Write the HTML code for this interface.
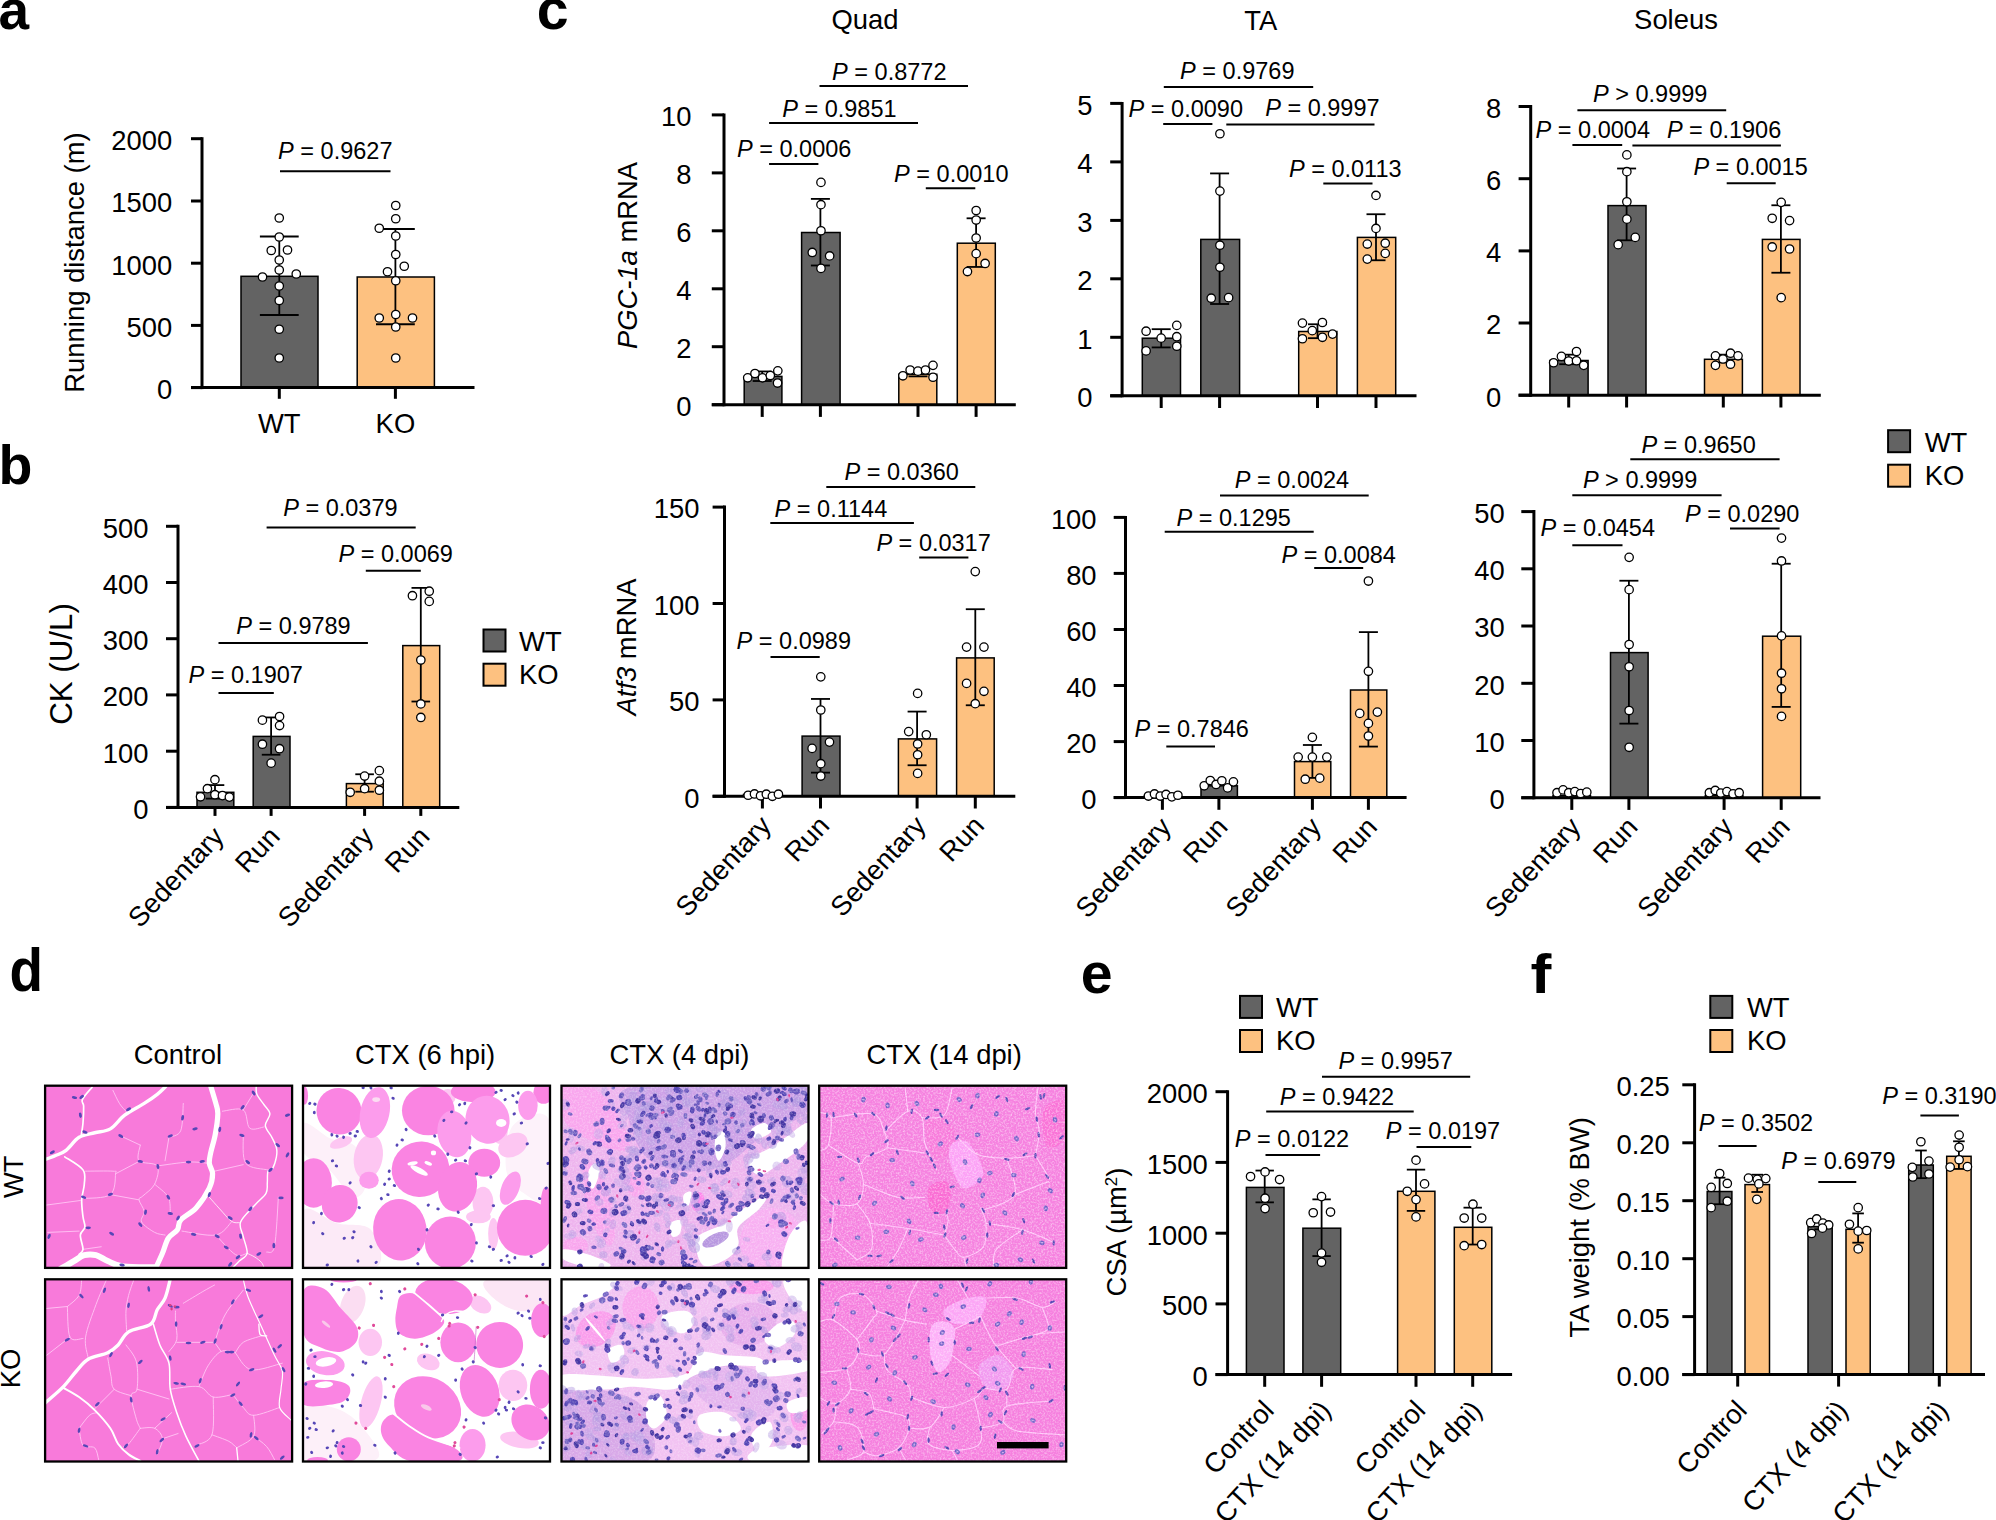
<!DOCTYPE html>
<html><head><meta charset="utf-8"><title>Figure</title>
<style>
html,body{margin:0;padding:0;background:#fff;}
svg{display:block;}
svg text{font-family:"Liberation Sans",Arial,Helvetica,sans-serif;fill:#000;}
</style></head><body>
<svg width="1996" height="1520" viewBox="0 0 1996 1520">
<rect width="1996" height="1520" fill="#fff"/>
<text transform="translate(-1.5 29) scale(1.0 1)" x="0" y="0" font-size="55" font-weight="bold">a</text>
<text transform="translate(-1.4 483.6) scale(1.0 1)" x="0" y="0" font-size="55.5" font-weight="bold">b</text>
<text transform="translate(536.8 29) scale(1.0 1)" x="0" y="0" font-size="57.3" font-weight="bold">c</text>
<text transform="translate(9.6 990.8) scale(0.895 1)" x="0" y="0" font-size="61.3" font-weight="bold">d</text>
<text transform="translate(1080.8 993.2) scale(1.0 1)" x="0" y="0" font-size="57.3" font-weight="bold">e</text>
<text transform="translate(1530.6 992.8) scale(1.13 1)" x="0" y="0" font-size="55.5" font-weight="bold">f</text>
<rect x="241" y="276.3" width="77" height="111.3" fill="#636363" stroke="#000" stroke-width="1.5"/>
<rect x="357.2" y="277" width="77.2" height="110.6" fill="#FDC180" stroke="#000" stroke-width="1.5"/>
<line x1="279.3" y1="236.5" x2="279.3" y2="315" stroke="#000" stroke-width="1.8" stroke-linecap="butt"/>
<line x1="259.9" y1="236.5" x2="298.7" y2="236.5" stroke="#000" stroke-width="1.8" stroke-linecap="butt"/>
<line x1="259.9" y1="315" x2="298.7" y2="315" stroke="#000" stroke-width="1.8" stroke-linecap="butt"/>
<line x1="395.4" y1="229" x2="395.4" y2="324.25" stroke="#000" stroke-width="1.8" stroke-linecap="butt"/>
<line x1="376" y1="229" x2="414.8" y2="229" stroke="#000" stroke-width="1.8" stroke-linecap="butt"/>
<line x1="376" y1="324.25" x2="414.8" y2="324.25" stroke="#000" stroke-width="1.8" stroke-linecap="butt"/>
<line x1="202" y1="137.2" x2="202" y2="389.1" stroke="#000" stroke-width="3" stroke-linecap="butt"/>
<line x1="191" y1="387.6" x2="474.5" y2="387.6" stroke="#000" stroke-width="3" stroke-linecap="butt"/>
<line x1="191" y1="138.7" x2="202" y2="138.7" stroke="#000" stroke-width="3" stroke-linecap="butt"/>
<text x="172.3" y="150" font-size="27.4" text-anchor="end">2000</text>
<line x1="191" y1="201" x2="202" y2="201" stroke="#000" stroke-width="3" stroke-linecap="butt"/>
<text x="172.3" y="212.3" font-size="27.4" text-anchor="end">1500</text>
<line x1="191" y1="263.2" x2="202" y2="263.2" stroke="#000" stroke-width="3" stroke-linecap="butt"/>
<text x="172.3" y="274.5" font-size="27.4" text-anchor="end">1000</text>
<line x1="191" y1="325.4" x2="202" y2="325.4" stroke="#000" stroke-width="3" stroke-linecap="butt"/>
<text x="172.3" y="336.7" font-size="27.4" text-anchor="end">500</text>
<line x1="191" y1="387.6" x2="202" y2="387.6" stroke="#000" stroke-width="3" stroke-linecap="butt"/>
<text x="172.3" y="398.9" font-size="27.4" text-anchor="end">0</text>
<line x1="279.3" y1="387.6" x2="279.3" y2="398.8" stroke="#000" stroke-width="3" stroke-linecap="butt"/>
<line x1="395.4" y1="387.6" x2="395.4" y2="398.8" stroke="#000" stroke-width="3" stroke-linecap="butt"/>
<circle cx="279.25" cy="218" r="4.2" fill="#fff" stroke="#000" stroke-width="1.3"/>
<circle cx="279.25" cy="237" r="4.2" fill="#fff" stroke="#000" stroke-width="1.3"/>
<circle cx="271.25" cy="250.5" r="4.2" fill="#fff" stroke="#000" stroke-width="1.3"/>
<circle cx="287.5" cy="250" r="4.2" fill="#fff" stroke="#000" stroke-width="1.3"/>
<circle cx="279.25" cy="260" r="4.2" fill="#fff" stroke="#000" stroke-width="1.3"/>
<circle cx="279.25" cy="270" r="4.2" fill="#fff" stroke="#000" stroke-width="1.3"/>
<circle cx="262.5" cy="277" r="4.2" fill="#fff" stroke="#000" stroke-width="1.3"/>
<circle cx="296.25" cy="274" r="4.2" fill="#fff" stroke="#000" stroke-width="1.3"/>
<circle cx="279.25" cy="286" r="4.2" fill="#fff" stroke="#000" stroke-width="1.3"/>
<circle cx="279.25" cy="300.5" r="4.2" fill="#fff" stroke="#000" stroke-width="1.3"/>
<circle cx="279.25" cy="329.25" r="4.2" fill="#fff" stroke="#000" stroke-width="1.3"/>
<circle cx="279.25" cy="358" r="4.2" fill="#fff" stroke="#000" stroke-width="1.3"/>
<circle cx="395.75" cy="205.5" r="4.2" fill="#fff" stroke="#000" stroke-width="1.3"/>
<circle cx="395.75" cy="218.75" r="4.2" fill="#fff" stroke="#000" stroke-width="1.3"/>
<circle cx="379.25" cy="228.25" r="4.2" fill="#fff" stroke="#000" stroke-width="1.3"/>
<circle cx="395.75" cy="236" r="4.2" fill="#fff" stroke="#000" stroke-width="1.3"/>
<circle cx="395.75" cy="254.5" r="4.2" fill="#fff" stroke="#000" stroke-width="1.3"/>
<circle cx="404.25" cy="266.25" r="4.2" fill="#fff" stroke="#000" stroke-width="1.3"/>
<circle cx="387.5" cy="271.75" r="4.2" fill="#fff" stroke="#000" stroke-width="1.3"/>
<circle cx="395.75" cy="280.75" r="4.2" fill="#fff" stroke="#000" stroke-width="1.3"/>
<circle cx="395.75" cy="314.5" r="4.2" fill="#fff" stroke="#000" stroke-width="1.3"/>
<circle cx="379.25" cy="318" r="4.2" fill="#fff" stroke="#000" stroke-width="1.3"/>
<circle cx="412.5" cy="318" r="4.2" fill="#fff" stroke="#000" stroke-width="1.3"/>
<circle cx="395.75" cy="327" r="4.2" fill="#fff" stroke="#000" stroke-width="1.3"/>
<circle cx="395.75" cy="358" r="4.2" fill="#fff" stroke="#000" stroke-width="1.3"/>
<text x="335.3" y="158.7" font-size="23.5" text-anchor="middle"><tspan font-style="italic">P</tspan> = 0.9627</text>
<line x1="280" y1="171.25" x2="390.5" y2="171.25" stroke="#000" stroke-width="2" stroke-linecap="butt"/>
<text x="279.3" y="433" font-size="27.4" text-anchor="middle">WT</text>
<text x="395.4" y="433" font-size="27.4" text-anchor="middle">KO</text>
<text x="83.5" y="262.5" font-size="27.4" text-anchor="middle" transform="rotate(-90 83.5 262.5)">Running distance (m)</text>
<rect x="197" y="792.3" width="36.8" height="15.1" fill="#636363" stroke="#000" stroke-width="1.5"/>
<rect x="253.2" y="736.4" width="36.8" height="71" fill="#636363" stroke="#000" stroke-width="1.5"/>
<rect x="346.4" y="783.6" width="36.8" height="23.8" fill="#FDC180" stroke="#000" stroke-width="1.5"/>
<rect x="402.8" y="645.6" width="36.9" height="161.8" fill="#FDC180" stroke="#000" stroke-width="1.5"/>
<line x1="215" y1="785.09" x2="215" y2="798.61" stroke="#000" stroke-width="1.8" stroke-linecap="butt"/>
<line x1="205.7" y1="785.09" x2="224.3" y2="785.09" stroke="#000" stroke-width="1.8" stroke-linecap="butt"/>
<line x1="205.7" y1="798.61" x2="224.3" y2="798.61" stroke="#000" stroke-width="1.8" stroke-linecap="butt"/>
<line x1="271.1" y1="717.45" x2="271.1" y2="754.73" stroke="#000" stroke-width="1.8" stroke-linecap="butt"/>
<line x1="261.8" y1="717.45" x2="280.4" y2="717.45" stroke="#000" stroke-width="1.8" stroke-linecap="butt"/>
<line x1="261.8" y1="754.73" x2="280.4" y2="754.73" stroke="#000" stroke-width="1.8" stroke-linecap="butt"/>
<line x1="364.6" y1="774.27" x2="364.6" y2="791.7" stroke="#000" stroke-width="1.8" stroke-linecap="butt"/>
<line x1="355.3" y1="774.27" x2="373.9" y2="774.27" stroke="#000" stroke-width="1.8" stroke-linecap="butt"/>
<line x1="355.3" y1="791.7" x2="373.9" y2="791.7" stroke="#000" stroke-width="1.8" stroke-linecap="butt"/>
<line x1="420.8" y1="587.89" x2="420.8" y2="701.52" stroke="#000" stroke-width="1.8" stroke-linecap="butt"/>
<line x1="411.5" y1="587.89" x2="430.1" y2="587.89" stroke="#000" stroke-width="1.8" stroke-linecap="butt"/>
<line x1="411.5" y1="701.52" x2="430.1" y2="701.52" stroke="#000" stroke-width="1.8" stroke-linecap="butt"/>
<line x1="178" y1="524.8" x2="178" y2="808.9" stroke="#000" stroke-width="3" stroke-linecap="butt"/>
<line x1="166" y1="807.4" x2="459.3" y2="807.4" stroke="#000" stroke-width="3" stroke-linecap="butt"/>
<line x1="166" y1="526.3" x2="178" y2="526.3" stroke="#000" stroke-width="3" stroke-linecap="butt"/>
<text x="148.5" y="537.6" font-size="27.4" text-anchor="end">500</text>
<line x1="166" y1="582.5" x2="178" y2="582.5" stroke="#000" stroke-width="3" stroke-linecap="butt"/>
<text x="148.5" y="593.8" font-size="27.4" text-anchor="end">400</text>
<line x1="166" y1="638.7" x2="178" y2="638.7" stroke="#000" stroke-width="3" stroke-linecap="butt"/>
<text x="148.5" y="650" font-size="27.4" text-anchor="end">300</text>
<line x1="166" y1="694.9" x2="178" y2="694.9" stroke="#000" stroke-width="3" stroke-linecap="butt"/>
<text x="148.5" y="706.2" font-size="27.4" text-anchor="end">200</text>
<line x1="166" y1="751.2" x2="178" y2="751.2" stroke="#000" stroke-width="3" stroke-linecap="butt"/>
<text x="148.5" y="762.5" font-size="27.4" text-anchor="end">100</text>
<line x1="166" y1="807.4" x2="178" y2="807.4" stroke="#000" stroke-width="3" stroke-linecap="butt"/>
<text x="148.5" y="818.7" font-size="27.4" text-anchor="end">0</text>
<line x1="215" y1="807.4" x2="215" y2="815.9" stroke="#000" stroke-width="3" stroke-linecap="butt"/>
<line x1="271.1" y1="807.4" x2="271.1" y2="815.9" stroke="#000" stroke-width="3" stroke-linecap="butt"/>
<line x1="364.6" y1="807.4" x2="364.6" y2="815.9" stroke="#000" stroke-width="3" stroke-linecap="butt"/>
<line x1="420.8" y1="807.4" x2="420.8" y2="815.9" stroke="#000" stroke-width="3" stroke-linecap="butt"/>
<circle cx="200.5" cy="796.81" r="4.2" fill="#fff" stroke="#000" stroke-width="1.3"/>
<circle cx="207.41" cy="788.69" r="4.2" fill="#fff" stroke="#000" stroke-width="1.3"/>
<circle cx="214.93" cy="779.68" r="4.2" fill="#fff" stroke="#000" stroke-width="1.3"/>
<circle cx="214.93" cy="794.71" r="4.2" fill="#fff" stroke="#000" stroke-width="1.3"/>
<circle cx="222.44" cy="795.61" r="4.2" fill="#fff" stroke="#000" stroke-width="1.3"/>
<circle cx="229.36" cy="797.11" r="4.2" fill="#fff" stroke="#000" stroke-width="1.3"/>
<circle cx="262.42" cy="720.16" r="4.2" fill="#fff" stroke="#000" stroke-width="1.3"/>
<circle cx="279.56" cy="716.55" r="4.2" fill="#fff" stroke="#000" stroke-width="1.3"/>
<circle cx="279.56" cy="725.57" r="4.2" fill="#fff" stroke="#000" stroke-width="1.3"/>
<circle cx="262.42" cy="744.21" r="4.2" fill="#fff" stroke="#000" stroke-width="1.3"/>
<circle cx="279.56" cy="748.71" r="4.2" fill="#fff" stroke="#000" stroke-width="1.3"/>
<circle cx="271.14" cy="763.14" r="4.2" fill="#fff" stroke="#000" stroke-width="1.3"/>
<circle cx="350.2" cy="792.3" r="4.2" fill="#fff" stroke="#000" stroke-width="1.3"/>
<circle cx="364.63" cy="776.07" r="4.2" fill="#fff" stroke="#000" stroke-width="1.3"/>
<circle cx="379.35" cy="770.66" r="4.2" fill="#fff" stroke="#000" stroke-width="1.3"/>
<circle cx="379.35" cy="781.18" r="4.2" fill="#fff" stroke="#000" stroke-width="1.3"/>
<circle cx="364.63" cy="788.69" r="4.2" fill="#fff" stroke="#000" stroke-width="1.3"/>
<circle cx="379.35" cy="790.2" r="4.2" fill="#fff" stroke="#000" stroke-width="1.3"/>
<circle cx="412.42" cy="595.71" r="4.2" fill="#fff" stroke="#000" stroke-width="1.3"/>
<circle cx="429.25" cy="591.2" r="4.2" fill="#fff" stroke="#000" stroke-width="1.3"/>
<circle cx="429.25" cy="601.42" r="4.2" fill="#fff" stroke="#000" stroke-width="1.3"/>
<circle cx="420.84" cy="660.04" r="4.2" fill="#fff" stroke="#000" stroke-width="1.3"/>
<circle cx="420.84" cy="703.93" r="4.2" fill="#fff" stroke="#000" stroke-width="1.3"/>
<circle cx="420.84" cy="717.45" r="4.2" fill="#fff" stroke="#000" stroke-width="1.3"/>
<text x="340.4" y="515.8" font-size="23.5" text-anchor="middle"><tspan font-style="italic">P</tspan> = 0.0379</text>
<line x1="266.6" y1="527.5" x2="415.7" y2="527.5" stroke="#000" stroke-width="2" stroke-linecap="butt"/>
<text x="395.7" y="561.8" font-size="23.5" text-anchor="middle"><tspan font-style="italic">P</tspan> = 0.0069</text>
<line x1="365.8" y1="570.8" x2="420.8" y2="570.8" stroke="#000" stroke-width="2" stroke-linecap="butt"/>
<text x="293.5" y="634" font-size="23.5" text-anchor="middle"><tspan font-style="italic">P</tspan> = 0.9789</text>
<line x1="218.5" y1="642.9" x2="367.9" y2="642.9" stroke="#000" stroke-width="2" stroke-linecap="butt"/>
<text x="245.7" y="682.7" font-size="23.5" text-anchor="middle"><tspan font-style="italic">P</tspan> = 0.1907</text>
<line x1="218.5" y1="693.1" x2="273.8" y2="693.1" stroke="#000" stroke-width="2" stroke-linecap="butt"/>
<text x="71.5" y="664" font-size="31.3" text-anchor="middle" transform="rotate(-90 71.5 664)">CK (U/L)</text>
<text x="225.3" y="837.7" font-size="27.4" text-anchor="end" transform="rotate(-47 225.3 837.7)">Sedentary</text>
<text x="281.4" y="837.7" font-size="27.4" text-anchor="end" transform="rotate(-47 281.4 837.7)">Run</text>
<text x="374.9" y="837.7" font-size="27.4" text-anchor="end" transform="rotate(-47 374.9 837.7)">Sedentary</text>
<text x="431.1" y="837.7" font-size="27.4" text-anchor="end" transform="rotate(-47 431.1 837.7)">Run</text>
<rect x="483.5" y="629.5" width="22" height="22" fill="#636363" stroke="#000" stroke-width="2"/>
<rect x="483.5" y="663.7" width="22" height="22" fill="#FDC180" stroke="#000" stroke-width="2"/>
<text x="519.1" y="651.3" font-size="27.4" text-anchor="start">WT</text>
<text x="519.1" y="684.1" font-size="27.4" text-anchor="start">KO</text>
<rect x="744.2" y="376.4" width="37.7" height="28.3" fill="#636363" stroke="#000" stroke-width="1.5"/>
<rect x="801.6" y="232.5" width="38.5" height="172.2" fill="#636363" stroke="#000" stroke-width="1.5"/>
<rect x="898.8" y="374.3" width="38" height="30.4" fill="#FDC180" stroke="#000" stroke-width="1.5"/>
<rect x="957.3" y="243.2" width="38" height="161.5" fill="#FDC180" stroke="#000" stroke-width="1.5"/>
<line x1="762.2" y1="371.45" x2="762.2" y2="381.01" stroke="#000" stroke-width="1.8" stroke-linecap="butt"/>
<line x1="752.7" y1="371.45" x2="771.7" y2="371.45" stroke="#000" stroke-width="1.8" stroke-linecap="butt"/>
<line x1="752.7" y1="381.01" x2="771.7" y2="381.01" stroke="#000" stroke-width="1.8" stroke-linecap="butt"/>
<line x1="820.4" y1="198.9" x2="820.4" y2="265.49" stroke="#000" stroke-width="1.8" stroke-linecap="butt"/>
<line x1="810.9" y1="198.9" x2="829.9" y2="198.9" stroke="#000" stroke-width="1.8" stroke-linecap="butt"/>
<line x1="810.9" y1="265.49" x2="829.9" y2="265.49" stroke="#000" stroke-width="1.8" stroke-linecap="butt"/>
<line x1="918" y1="369.72" x2="918" y2="376.38" stroke="#000" stroke-width="1.8" stroke-linecap="butt"/>
<line x1="908.5" y1="369.72" x2="927.5" y2="369.72" stroke="#000" stroke-width="1.8" stroke-linecap="butt"/>
<line x1="908.5" y1="376.38" x2="927.5" y2="376.38" stroke="#000" stroke-width="1.8" stroke-linecap="butt"/>
<line x1="976.1" y1="218.3" x2="976.1" y2="266.94" stroke="#000" stroke-width="1.8" stroke-linecap="butt"/>
<line x1="966.6" y1="218.3" x2="985.6" y2="218.3" stroke="#000" stroke-width="1.8" stroke-linecap="butt"/>
<line x1="966.6" y1="266.94" x2="985.6" y2="266.94" stroke="#000" stroke-width="1.8" stroke-linecap="butt"/>
<line x1="724" y1="113.4" x2="724" y2="406.2" stroke="#000" stroke-width="3" stroke-linecap="butt"/>
<line x1="711.8" y1="404.7" x2="1015.8" y2="404.7" stroke="#000" stroke-width="3" stroke-linecap="butt"/>
<line x1="711.8" y1="114.9" x2="724" y2="114.9" stroke="#000" stroke-width="3" stroke-linecap="butt"/>
<text x="691.5" y="126.2" font-size="27.4" text-anchor="end">10</text>
<line x1="711.8" y1="172.9" x2="724" y2="172.9" stroke="#000" stroke-width="3" stroke-linecap="butt"/>
<text x="691.5" y="184.2" font-size="27.4" text-anchor="end">8</text>
<line x1="711.8" y1="230.8" x2="724" y2="230.8" stroke="#000" stroke-width="3" stroke-linecap="butt"/>
<text x="691.5" y="242.1" font-size="27.4" text-anchor="end">6</text>
<line x1="711.8" y1="288.8" x2="724" y2="288.8" stroke="#000" stroke-width="3" stroke-linecap="butt"/>
<text x="691.5" y="300.1" font-size="27.4" text-anchor="end">4</text>
<line x1="711.8" y1="346.7" x2="724" y2="346.7" stroke="#000" stroke-width="3" stroke-linecap="butt"/>
<text x="691.5" y="358" font-size="27.4" text-anchor="end">2</text>
<line x1="711.8" y1="404.7" x2="724" y2="404.7" stroke="#000" stroke-width="3" stroke-linecap="butt"/>
<text x="691.5" y="416" font-size="27.4" text-anchor="end">0</text>
<line x1="762.2" y1="404.7" x2="762.2" y2="416.9" stroke="#000" stroke-width="3" stroke-linecap="butt"/>
<line x1="820.4" y1="404.7" x2="820.4" y2="416.9" stroke="#000" stroke-width="3" stroke-linecap="butt"/>
<line x1="918" y1="404.7" x2="918" y2="416.9" stroke="#000" stroke-width="3" stroke-linecap="butt"/>
<line x1="976.1" y1="404.7" x2="976.1" y2="416.9" stroke="#000" stroke-width="3" stroke-linecap="butt"/>
<circle cx="747.72" cy="377.82" r="4.2" fill="#fff" stroke="#000" stroke-width="1.3"/>
<circle cx="754.96" cy="373.48" r="4.2" fill="#fff" stroke="#000" stroke-width="1.3"/>
<circle cx="762.48" cy="377.82" r="4.2" fill="#fff" stroke="#000" stroke-width="1.3"/>
<circle cx="770.3" cy="375.51" r="4.2" fill="#fff" stroke="#000" stroke-width="1.3"/>
<circle cx="777.83" cy="370.87" r="4.2" fill="#fff" stroke="#000" stroke-width="1.3"/>
<circle cx="777.54" cy="383.03" r="4.2" fill="#fff" stroke="#000" stroke-width="1.3"/>
<circle cx="820.97" cy="182.4" r="4.2" fill="#fff" stroke="#000" stroke-width="1.3"/>
<circle cx="820.97" cy="204.69" r="4.2" fill="#fff" stroke="#000" stroke-width="1.3"/>
<circle cx="820.97" cy="230.75" r="4.2" fill="#fff" stroke="#000" stroke-width="1.3"/>
<circle cx="812.28" cy="252.46" r="4.2" fill="#fff" stroke="#000" stroke-width="1.3"/>
<circle cx="829.65" cy="255.94" r="4.2" fill="#fff" stroke="#000" stroke-width="1.3"/>
<circle cx="820.97" cy="268.38" r="4.2" fill="#fff" stroke="#000" stroke-width="1.3"/>
<circle cx="902.9" cy="375.8" r="4.2" fill="#fff" stroke="#000" stroke-width="1.3"/>
<circle cx="910.14" cy="370.01" r="4.2" fill="#fff" stroke="#000" stroke-width="1.3"/>
<circle cx="917.96" cy="371.16" r="4.2" fill="#fff" stroke="#000" stroke-width="1.3"/>
<circle cx="925.48" cy="370.01" r="4.2" fill="#fff" stroke="#000" stroke-width="1.3"/>
<circle cx="933.01" cy="365.37" r="4.2" fill="#fff" stroke="#000" stroke-width="1.3"/>
<circle cx="933.01" cy="377.24" r="4.2" fill="#fff" stroke="#000" stroke-width="1.3"/>
<circle cx="976.15" cy="210.48" r="4.2" fill="#fff" stroke="#000" stroke-width="1.3"/>
<circle cx="976.15" cy="220.03" r="4.2" fill="#fff" stroke="#000" stroke-width="1.3"/>
<circle cx="976.15" cy="237.98" r="4.2" fill="#fff" stroke="#000" stroke-width="1.3"/>
<circle cx="976.15" cy="253.62" r="4.2" fill="#fff" stroke="#000" stroke-width="1.3"/>
<circle cx="985.12" cy="263.46" r="4.2" fill="#fff" stroke="#000" stroke-width="1.3"/>
<circle cx="967.46" cy="271.57" r="4.2" fill="#fff" stroke="#000" stroke-width="1.3"/>
<text x="889.3" y="80.3" font-size="23.5" text-anchor="middle"><tspan font-style="italic">P</tspan> = 0.8772</text>
<line x1="819.5" y1="86" x2="968" y2="86" stroke="#000" stroke-width="2" stroke-linecap="butt"/>
<text x="839.4" y="116.5" font-size="23.5" text-anchor="middle"><tspan font-style="italic">P</tspan> = 0.9851</text>
<line x1="769.1" y1="123" x2="918" y2="123" stroke="#000" stroke-width="2" stroke-linecap="butt"/>
<text x="794.2" y="157" font-size="23.5" text-anchor="middle"><tspan font-style="italic">P</tspan> = 0.0006</text>
<line x1="769.1" y1="163.9" x2="818.4" y2="163.9" stroke="#000" stroke-width="2" stroke-linecap="butt"/>
<text x="951.3" y="181.7" font-size="23.5" text-anchor="middle"><tspan font-style="italic">P</tspan> = 0.0010</text>
<line x1="925.8" y1="188.2" x2="975.3" y2="188.2" stroke="#000" stroke-width="2" stroke-linecap="butt"/>
<text x="865" y="29" font-size="27.4" text-anchor="middle">Quad</text>
<text x="637.1" y="255.5" font-size="27.4" text-anchor="middle" transform="rotate(-90 637.1 255.5)"><tspan font-style="italic">PGC-1a</tspan> mRNA</text>
<rect x="1142.3" y="338.2" width="38.2" height="57.6" fill="#636363" stroke="#000" stroke-width="1.5"/>
<rect x="1200.8" y="239.4" width="38.8" height="156.4" fill="#636363" stroke="#000" stroke-width="1.5"/>
<rect x="1298.7" y="331.5" width="38.2" height="64.3" fill="#FDC180" stroke="#000" stroke-width="1.5"/>
<rect x="1357.4" y="237.4" width="38.3" height="158.4" fill="#FDC180" stroke="#000" stroke-width="1.5"/>
<line x1="1161.2" y1="329.18" x2="1161.2" y2="347.42" stroke="#000" stroke-width="1.8" stroke-linecap="butt"/>
<line x1="1151.7" y1="329.18" x2="1170.7" y2="329.18" stroke="#000" stroke-width="1.8" stroke-linecap="butt"/>
<line x1="1151.7" y1="347.42" x2="1170.7" y2="347.42" stroke="#000" stroke-width="1.8" stroke-linecap="butt"/>
<line x1="1219.6" y1="173.42" x2="1219.6" y2="304" stroke="#000" stroke-width="1.8" stroke-linecap="butt"/>
<line x1="1210.1" y1="173.42" x2="1229.1" y2="173.42" stroke="#000" stroke-width="1.8" stroke-linecap="butt"/>
<line x1="1210.1" y1="304" x2="1229.1" y2="304" stroke="#000" stroke-width="1.8" stroke-linecap="butt"/>
<line x1="1317.5" y1="324.26" x2="1317.5" y2="338.16" stroke="#000" stroke-width="1.8" stroke-linecap="butt"/>
<line x1="1308" y1="324.26" x2="1327" y2="324.26" stroke="#000" stroke-width="1.8" stroke-linecap="butt"/>
<line x1="1308" y1="338.16" x2="1327" y2="338.16" stroke="#000" stroke-width="1.8" stroke-linecap="butt"/>
<line x1="1376" y1="214.24" x2="1376" y2="260.28" stroke="#000" stroke-width="1.8" stroke-linecap="butt"/>
<line x1="1366.5" y1="214.24" x2="1385.5" y2="214.24" stroke="#000" stroke-width="1.8" stroke-linecap="butt"/>
<line x1="1366.5" y1="260.28" x2="1385.5" y2="260.28" stroke="#000" stroke-width="1.8" stroke-linecap="butt"/>
<line x1="1122.1" y1="101.9" x2="1122.1" y2="397.3" stroke="#000" stroke-width="3" stroke-linecap="butt"/>
<line x1="1110.2" y1="395.8" x2="1416.5" y2="395.8" stroke="#000" stroke-width="3" stroke-linecap="butt"/>
<line x1="1110.2" y1="103.4" x2="1122.1" y2="103.4" stroke="#000" stroke-width="3" stroke-linecap="butt"/>
<text x="1092.5" y="114.7" font-size="27.4" text-anchor="end">5</text>
<line x1="1110.2" y1="161.9" x2="1122.1" y2="161.9" stroke="#000" stroke-width="3" stroke-linecap="butt"/>
<text x="1092.5" y="173.2" font-size="27.4" text-anchor="end">4</text>
<line x1="1110.2" y1="220.4" x2="1122.1" y2="220.4" stroke="#000" stroke-width="3" stroke-linecap="butt"/>
<text x="1092.5" y="231.7" font-size="27.4" text-anchor="end">3</text>
<line x1="1110.2" y1="278.8" x2="1122.1" y2="278.8" stroke="#000" stroke-width="3" stroke-linecap="butt"/>
<text x="1092.5" y="290.1" font-size="27.4" text-anchor="end">2</text>
<line x1="1110.2" y1="337.3" x2="1122.1" y2="337.3" stroke="#000" stroke-width="3" stroke-linecap="butt"/>
<text x="1092.5" y="348.6" font-size="27.4" text-anchor="end">1</text>
<line x1="1110.2" y1="395.8" x2="1122.1" y2="395.8" stroke="#000" stroke-width="3" stroke-linecap="butt"/>
<text x="1092.5" y="407.1" font-size="27.4" text-anchor="end">0</text>
<line x1="1161.2" y1="395.8" x2="1161.2" y2="408" stroke="#000" stroke-width="3" stroke-linecap="butt"/>
<line x1="1219.6" y1="395.8" x2="1219.6" y2="408" stroke="#000" stroke-width="3" stroke-linecap="butt"/>
<line x1="1317.5" y1="395.8" x2="1317.5" y2="408" stroke="#000" stroke-width="3" stroke-linecap="butt"/>
<line x1="1376" y1="395.8" x2="1376" y2="408" stroke="#000" stroke-width="3" stroke-linecap="butt"/>
<circle cx="1146.1" cy="331.21" r="4.2" fill="#fff" stroke="#000" stroke-width="1.3"/>
<circle cx="1146.1" cy="350.9" r="4.2" fill="#fff" stroke="#000" stroke-width="1.3"/>
<circle cx="1161.15" cy="338.16" r="4.2" fill="#fff" stroke="#000" stroke-width="1.3"/>
<circle cx="1176.79" cy="325.42" r="4.2" fill="#fff" stroke="#000" stroke-width="1.3"/>
<circle cx="1176.79" cy="336.71" r="4.2" fill="#fff" stroke="#000" stroke-width="1.3"/>
<circle cx="1176.79" cy="346.27" r="4.2" fill="#fff" stroke="#000" stroke-width="1.3"/>
<circle cx="1219.92" cy="133.76" r="4.2" fill="#fff" stroke="#000" stroke-width="1.3"/>
<circle cx="1219.92" cy="191.08" r="4.2" fill="#fff" stroke="#000" stroke-width="1.3"/>
<circle cx="1219.92" cy="245.22" r="4.2" fill="#fff" stroke="#000" stroke-width="1.3"/>
<circle cx="1219.92" cy="267.23" r="4.2" fill="#fff" stroke="#000" stroke-width="1.3"/>
<circle cx="1211.24" cy="298.2" r="4.2" fill="#fff" stroke="#000" stroke-width="1.3"/>
<circle cx="1228.61" cy="297.63" r="4.2" fill="#fff" stroke="#000" stroke-width="1.3"/>
<circle cx="1302.44" cy="323.1" r="4.2" fill="#fff" stroke="#000" stroke-width="1.3"/>
<circle cx="1302.44" cy="338.74" r="4.2" fill="#fff" stroke="#000" stroke-width="1.3"/>
<circle cx="1312.28" cy="330.63" r="4.2" fill="#fff" stroke="#000" stroke-width="1.3"/>
<circle cx="1322.41" cy="322.52" r="4.2" fill="#fff" stroke="#000" stroke-width="1.3"/>
<circle cx="1322.41" cy="337.29" r="4.2" fill="#fff" stroke="#000" stroke-width="1.3"/>
<circle cx="1332.55" cy="334.11" r="4.2" fill="#fff" stroke="#000" stroke-width="1.3"/>
<circle cx="1375.98" cy="195.43" r="4.2" fill="#fff" stroke="#000" stroke-width="1.3"/>
<circle cx="1375.98" cy="228.43" r="4.2" fill="#fff" stroke="#000" stroke-width="1.3"/>
<circle cx="1367.29" cy="244.06" r="4.2" fill="#fff" stroke="#000" stroke-width="1.3"/>
<circle cx="1385.24" cy="243.2" r="4.2" fill="#fff" stroke="#000" stroke-width="1.3"/>
<circle cx="1385.24" cy="253.33" r="4.2" fill="#fff" stroke="#000" stroke-width="1.3"/>
<circle cx="1367.29" cy="259.12" r="4.2" fill="#fff" stroke="#000" stroke-width="1.3"/>
<text x="1237.3" y="79.4" font-size="23.5" text-anchor="middle"><tspan font-style="italic">P</tspan> = 0.9769</text>
<line x1="1163.8" y1="87.1" x2="1313.2" y2="87.1" stroke="#000" stroke-width="2" stroke-linecap="butt"/>
<text x="1185.8" y="117.4" font-size="23.5" text-anchor="middle"><tspan font-style="italic">P</tspan> = 0.0090</text>
<line x1="1163.2" y1="123.9" x2="1212.4" y2="123.9" stroke="#000" stroke-width="2" stroke-linecap="butt"/>
<text x="1322.4" y="115.6" font-size="23.5" text-anchor="middle"><tspan font-style="italic">P</tspan> = 0.9997</text>
<line x1="1226.3" y1="124.5" x2="1374.5" y2="124.5" stroke="#000" stroke-width="2" stroke-linecap="butt"/>
<text x="1345.3" y="177.3" font-size="23.5" text-anchor="middle"><tspan font-style="italic">P</tspan> = 0.0113</text>
<line x1="1323.3" y1="183.6" x2="1372.5" y2="183.6" stroke="#000" stroke-width="2" stroke-linecap="butt"/>
<text x="1260.7" y="29.5" font-size="27.4" text-anchor="middle">TA</text>
<rect x="1549.9" y="360.5" width="38.2" height="34.7" fill="#636363" stroke="#000" stroke-width="1.5"/>
<rect x="1608" y="205.6" width="38" height="189.6" fill="#636363" stroke="#000" stroke-width="1.5"/>
<rect x="1704.5" y="359.3" width="37.9" height="35.9" fill="#FDC180" stroke="#000" stroke-width="1.5"/>
<rect x="1762.4" y="239.4" width="37.6" height="155.8" fill="#FDC180" stroke="#000" stroke-width="1.5"/>
<line x1="1568.7" y1="354.66" x2="1568.7" y2="364.22" stroke="#000" stroke-width="1.8" stroke-linecap="butt"/>
<line x1="1559.2" y1="354.66" x2="1578.2" y2="354.66" stroke="#000" stroke-width="1.8" stroke-linecap="butt"/>
<line x1="1559.2" y1="364.22" x2="1578.2" y2="364.22" stroke="#000" stroke-width="1.8" stroke-linecap="butt"/>
<line x1="1626.6" y1="168.5" x2="1626.6" y2="240.3" stroke="#000" stroke-width="1.8" stroke-linecap="butt"/>
<line x1="1617.1" y1="168.5" x2="1636.1" y2="168.5" stroke="#000" stroke-width="1.8" stroke-linecap="butt"/>
<line x1="1617.1" y1="240.3" x2="1636.1" y2="240.3" stroke="#000" stroke-width="1.8" stroke-linecap="butt"/>
<line x1="1723.3" y1="354.66" x2="1723.3" y2="362.48" stroke="#000" stroke-width="1.8" stroke-linecap="butt"/>
<line x1="1713.8" y1="354.66" x2="1732.8" y2="354.66" stroke="#000" stroke-width="1.8" stroke-linecap="butt"/>
<line x1="1713.8" y1="362.48" x2="1732.8" y2="362.48" stroke="#000" stroke-width="1.8" stroke-linecap="butt"/>
<line x1="1780.9" y1="205.27" x2="1780.9" y2="272.73" stroke="#000" stroke-width="1.8" stroke-linecap="butt"/>
<line x1="1771.4" y1="205.27" x2="1790.4" y2="205.27" stroke="#000" stroke-width="1.8" stroke-linecap="butt"/>
<line x1="1771.4" y1="272.73" x2="1790.4" y2="272.73" stroke="#000" stroke-width="1.8" stroke-linecap="butt"/>
<line x1="1530.7" y1="105" x2="1530.7" y2="396.7" stroke="#000" stroke-width="3" stroke-linecap="butt"/>
<line x1="1518.6" y1="395.2" x2="1820.8" y2="395.2" stroke="#000" stroke-width="3" stroke-linecap="butt"/>
<line x1="1518.6" y1="106.5" x2="1530.7" y2="106.5" stroke="#000" stroke-width="3" stroke-linecap="butt"/>
<text x="1501.3" y="117.8" font-size="27.4" text-anchor="end">8</text>
<line x1="1518.6" y1="178.7" x2="1530.7" y2="178.7" stroke="#000" stroke-width="3" stroke-linecap="butt"/>
<text x="1501.3" y="190" font-size="27.4" text-anchor="end">6</text>
<line x1="1518.6" y1="250.9" x2="1530.7" y2="250.9" stroke="#000" stroke-width="3" stroke-linecap="butt"/>
<text x="1501.3" y="262.2" font-size="27.4" text-anchor="end">4</text>
<line x1="1518.6" y1="323" x2="1530.7" y2="323" stroke="#000" stroke-width="3" stroke-linecap="butt"/>
<text x="1501.3" y="334.3" font-size="27.4" text-anchor="end">2</text>
<line x1="1518.6" y1="395.2" x2="1530.7" y2="395.2" stroke="#000" stroke-width="3" stroke-linecap="butt"/>
<text x="1501.3" y="406.5" font-size="27.4" text-anchor="end">0</text>
<line x1="1568.7" y1="395.2" x2="1568.7" y2="407.5" stroke="#000" stroke-width="3" stroke-linecap="butt"/>
<line x1="1626.6" y1="395.2" x2="1626.6" y2="407.5" stroke="#000" stroke-width="3" stroke-linecap="butt"/>
<line x1="1723.3" y1="395.2" x2="1723.3" y2="407.5" stroke="#000" stroke-width="3" stroke-linecap="butt"/>
<line x1="1780.9" y1="395.2" x2="1780.9" y2="407.5" stroke="#000" stroke-width="3" stroke-linecap="butt"/>
<circle cx="1553.61" cy="362.77" r="4.2" fill="#fff" stroke="#000" stroke-width="1.3"/>
<circle cx="1561.43" cy="356.4" r="4.2" fill="#fff" stroke="#000" stroke-width="1.3"/>
<circle cx="1568.67" cy="361.03" r="4.2" fill="#fff" stroke="#000" stroke-width="1.3"/>
<circle cx="1576.49" cy="351.48" r="4.2" fill="#fff" stroke="#000" stroke-width="1.3"/>
<circle cx="1576.49" cy="360.74" r="4.2" fill="#fff" stroke="#000" stroke-width="1.3"/>
<circle cx="1583.72" cy="365.37" r="4.2" fill="#fff" stroke="#000" stroke-width="1.3"/>
<circle cx="1626.86" cy="154.89" r="4.2" fill="#fff" stroke="#000" stroke-width="1.3"/>
<circle cx="1626.86" cy="171.69" r="4.2" fill="#fff" stroke="#000" stroke-width="1.3"/>
<circle cx="1626.86" cy="201.8" r="4.2" fill="#fff" stroke="#000" stroke-width="1.3"/>
<circle cx="1626.86" cy="219.17" r="4.2" fill="#fff" stroke="#000" stroke-width="1.3"/>
<circle cx="1635.26" cy="237.41" r="4.2" fill="#fff" stroke="#000" stroke-width="1.3"/>
<circle cx="1618.18" cy="244.64" r="4.2" fill="#fff" stroke="#000" stroke-width="1.3"/>
<circle cx="1715.46" cy="355.82" r="4.2" fill="#fff" stroke="#000" stroke-width="1.3"/>
<circle cx="1715.46" cy="365.37" r="4.2" fill="#fff" stroke="#000" stroke-width="1.3"/>
<circle cx="1722.98" cy="359" r="4.2" fill="#fff" stroke="#000" stroke-width="1.3"/>
<circle cx="1730.51" cy="353.21" r="4.2" fill="#fff" stroke="#000" stroke-width="1.3"/>
<circle cx="1730.51" cy="364.22" r="4.2" fill="#fff" stroke="#000" stroke-width="1.3"/>
<circle cx="1738.04" cy="355.82" r="4.2" fill="#fff" stroke="#000" stroke-width="1.3"/>
<circle cx="1781.18" cy="202.37" r="4.2" fill="#fff" stroke="#000" stroke-width="1.3"/>
<circle cx="1772.2" cy="218.3" r="4.2" fill="#fff" stroke="#000" stroke-width="1.3"/>
<circle cx="1789.57" cy="220.61" r="4.2" fill="#fff" stroke="#000" stroke-width="1.3"/>
<circle cx="1772.2" cy="246.96" r="4.2" fill="#fff" stroke="#000" stroke-width="1.3"/>
<circle cx="1789.57" cy="248.99" r="4.2" fill="#fff" stroke="#000" stroke-width="1.3"/>
<circle cx="1781.18" cy="297.63" r="4.2" fill="#fff" stroke="#000" stroke-width="1.3"/>
<text x="1650.2" y="102" font-size="23.5" text-anchor="middle"><tspan font-style="italic">P</tspan> &gt; 0.9999</text>
<line x1="1577.4" y1="110.3" x2="1726.2" y2="110.3" stroke="#000" stroke-width="2" stroke-linecap="butt"/>
<text x="1592.8" y="138.2" font-size="23.5" text-anchor="middle"><tspan font-style="italic">P</tspan> = 0.0004</text>
<line x1="1572.4" y1="145" x2="1622.2" y2="145" stroke="#000" stroke-width="2" stroke-linecap="butt"/>
<text x="1724.1" y="138.2" font-size="23.5" text-anchor="middle"><tspan font-style="italic">P</tspan> = 0.1906</text>
<line x1="1632.4" y1="145.6" x2="1780.9" y2="145.6" stroke="#000" stroke-width="2" stroke-linecap="butt"/>
<text x="1750.6" y="174.7" font-size="23.5" text-anchor="middle"><tspan font-style="italic">P</tspan> = 0.0015</text>
<line x1="1726.7" y1="183.3" x2="1775.7" y2="183.3" stroke="#000" stroke-width="2" stroke-linecap="butt"/>
<text x="1676" y="29" font-size="27.4" text-anchor="middle">Soleus</text>
<rect x="743.5" y="794.5" width="37.8" height="1.8" fill="#636363" stroke="#000" stroke-width="1.5"/>
<rect x="802.1" y="736.1" width="37.9" height="60.2" fill="#636363" stroke="#000" stroke-width="1.5"/>
<rect x="898.4" y="738.9" width="38.2" height="57.4" fill="#FDC180" stroke="#000" stroke-width="1.5"/>
<rect x="956.6" y="657.9" width="37.6" height="138.4" fill="#FDC180" stroke="#000" stroke-width="1.5"/>
<line x1="820.5" y1="698.95" x2="820.5" y2="772.63" stroke="#000" stroke-width="1.8" stroke-linecap="butt"/>
<line x1="811" y1="698.95" x2="830" y2="698.95" stroke="#000" stroke-width="1.8" stroke-linecap="butt"/>
<line x1="811" y1="772.63" x2="830" y2="772.63" stroke="#000" stroke-width="1.8" stroke-linecap="butt"/>
<line x1="917.1" y1="711.58" x2="917.1" y2="765.26" stroke="#000" stroke-width="1.8" stroke-linecap="butt"/>
<line x1="907.6" y1="711.58" x2="926.6" y2="711.58" stroke="#000" stroke-width="1.8" stroke-linecap="butt"/>
<line x1="907.6" y1="765.26" x2="926.6" y2="765.26" stroke="#000" stroke-width="1.8" stroke-linecap="butt"/>
<line x1="975.3" y1="609.21" x2="975.3" y2="705.26" stroke="#000" stroke-width="1.8" stroke-linecap="butt"/>
<line x1="965.8" y1="609.21" x2="984.8" y2="609.21" stroke="#000" stroke-width="1.8" stroke-linecap="butt"/>
<line x1="965.8" y1="705.26" x2="984.8" y2="705.26" stroke="#000" stroke-width="1.8" stroke-linecap="butt"/>
<line x1="724.5" y1="505.6" x2="724.5" y2="797.8" stroke="#000" stroke-width="3" stroke-linecap="butt"/>
<line x1="712.6" y1="796.3" x2="1015.3" y2="796.3" stroke="#000" stroke-width="3" stroke-linecap="butt"/>
<line x1="712.6" y1="507.1" x2="724.5" y2="507.1" stroke="#000" stroke-width="3" stroke-linecap="butt"/>
<text x="699.5" y="518.4" font-size="27.4" text-anchor="end">150</text>
<line x1="712.6" y1="603.5" x2="724.5" y2="603.5" stroke="#000" stroke-width="3" stroke-linecap="butt"/>
<text x="699.5" y="614.8" font-size="27.4" text-anchor="end">100</text>
<line x1="712.6" y1="699.9" x2="724.5" y2="699.9" stroke="#000" stroke-width="3" stroke-linecap="butt"/>
<text x="699.5" y="711.2" font-size="27.4" text-anchor="end">50</text>
<line x1="712.6" y1="796.3" x2="724.5" y2="796.3" stroke="#000" stroke-width="3" stroke-linecap="butt"/>
<text x="699.5" y="807.6" font-size="27.4" text-anchor="end">0</text>
<line x1="762.4" y1="796.3" x2="762.4" y2="808.5" stroke="#000" stroke-width="3" stroke-linecap="butt"/>
<line x1="820.5" y1="796.3" x2="820.5" y2="808.5" stroke="#000" stroke-width="3" stroke-linecap="butt"/>
<line x1="917.1" y1="796.3" x2="917.1" y2="808.5" stroke="#000" stroke-width="3" stroke-linecap="butt"/>
<line x1="975.3" y1="796.3" x2="975.3" y2="808.5" stroke="#000" stroke-width="3" stroke-linecap="butt"/>
<circle cx="748.16" cy="795.26" r="4.2" fill="#fff" stroke="#000" stroke-width="1.3"/>
<circle cx="754.47" cy="793.95" r="4.2" fill="#fff" stroke="#000" stroke-width="1.3"/>
<circle cx="760.53" cy="795.79" r="4.2" fill="#fff" stroke="#000" stroke-width="1.3"/>
<circle cx="766.32" cy="794.21" r="4.2" fill="#fff" stroke="#000" stroke-width="1.3"/>
<circle cx="772.37" cy="796.32" r="4.2" fill="#fff" stroke="#000" stroke-width="1.3"/>
<circle cx="778.42" cy="794.21" r="4.2" fill="#fff" stroke="#000" stroke-width="1.3"/>
<circle cx="820.79" cy="676.84" r="4.2" fill="#fff" stroke="#000" stroke-width="1.3"/>
<circle cx="820.79" cy="710" r="4.2" fill="#fff" stroke="#000" stroke-width="1.3"/>
<circle cx="829.47" cy="742.11" r="4.2" fill="#fff" stroke="#000" stroke-width="1.3"/>
<circle cx="812.11" cy="748.42" r="4.2" fill="#fff" stroke="#000" stroke-width="1.3"/>
<circle cx="820.79" cy="763.68" r="4.2" fill="#fff" stroke="#000" stroke-width="1.3"/>
<circle cx="820.79" cy="776.05" r="4.2" fill="#fff" stroke="#000" stroke-width="1.3"/>
<circle cx="917.63" cy="693.42" r="4.2" fill="#fff" stroke="#000" stroke-width="1.3"/>
<circle cx="908.68" cy="731.58" r="4.2" fill="#fff" stroke="#000" stroke-width="1.3"/>
<circle cx="926.32" cy="734.74" r="4.2" fill="#fff" stroke="#000" stroke-width="1.3"/>
<circle cx="917.63" cy="743.95" r="4.2" fill="#fff" stroke="#000" stroke-width="1.3"/>
<circle cx="917.63" cy="754.74" r="4.2" fill="#fff" stroke="#000" stroke-width="1.3"/>
<circle cx="917.63" cy="773.42" r="4.2" fill="#fff" stroke="#000" stroke-width="1.3"/>
<circle cx="975.26" cy="571.58" r="4.2" fill="#fff" stroke="#000" stroke-width="1.3"/>
<circle cx="966.58" cy="647.11" r="4.2" fill="#fff" stroke="#000" stroke-width="1.3"/>
<circle cx="983.95" cy="647.11" r="4.2" fill="#fff" stroke="#000" stroke-width="1.3"/>
<circle cx="966.58" cy="683.42" r="4.2" fill="#fff" stroke="#000" stroke-width="1.3"/>
<circle cx="983.95" cy="691.32" r="4.2" fill="#fff" stroke="#000" stroke-width="1.3"/>
<circle cx="975.26" cy="703.68" r="4.2" fill="#fff" stroke="#000" stroke-width="1.3"/>
<text x="901.7" y="479.9" font-size="23.5" text-anchor="middle"><tspan font-style="italic">P</tspan> = 0.0360</text>
<line x1="826.3" y1="487.1" x2="975.3" y2="487.1" stroke="#000" stroke-width="2" stroke-linecap="butt"/>
<text x="830.9" y="516.7" font-size="23.5" text-anchor="middle"><tspan font-style="italic">P</tspan> = 0.1144</text>
<line x1="770.3" y1="522.9" x2="913.9" y2="522.9" stroke="#000" stroke-width="2" stroke-linecap="butt"/>
<text x="933.6" y="551.2" font-size="23.5" text-anchor="middle"><tspan font-style="italic">P</tspan> = 0.0317</text>
<line x1="919.2" y1="557.4" x2="968.4" y2="557.4" stroke="#000" stroke-width="2" stroke-linecap="butt"/>
<text x="793.8" y="649.1" font-size="23.5" text-anchor="middle"><tspan font-style="italic">P</tspan> = 0.0989</text>
<line x1="770.5" y1="657.1" x2="819.7" y2="657.1" stroke="#000" stroke-width="2" stroke-linecap="butt"/>
<text x="635.5" y="647" font-size="27.4" text-anchor="middle" transform="rotate(-90 635.5 647)"><tspan font-style="italic">Atf3</tspan> mRNA</text>
<text x="772.7" y="826.8" font-size="27.4" text-anchor="end" transform="rotate(-47 772.7 826.8)">Sedentary</text>
<text x="830.8" y="826.8" font-size="27.4" text-anchor="end" transform="rotate(-47 830.8 826.8)">Run</text>
<text x="927.4" y="826.8" font-size="27.4" text-anchor="end" transform="rotate(-47 927.4 826.8)">Sedentary</text>
<text x="985.6" y="826.8" font-size="27.4" text-anchor="end" transform="rotate(-47 985.6 826.8)">Run</text>
<rect x="1144.5" y="795.6" width="36.2" height="2" fill="#636363" stroke="#000" stroke-width="1.5"/>
<rect x="1201" y="785.8" width="36.4" height="11.8" fill="#636363" stroke="#000" stroke-width="1.5"/>
<rect x="1294.5" y="761.6" width="36.3" height="36" fill="#FDC180" stroke="#000" stroke-width="1.5"/>
<rect x="1350.5" y="690" width="36.3" height="107.6" fill="#FDC180" stroke="#000" stroke-width="1.5"/>
<line x1="1312.4" y1="745" x2="1312.4" y2="777.89" stroke="#000" stroke-width="1.8" stroke-linecap="butt"/>
<line x1="1302.9" y1="745" x2="1321.9" y2="745" stroke="#000" stroke-width="1.8" stroke-linecap="butt"/>
<line x1="1302.9" y1="777.89" x2="1321.9" y2="777.89" stroke="#000" stroke-width="1.8" stroke-linecap="butt"/>
<line x1="1368.4" y1="632.11" x2="1368.4" y2="746.58" stroke="#000" stroke-width="1.8" stroke-linecap="butt"/>
<line x1="1358.9" y1="632.11" x2="1377.9" y2="632.11" stroke="#000" stroke-width="1.8" stroke-linecap="butt"/>
<line x1="1358.9" y1="746.58" x2="1377.9" y2="746.58" stroke="#000" stroke-width="1.8" stroke-linecap="butt"/>
<line x1="1125.5" y1="515.9" x2="1125.5" y2="799.1" stroke="#000" stroke-width="3" stroke-linecap="butt"/>
<line x1="1113.7" y1="797.6" x2="1406.6" y2="797.6" stroke="#000" stroke-width="3" stroke-linecap="butt"/>
<line x1="1113.7" y1="517.4" x2="1125.5" y2="517.4" stroke="#000" stroke-width="3" stroke-linecap="butt"/>
<text x="1096.6" y="528.7" font-size="27.4" text-anchor="end">100</text>
<line x1="1113.7" y1="573.4" x2="1125.5" y2="573.4" stroke="#000" stroke-width="3" stroke-linecap="butt"/>
<text x="1096.6" y="584.7" font-size="27.4" text-anchor="end">80</text>
<line x1="1113.7" y1="629.5" x2="1125.5" y2="629.5" stroke="#000" stroke-width="3" stroke-linecap="butt"/>
<text x="1096.6" y="640.8" font-size="27.4" text-anchor="end">60</text>
<line x1="1113.7" y1="685.5" x2="1125.5" y2="685.5" stroke="#000" stroke-width="3" stroke-linecap="butt"/>
<text x="1096.6" y="696.8" font-size="27.4" text-anchor="end">40</text>
<line x1="1113.7" y1="741.6" x2="1125.5" y2="741.6" stroke="#000" stroke-width="3" stroke-linecap="butt"/>
<text x="1096.6" y="752.9" font-size="27.4" text-anchor="end">20</text>
<line x1="1113.7" y1="797.6" x2="1125.5" y2="797.6" stroke="#000" stroke-width="3" stroke-linecap="butt"/>
<text x="1096.6" y="808.9" font-size="27.4" text-anchor="end">0</text>
<line x1="1162.4" y1="797.6" x2="1162.4" y2="809.8" stroke="#000" stroke-width="3" stroke-linecap="butt"/>
<line x1="1218.9" y1="797.6" x2="1218.9" y2="809.8" stroke="#000" stroke-width="3" stroke-linecap="butt"/>
<line x1="1312.4" y1="797.6" x2="1312.4" y2="809.8" stroke="#000" stroke-width="3" stroke-linecap="butt"/>
<line x1="1368.4" y1="797.6" x2="1368.4" y2="809.8" stroke="#000" stroke-width="3" stroke-linecap="butt"/>
<circle cx="1148.42" cy="796.05" r="4.2" fill="#fff" stroke="#000" stroke-width="1.3"/>
<circle cx="1154.47" cy="793.95" r="4.2" fill="#fff" stroke="#000" stroke-width="1.3"/>
<circle cx="1160.26" cy="796.05" r="4.2" fill="#fff" stroke="#000" stroke-width="1.3"/>
<circle cx="1166.05" cy="794.47" r="4.2" fill="#fff" stroke="#000" stroke-width="1.3"/>
<circle cx="1171.84" cy="796.84" r="4.2" fill="#fff" stroke="#000" stroke-width="1.3"/>
<circle cx="1177.89" cy="795.26" r="4.2" fill="#fff" stroke="#000" stroke-width="1.3"/>
<circle cx="1204.21" cy="785.79" r="4.2" fill="#fff" stroke="#000" stroke-width="1.3"/>
<circle cx="1210.26" cy="780.53" r="4.2" fill="#fff" stroke="#000" stroke-width="1.3"/>
<circle cx="1216.05" cy="784.47" r="4.2" fill="#fff" stroke="#000" stroke-width="1.3"/>
<circle cx="1221.84" cy="780.79" r="4.2" fill="#fff" stroke="#000" stroke-width="1.3"/>
<circle cx="1227.63" cy="787.89" r="4.2" fill="#fff" stroke="#000" stroke-width="1.3"/>
<circle cx="1233.42" cy="781.84" r="4.2" fill="#fff" stroke="#000" stroke-width="1.3"/>
<circle cx="1312.37" cy="737.37" r="4.2" fill="#fff" stroke="#000" stroke-width="1.3"/>
<circle cx="1298.16" cy="757.11" r="4.2" fill="#fff" stroke="#000" stroke-width="1.3"/>
<circle cx="1312.37" cy="757.11" r="4.2" fill="#fff" stroke="#000" stroke-width="1.3"/>
<circle cx="1326.84" cy="757.11" r="4.2" fill="#fff" stroke="#000" stroke-width="1.3"/>
<circle cx="1305.26" cy="779.21" r="4.2" fill="#fff" stroke="#000" stroke-width="1.3"/>
<circle cx="1319.74" cy="778.16" r="4.2" fill="#fff" stroke="#000" stroke-width="1.3"/>
<circle cx="1368.42" cy="581.05" r="4.2" fill="#fff" stroke="#000" stroke-width="1.3"/>
<circle cx="1368.42" cy="671.32" r="4.2" fill="#fff" stroke="#000" stroke-width="1.3"/>
<circle cx="1359.74" cy="713.42" r="4.2" fill="#fff" stroke="#000" stroke-width="1.3"/>
<circle cx="1377.37" cy="712.11" r="4.2" fill="#fff" stroke="#000" stroke-width="1.3"/>
<circle cx="1368.42" cy="723.42" r="4.2" fill="#fff" stroke="#000" stroke-width="1.3"/>
<circle cx="1368.42" cy="736.05" r="4.2" fill="#fff" stroke="#000" stroke-width="1.3"/>
<text x="1292" y="488.1" font-size="23.5" text-anchor="middle"><tspan font-style="italic">P</tspan> = 0.0024</text>
<line x1="1220" y1="495.5" x2="1368.7" y2="495.5" stroke="#000" stroke-width="2" stroke-linecap="butt"/>
<text x="1233.7" y="526" font-size="23.5" text-anchor="middle"><tspan font-style="italic">P</tspan> = 0.1295</text>
<line x1="1164.7" y1="531.8" x2="1313.7" y2="531.8" stroke="#000" stroke-width="2" stroke-linecap="butt"/>
<text x="1338.7" y="563.1" font-size="23.5" text-anchor="middle"><tspan font-style="italic">P</tspan> = 0.0084</text>
<line x1="1314.2" y1="567.9" x2="1363.2" y2="567.9" stroke="#000" stroke-width="2" stroke-linecap="butt"/>
<text x="1191.7" y="737.3" font-size="23.5" text-anchor="middle"><tspan font-style="italic">P</tspan> = 0.7846</text>
<line x1="1166.3" y1="746.6" x2="1215" y2="746.6" stroke="#000" stroke-width="2" stroke-linecap="butt"/>
<text x="1172.7" y="828.1" font-size="27.4" text-anchor="end" transform="rotate(-47 1172.7 828.1)">Sedentary</text>
<text x="1229.2" y="828.1" font-size="27.4" text-anchor="end" transform="rotate(-47 1229.2 828.1)">Run</text>
<text x="1322.7" y="828.1" font-size="27.4" text-anchor="end" transform="rotate(-47 1322.7 828.1)">Sedentary</text>
<text x="1378.7" y="828.1" font-size="27.4" text-anchor="end" transform="rotate(-47 1378.7 828.1)">Run</text>
<rect x="1553" y="795.6" width="37.5" height="2.1" fill="#636363" stroke="#000" stroke-width="1.5"/>
<rect x="1610.5" y="652.6" width="37.6" height="145.1" fill="#636363" stroke="#000" stroke-width="1.5"/>
<rect x="1705.3" y="795.6" width="37.6" height="2.1" fill="#FDC180" stroke="#000" stroke-width="1.5"/>
<rect x="1762.6" y="636.2" width="38.1" height="161.5" fill="#FDC180" stroke="#000" stroke-width="1.5"/>
<line x1="1628.9" y1="580.72" x2="1628.9" y2="723.62" stroke="#000" stroke-width="1.8" stroke-linecap="butt"/>
<line x1="1619.4" y1="580.72" x2="1638.4" y2="580.72" stroke="#000" stroke-width="1.8" stroke-linecap="butt"/>
<line x1="1619.4" y1="723.62" x2="1638.4" y2="723.62" stroke="#000" stroke-width="1.8" stroke-linecap="butt"/>
<line x1="1781.2" y1="563.73" x2="1781.2" y2="706.91" stroke="#000" stroke-width="1.8" stroke-linecap="butt"/>
<line x1="1771.7" y1="563.73" x2="1790.7" y2="563.73" stroke="#000" stroke-width="1.8" stroke-linecap="butt"/>
<line x1="1771.7" y1="706.91" x2="1790.7" y2="706.91" stroke="#000" stroke-width="1.8" stroke-linecap="butt"/>
<line x1="1533.9" y1="510.1" x2="1533.9" y2="799.2" stroke="#000" stroke-width="3" stroke-linecap="butt"/>
<line x1="1521.3" y1="797.7" x2="1820.5" y2="797.7" stroke="#000" stroke-width="3" stroke-linecap="butt"/>
<line x1="1521.3" y1="511.6" x2="1533.9" y2="511.6" stroke="#000" stroke-width="3" stroke-linecap="butt"/>
<text x="1504.8" y="522.9" font-size="27.4" text-anchor="end">50</text>
<line x1="1521.3" y1="568.8" x2="1533.9" y2="568.8" stroke="#000" stroke-width="3" stroke-linecap="butt"/>
<text x="1504.8" y="580.1" font-size="27.4" text-anchor="end">40</text>
<line x1="1521.3" y1="626" x2="1533.9" y2="626" stroke="#000" stroke-width="3" stroke-linecap="butt"/>
<text x="1504.8" y="637.3" font-size="27.4" text-anchor="end">30</text>
<line x1="1521.3" y1="683.3" x2="1533.9" y2="683.3" stroke="#000" stroke-width="3" stroke-linecap="butt"/>
<text x="1504.8" y="694.6" font-size="27.4" text-anchor="end">20</text>
<line x1="1521.3" y1="740.5" x2="1533.9" y2="740.5" stroke="#000" stroke-width="3" stroke-linecap="butt"/>
<text x="1504.8" y="751.8" font-size="27.4" text-anchor="end">10</text>
<line x1="1521.3" y1="797.7" x2="1533.9" y2="797.7" stroke="#000" stroke-width="3" stroke-linecap="butt"/>
<text x="1504.8" y="809" font-size="27.4" text-anchor="end">0</text>
<line x1="1571.8" y1="797.7" x2="1571.8" y2="809.9" stroke="#000" stroke-width="3" stroke-linecap="butt"/>
<line x1="1628.9" y1="797.7" x2="1628.9" y2="809.9" stroke="#000" stroke-width="3" stroke-linecap="butt"/>
<line x1="1724.1" y1="797.7" x2="1724.1" y2="809.9" stroke="#000" stroke-width="3" stroke-linecap="butt"/>
<line x1="1781.2" y1="797.7" x2="1781.2" y2="809.9" stroke="#000" stroke-width="3" stroke-linecap="butt"/>
<circle cx="1556.99" cy="792.7" r="4.2" fill="#fff" stroke="#000" stroke-width="1.3"/>
<circle cx="1563.12" cy="789.92" r="4.2" fill="#fff" stroke="#000" stroke-width="1.3"/>
<circle cx="1568.69" cy="792.7" r="4.2" fill="#fff" stroke="#000" stroke-width="1.3"/>
<circle cx="1574.82" cy="791.59" r="4.2" fill="#fff" stroke="#000" stroke-width="1.3"/>
<circle cx="1580.67" cy="793.54" r="4.2" fill="#fff" stroke="#000" stroke-width="1.3"/>
<circle cx="1586.8" cy="792.14" r="4.2" fill="#fff" stroke="#000" stroke-width="1.3"/>
<circle cx="1629.14" cy="557.33" r="4.2" fill="#fff" stroke="#000" stroke-width="1.3"/>
<circle cx="1629.14" cy="589.64" r="4.2" fill="#fff" stroke="#000" stroke-width="1.3"/>
<circle cx="1629.14" cy="644.51" r="4.2" fill="#fff" stroke="#000" stroke-width="1.3"/>
<circle cx="1629.14" cy="666.8" r="4.2" fill="#fff" stroke="#000" stroke-width="1.3"/>
<circle cx="1629.14" cy="710.53" r="4.2" fill="#fff" stroke="#000" stroke-width="1.3"/>
<circle cx="1629.14" cy="747.3" r="4.2" fill="#fff" stroke="#000" stroke-width="1.3"/>
<circle cx="1709.36" cy="792.7" r="4.2" fill="#fff" stroke="#000" stroke-width="1.3"/>
<circle cx="1715.21" cy="790.47" r="4.2" fill="#fff" stroke="#000" stroke-width="1.3"/>
<circle cx="1720.78" cy="792.98" r="4.2" fill="#fff" stroke="#000" stroke-width="1.3"/>
<circle cx="1726.91" cy="791.59" r="4.2" fill="#fff" stroke="#000" stroke-width="1.3"/>
<circle cx="1733.04" cy="793.82" r="4.2" fill="#fff" stroke="#000" stroke-width="1.3"/>
<circle cx="1739.16" cy="792.7" r="4.2" fill="#fff" stroke="#000" stroke-width="1.3"/>
<circle cx="1781.5" cy="538.11" r="4.2" fill="#fff" stroke="#000" stroke-width="1.3"/>
<circle cx="1781.5" cy="560.95" r="4.2" fill="#fff" stroke="#000" stroke-width="1.3"/>
<circle cx="1781.5" cy="635.88" r="4.2" fill="#fff" stroke="#000" stroke-width="1.3"/>
<circle cx="1781.5" cy="673.2" r="4.2" fill="#fff" stroke="#000" stroke-width="1.3"/>
<circle cx="1781.5" cy="688.8" r="4.2" fill="#fff" stroke="#000" stroke-width="1.3"/>
<circle cx="1781.5" cy="716.38" r="4.2" fill="#fff" stroke="#000" stroke-width="1.3"/>
<text x="1698.6" y="452.7" font-size="23.5" text-anchor="middle"><tspan font-style="italic">P</tspan> = 0.9650</text>
<line x1="1630.3" y1="459.3" x2="1779.6" y2="459.3" stroke="#000" stroke-width="2" stroke-linecap="butt"/>
<text x="1640.1" y="487.6" font-size="23.5" text-anchor="middle"><tspan font-style="italic">P</tspan> &gt; 0.9999</text>
<line x1="1572.3" y1="495.2" x2="1721.6" y2="495.2" stroke="#000" stroke-width="2" stroke-linecap="butt"/>
<text x="1742.2" y="521.5" font-size="23.5" text-anchor="middle"><tspan font-style="italic">P</tspan> = 0.0290</text>
<line x1="1730" y1="528.6" x2="1779.6" y2="528.6" stroke="#000" stroke-width="2" stroke-linecap="butt"/>
<text x="1597.8" y="536.3" font-size="23.5" text-anchor="middle"><tspan font-style="italic">P</tspan> = 0.0454</text>
<line x1="1572.3" y1="545.3" x2="1622.5" y2="545.3" stroke="#000" stroke-width="2" stroke-linecap="butt"/>
<text x="1582.1" y="828.2" font-size="27.4" text-anchor="end" transform="rotate(-47 1582.1 828.2)">Sedentary</text>
<text x="1639.2" y="828.2" font-size="27.4" text-anchor="end" transform="rotate(-47 1639.2 828.2)">Run</text>
<text x="1734.4" y="828.2" font-size="27.4" text-anchor="end" transform="rotate(-47 1734.4 828.2)">Sedentary</text>
<text x="1791.5" y="828.2" font-size="27.4" text-anchor="end" transform="rotate(-47 1791.5 828.2)">Run</text>
<rect x="1888.1" y="430.2" width="22" height="22" fill="#636363" stroke="#000" stroke-width="2"/>
<rect x="1888.1" y="464.7" width="22" height="22" fill="#FDC180" stroke="#000" stroke-width="2"/>
<text x="1924.7" y="451.5" font-size="27.4" text-anchor="start">WT</text>
<text x="1924.7" y="484.6" font-size="27.4" text-anchor="start">KO</text>
<rect x="1246.4" y="1187.4" width="37.6" height="187.2" fill="#636363" stroke="#000" stroke-width="1.5"/>
<rect x="1302.9" y="1228.2" width="37.8" height="146.4" fill="#636363" stroke="#000" stroke-width="1.5"/>
<rect x="1397.6" y="1191.3" width="37.3" height="183.3" fill="#FDC180" stroke="#000" stroke-width="1.5"/>
<rect x="1454.3" y="1227.3" width="37.5" height="147.3" fill="#FDC180" stroke="#000" stroke-width="1.5"/>
<line x1="1264.7" y1="1170.56" x2="1264.7" y2="1202.36" stroke="#000" stroke-width="1.8" stroke-linecap="butt"/>
<line x1="1255.5" y1="1170.56" x2="1273.9" y2="1170.56" stroke="#000" stroke-width="1.8" stroke-linecap="butt"/>
<line x1="1255.5" y1="1202.36" x2="1273.9" y2="1202.36" stroke="#000" stroke-width="1.8" stroke-linecap="butt"/>
<line x1="1321.6" y1="1199.37" x2="1321.6" y2="1256.06" stroke="#000" stroke-width="1.8" stroke-linecap="butt"/>
<line x1="1312.4" y1="1199.37" x2="1330.8" y2="1199.37" stroke="#000" stroke-width="1.8" stroke-linecap="butt"/>
<line x1="1312.4" y1="1256.06" x2="1330.8" y2="1256.06" stroke="#000" stroke-width="1.8" stroke-linecap="butt"/>
<line x1="1416" y1="1169.64" x2="1416" y2="1210.89" stroke="#000" stroke-width="1.8" stroke-linecap="butt"/>
<line x1="1406.8" y1="1169.64" x2="1425.2" y2="1169.64" stroke="#000" stroke-width="1.8" stroke-linecap="butt"/>
<line x1="1406.8" y1="1210.89" x2="1425.2" y2="1210.89" stroke="#000" stroke-width="1.8" stroke-linecap="butt"/>
<line x1="1472.7" y1="1207.66" x2="1472.7" y2="1244.54" stroke="#000" stroke-width="1.8" stroke-linecap="butt"/>
<line x1="1463.5" y1="1207.66" x2="1481.9" y2="1207.66" stroke="#000" stroke-width="1.8" stroke-linecap="butt"/>
<line x1="1463.5" y1="1244.54" x2="1481.9" y2="1244.54" stroke="#000" stroke-width="1.8" stroke-linecap="butt"/>
<line x1="1227.6" y1="1090.2" x2="1227.6" y2="1376.1" stroke="#000" stroke-width="3" stroke-linecap="butt"/>
<line x1="1215.5" y1="1374.6" x2="1512.1" y2="1374.6" stroke="#000" stroke-width="3" stroke-linecap="butt"/>
<line x1="1215.5" y1="1091.7" x2="1227.6" y2="1091.7" stroke="#000" stroke-width="3" stroke-linecap="butt"/>
<text x="1207.8" y="1103" font-size="27.4" text-anchor="end">2000</text>
<line x1="1215.5" y1="1162.4" x2="1227.6" y2="1162.4" stroke="#000" stroke-width="3" stroke-linecap="butt"/>
<text x="1207.8" y="1173.7" font-size="27.4" text-anchor="end">1500</text>
<line x1="1215.5" y1="1233.2" x2="1227.6" y2="1233.2" stroke="#000" stroke-width="3" stroke-linecap="butt"/>
<text x="1207.8" y="1244.5" font-size="27.4" text-anchor="end">1000</text>
<line x1="1215.5" y1="1303.9" x2="1227.6" y2="1303.9" stroke="#000" stroke-width="3" stroke-linecap="butt"/>
<text x="1207.8" y="1315.2" font-size="27.4" text-anchor="end">500</text>
<line x1="1215.5" y1="1374.6" x2="1227.6" y2="1374.6" stroke="#000" stroke-width="3" stroke-linecap="butt"/>
<text x="1207.8" y="1385.9" font-size="27.4" text-anchor="end">0</text>
<line x1="1264.7" y1="1374.6" x2="1264.7" y2="1386.8" stroke="#000" stroke-width="3" stroke-linecap="butt"/>
<line x1="1321.6" y1="1374.6" x2="1321.6" y2="1386.8" stroke="#000" stroke-width="3" stroke-linecap="butt"/>
<line x1="1416" y1="1374.6" x2="1416" y2="1386.8" stroke="#000" stroke-width="3" stroke-linecap="butt"/>
<line x1="1472.7" y1="1374.6" x2="1472.7" y2="1386.8" stroke="#000" stroke-width="3" stroke-linecap="butt"/>
<circle cx="1250.55" cy="1176.55" r="4.2" fill="#fff" stroke="#000" stroke-width="1.3"/>
<circle cx="1265.07" cy="1171.94" r="4.2" fill="#fff" stroke="#000" stroke-width="1.3"/>
<circle cx="1279.59" cy="1179.55" r="4.2" fill="#fff" stroke="#000" stroke-width="1.3"/>
<circle cx="1265.07" cy="1198.21" r="4.2" fill="#fff" stroke="#000" stroke-width="1.3"/>
<circle cx="1265.07" cy="1208.58" r="4.2" fill="#fff" stroke="#000" stroke-width="1.3"/>
<circle cx="1321.53" cy="1196.6" r="4.2" fill="#fff" stroke="#000" stroke-width="1.3"/>
<circle cx="1313.23" cy="1212.73" r="4.2" fill="#fff" stroke="#000" stroke-width="1.3"/>
<circle cx="1330.52" cy="1212.04" r="4.2" fill="#fff" stroke="#000" stroke-width="1.3"/>
<circle cx="1321.53" cy="1253.07" r="4.2" fill="#fff" stroke="#000" stroke-width="1.3"/>
<circle cx="1321.53" cy="1262.28" r="4.2" fill="#fff" stroke="#000" stroke-width="1.3"/>
<circle cx="1416.02" cy="1160.19" r="4.2" fill="#fff" stroke="#000" stroke-width="1.3"/>
<circle cx="1424.55" cy="1183.92" r="4.2" fill="#fff" stroke="#000" stroke-width="1.3"/>
<circle cx="1407.26" cy="1191.3" r="4.2" fill="#fff" stroke="#000" stroke-width="1.3"/>
<circle cx="1416.02" cy="1199.6" r="4.2" fill="#fff" stroke="#000" stroke-width="1.3"/>
<circle cx="1416.02" cy="1216.88" r="4.2" fill="#fff" stroke="#000" stroke-width="1.3"/>
<circle cx="1472.95" cy="1204.21" r="4.2" fill="#fff" stroke="#000" stroke-width="1.3"/>
<circle cx="1464.19" cy="1218.03" r="4.2" fill="#fff" stroke="#000" stroke-width="1.3"/>
<circle cx="1481.71" cy="1218.03" r="4.2" fill="#fff" stroke="#000" stroke-width="1.3"/>
<circle cx="1464.19" cy="1245.69" r="4.2" fill="#fff" stroke="#000" stroke-width="1.3"/>
<circle cx="1481.71" cy="1244.54" r="4.2" fill="#fff" stroke="#000" stroke-width="1.3"/>
<text x="1395.6" y="1069.4" font-size="23.5" text-anchor="middle"><tspan font-style="italic">P</tspan> = 0.9957</text>
<line x1="1322" y1="1076.8" x2="1470.2" y2="1076.8" stroke="#000" stroke-width="2" stroke-linecap="butt"/>
<text x="1337" y="1104.7" font-size="23.5" text-anchor="middle"><tspan font-style="italic">P</tspan> = 0.9422</text>
<line x1="1266.2" y1="1111.6" x2="1413.7" y2="1111.6" stroke="#000" stroke-width="2" stroke-linecap="butt"/>
<text x="1292" y="1146.6" font-size="23.5" text-anchor="middle"><tspan font-style="italic">P</tspan> = 0.0122</text>
<line x1="1265.5" y1="1155.1" x2="1320.1" y2="1155.1" stroke="#000" stroke-width="2" stroke-linecap="butt"/>
<text x="1443" y="1139.2" font-size="23.5" text-anchor="middle"><tspan font-style="italic">P</tspan> = 0.0197</text>
<line x1="1416.5" y1="1147" x2="1471.3" y2="1147" stroke="#000" stroke-width="2" stroke-linecap="butt"/>
<text x="1126.1" y="1232" font-size="27.4" text-anchor="middle" transform="rotate(-90 1126.1 1232)">CSA (µm<tspan baseline-shift='super' font-size='17'>2</tspan>)</text>
<text x="1275.5" y="1411.5" font-size="27.4" text-anchor="end" transform="rotate(-47 1275.5 1411.5)">Control</text>
<text x="1332.4" y="1411.5" font-size="27.4" text-anchor="end" transform="rotate(-47 1332.4 1411.5)">CTX (14 dpi)</text>
<text x="1426.8" y="1411.5" font-size="27.4" text-anchor="end" transform="rotate(-47 1426.8 1411.5)">Control</text>
<text x="1483.5" y="1411.5" font-size="27.4" text-anchor="end" transform="rotate(-47 1483.5 1411.5)">CTX (14 dpi)</text>
<rect x="1240" y="995.9" width="22" height="22" fill="#636363" stroke="#000" stroke-width="2"/>
<rect x="1240" y="1030" width="22" height="22" fill="#FDC180" stroke="#000" stroke-width="2"/>
<text x="1275.9" y="1017.3" font-size="27.4" text-anchor="start">WT</text>
<text x="1275.9" y="1050.3" font-size="27.4" text-anchor="start">KO</text>
<rect x="1707.2" y="1191.5" width="24.7" height="183.1" fill="#636363" stroke="#000" stroke-width="1.5"/>
<rect x="1745" y="1184.6" width="24.5" height="190" fill="#FDC180" stroke="#000" stroke-width="1.5"/>
<rect x="1808" y="1226.6" width="24.2" height="148" fill="#636363" stroke="#000" stroke-width="1.5"/>
<rect x="1846" y="1229.3" width="24.2" height="145.3" fill="#FDC180" stroke="#000" stroke-width="1.5"/>
<rect x="1908.7" y="1165" width="24.6" height="209.6" fill="#636363" stroke="#000" stroke-width="1.5"/>
<rect x="1946.7" y="1156.3" width="24.4" height="218.3" fill="#FDC180" stroke="#000" stroke-width="1.5"/>
<line x1="1719.6" y1="1177.7" x2="1719.6" y2="1204.21" stroke="#000" stroke-width="1.8" stroke-linecap="butt"/>
<line x1="1713.8" y1="1177.7" x2="1725.4" y2="1177.7" stroke="#000" stroke-width="1.8" stroke-linecap="butt"/>
<line x1="1713.8" y1="1204.21" x2="1725.4" y2="1204.21" stroke="#000" stroke-width="1.8" stroke-linecap="butt"/>
<line x1="1757.2" y1="1174.71" x2="1757.2" y2="1191.99" stroke="#000" stroke-width="1.8" stroke-linecap="butt"/>
<line x1="1751.4" y1="1174.71" x2="1763" y2="1174.71" stroke="#000" stroke-width="1.8" stroke-linecap="butt"/>
<line x1="1751.4" y1="1191.99" x2="1763" y2="1191.99" stroke="#000" stroke-width="1.8" stroke-linecap="butt"/>
<line x1="1820.1" y1="1221.49" x2="1820.1" y2="1229.33" stroke="#000" stroke-width="1.8" stroke-linecap="butt"/>
<line x1="1814.3" y1="1221.49" x2="1825.9" y2="1221.49" stroke="#000" stroke-width="1.8" stroke-linecap="butt"/>
<line x1="1814.3" y1="1229.33" x2="1825.9" y2="1229.33" stroke="#000" stroke-width="1.8" stroke-linecap="butt"/>
<line x1="1858.1" y1="1213.42" x2="1858.1" y2="1242.69" stroke="#000" stroke-width="1.8" stroke-linecap="butt"/>
<line x1="1852.3" y1="1213.42" x2="1863.9" y2="1213.42" stroke="#000" stroke-width="1.8" stroke-linecap="butt"/>
<line x1="1852.3" y1="1242.69" x2="1863.9" y2="1242.69" stroke="#000" stroke-width="1.8" stroke-linecap="butt"/>
<line x1="1921" y1="1150.51" x2="1921" y2="1178.16" stroke="#000" stroke-width="1.8" stroke-linecap="butt"/>
<line x1="1915.2" y1="1150.51" x2="1926.8" y2="1150.51" stroke="#000" stroke-width="1.8" stroke-linecap="butt"/>
<line x1="1915.2" y1="1178.16" x2="1926.8" y2="1178.16" stroke="#000" stroke-width="1.8" stroke-linecap="butt"/>
<line x1="1958.9" y1="1141.29" x2="1958.9" y2="1168.94" stroke="#000" stroke-width="1.8" stroke-linecap="butt"/>
<line x1="1953.1" y1="1141.29" x2="1964.7" y2="1141.29" stroke="#000" stroke-width="1.8" stroke-linecap="butt"/>
<line x1="1953.1" y1="1168.94" x2="1964.7" y2="1168.94" stroke="#000" stroke-width="1.8" stroke-linecap="butt"/>
<line x1="1694.6" y1="1083.3" x2="1694.6" y2="1376.1" stroke="#000" stroke-width="3" stroke-linecap="butt"/>
<line x1="1682.3" y1="1374.6" x2="1985" y2="1374.6" stroke="#000" stroke-width="3" stroke-linecap="butt"/>
<line x1="1682.3" y1="1084.8" x2="1694.6" y2="1084.8" stroke="#000" stroke-width="3" stroke-linecap="butt"/>
<text x="1669.8" y="1096.1" font-size="27.4" text-anchor="end">0.25</text>
<line x1="1682.3" y1="1142.8" x2="1694.6" y2="1142.8" stroke="#000" stroke-width="3" stroke-linecap="butt"/>
<text x="1669.8" y="1154.1" font-size="27.4" text-anchor="end">0.20</text>
<line x1="1682.3" y1="1200.7" x2="1694.6" y2="1200.7" stroke="#000" stroke-width="3" stroke-linecap="butt"/>
<text x="1669.8" y="1212" font-size="27.4" text-anchor="end">0.15</text>
<line x1="1682.3" y1="1258.7" x2="1694.6" y2="1258.7" stroke="#000" stroke-width="3" stroke-linecap="butt"/>
<text x="1669.8" y="1270" font-size="27.4" text-anchor="end">0.10</text>
<line x1="1682.3" y1="1316.6" x2="1694.6" y2="1316.6" stroke="#000" stroke-width="3" stroke-linecap="butt"/>
<text x="1669.8" y="1327.9" font-size="27.4" text-anchor="end">0.05</text>
<line x1="1682.3" y1="1374.6" x2="1694.6" y2="1374.6" stroke="#000" stroke-width="3" stroke-linecap="butt"/>
<text x="1669.8" y="1385.9" font-size="27.4" text-anchor="end">0.00</text>
<line x1="1737.7" y1="1374.6" x2="1737.7" y2="1386.6" stroke="#000" stroke-width="3" stroke-linecap="butt"/>
<line x1="1838.6" y1="1374.6" x2="1838.6" y2="1386.6" stroke="#000" stroke-width="3" stroke-linecap="butt"/>
<line x1="1939.3" y1="1374.6" x2="1939.3" y2="1386.6" stroke="#000" stroke-width="3" stroke-linecap="butt"/>
<circle cx="1719.68" cy="1173.55" r="4.2" fill="#fff" stroke="#000" stroke-width="1.3"/>
<circle cx="1711.16" cy="1187.38" r="4.2" fill="#fff" stroke="#000" stroke-width="1.3"/>
<circle cx="1727.29" cy="1183.46" r="4.2" fill="#fff" stroke="#000" stroke-width="1.3"/>
<circle cx="1727.29" cy="1201.21" r="4.2" fill="#fff" stroke="#000" stroke-width="1.3"/>
<circle cx="1711.16" cy="1207.66" r="4.2" fill="#fff" stroke="#000" stroke-width="1.3"/>
<circle cx="1748.49" cy="1178.16" r="4.2" fill="#fff" stroke="#000" stroke-width="1.3"/>
<circle cx="1757.25" cy="1179.32" r="4.2" fill="#fff" stroke="#000" stroke-width="1.3"/>
<circle cx="1765.78" cy="1178.62" r="4.2" fill="#fff" stroke="#000" stroke-width="1.3"/>
<circle cx="1758.86" cy="1183.92" r="4.2" fill="#fff" stroke="#000" stroke-width="1.3"/>
<circle cx="1756.79" cy="1199.37" r="4.2" fill="#fff" stroke="#000" stroke-width="1.3"/>
<circle cx="1810.72" cy="1222.64" r="4.2" fill="#fff" stroke="#000" stroke-width="1.3"/>
<circle cx="1816.71" cy="1218.96" r="4.2" fill="#fff" stroke="#000" stroke-width="1.3"/>
<circle cx="1822.93" cy="1223.1" r="4.2" fill="#fff" stroke="#000" stroke-width="1.3"/>
<circle cx="1828.69" cy="1224.95" r="4.2" fill="#fff" stroke="#000" stroke-width="1.3"/>
<circle cx="1822.47" cy="1228.17" r="4.2" fill="#fff" stroke="#000" stroke-width="1.3"/>
<circle cx="1811.64" cy="1233.48" r="4.2" fill="#fff" stroke="#000" stroke-width="1.3"/>
<circle cx="1858.19" cy="1207.66" r="4.2" fill="#fff" stroke="#000" stroke-width="1.3"/>
<circle cx="1849.44" cy="1224.26" r="4.2" fill="#fff" stroke="#000" stroke-width="1.3"/>
<circle cx="1866.72" cy="1230.48" r="4.2" fill="#fff" stroke="#000" stroke-width="1.3"/>
<circle cx="1858.19" cy="1231.17" r="4.2" fill="#fff" stroke="#000" stroke-width="1.3"/>
<circle cx="1858.19" cy="1248.92" r="4.2" fill="#fff" stroke="#000" stroke-width="1.3"/>
<circle cx="1920.88" cy="1141.75" r="4.2" fill="#fff" stroke="#000" stroke-width="1.3"/>
<circle cx="1928.95" cy="1161.11" r="4.2" fill="#fff" stroke="#000" stroke-width="1.3"/>
<circle cx="1912.35" cy="1167.33" r="4.2" fill="#fff" stroke="#000" stroke-width="1.3"/>
<circle cx="1928.95" cy="1174.01" r="4.2" fill="#fff" stroke="#000" stroke-width="1.3"/>
<circle cx="1912.81" cy="1177.01" r="4.2" fill="#fff" stroke="#000" stroke-width="1.3"/>
<circle cx="1959.14" cy="1135.07" r="4.2" fill="#fff" stroke="#000" stroke-width="1.3"/>
<circle cx="1959.14" cy="1147.28" r="4.2" fill="#fff" stroke="#000" stroke-width="1.3"/>
<circle cx="1959.14" cy="1159.73" r="4.2" fill="#fff" stroke="#000" stroke-width="1.3"/>
<circle cx="1950.15" cy="1167.1" r="4.2" fill="#fff" stroke="#000" stroke-width="1.3"/>
<circle cx="1967.44" cy="1166.64" r="4.2" fill="#fff" stroke="#000" stroke-width="1.3"/>
<text x="1756" y="1130.5" font-size="23.5" text-anchor="middle"><tspan font-style="italic">P</tspan> = 0.3502</text>
<line x1="1718.5" y1="1146.1" x2="1756.6" y2="1146.1" stroke="#000" stroke-width="2" stroke-linecap="butt"/>
<text x="1838.5" y="1168.5" font-size="23.5" text-anchor="middle"><tspan font-style="italic">P</tspan> = 0.6979</text>
<line x1="1818.3" y1="1182.1" x2="1856.3" y2="1182.1" stroke="#000" stroke-width="2" stroke-linecap="butt"/>
<text x="1939.4" y="1103.5" font-size="23.5" text-anchor="middle"><tspan font-style="italic">P</tspan> = 0.3190</text>
<line x1="1920.4" y1="1115.5" x2="1958.9" y2="1115.5" stroke="#000" stroke-width="2" stroke-linecap="butt"/>
<text x="1589.5" y="1227.3" font-size="27.4" text-anchor="middle" transform="rotate(-90 1589.5 1227.3)">TA weight (% BW)</text>
<text x="1748.5" y="1411.5" font-size="27.4" text-anchor="end" transform="rotate(-47 1748.5 1411.5)">Control</text>
<text x="1849.4" y="1411.5" font-size="27.4" text-anchor="end" transform="rotate(-47 1849.4 1411.5)">CTX (4 dpi)</text>
<text x="1950.1" y="1411.5" font-size="27.4" text-anchor="end" transform="rotate(-47 1950.1 1411.5)">CTX (14 dpi)</text>
<rect x="1710.3" y="995.9" width="22" height="22" fill="#636363" stroke="#000" stroke-width="2"/>
<rect x="1710.3" y="1030" width="22" height="22" fill="#FDC180" stroke="#000" stroke-width="2"/>
<text x="1746.9" y="1017.3" font-size="27.4" text-anchor="start">WT</text>
<text x="1746.9" y="1050.3" font-size="27.4" text-anchor="start">KO</text>
<text x="177.9" y="1064" font-size="27.4" text-anchor="middle">Control</text>
<text x="425.1" y="1064" font-size="27.4" text-anchor="middle">CTX (6 hpi)</text>
<text x="679.4" y="1064" font-size="27.4" text-anchor="middle">CTX (4 dpi)</text>
<text x="944.2" y="1064" font-size="27.4" text-anchor="middle">CTX (14 dpi)</text>
<text x="23.3" y="1176.7" font-size="27.4" text-anchor="middle" transform="rotate(-90 23.3 1176.7)">WT</text>
<text x="20.3" y="1368.5" font-size="27.4" text-anchor="middle" transform="rotate(-90 20.3 1368.5)">KO</text>
<defs><filter id="nz" x="0" y="0" width="100%" height="100%"><feTurbulence type="fractalNoise" baseFrequency="0.55" numOctaves="2" seed="3"/><feColorMatrix values="0 0 0 0 1  0 0 0 0 1  0 0 0 0 1  0 0 0 2.2 -0.9"/></filter></defs>
<clipPath id="hc0"><rect x="45" y="1085.6" width="247.2" height="182.4"/></clipPath>
<g clip-path="url(#hc0)">
<rect x="44" y="1084.6" width="249.2" height="184.4" fill="#F87ADA"/>
<g transform="translate(40,1080) scale(0.13026)">
<path d="M560,80 C568.3,96.7 593.3,153.3 610,180 C626.7,206.7 651.7,230 660,240" fill="none" stroke="#FFC4F4" stroke-width="7" stroke-linecap="round" stroke-linejoin="round"/>
<path d="M770,500 C768.3,520 738.3,593.3 760,620 C781.7,646.7 880,630 900,660 C920,690 898.3,761.7 880,800 C861.7,838.3 810,870 790,890 C770,910 758.3,900 760,920 C761.7,940 796.7,981.7 800,1010 C803.3,1038.3 766.7,1063.3 780,1090 C793.3,1116.7 850,1153.3 880,1170 C910,1186.7 946.7,1186.7 960,1190" fill="none" stroke="#FFC4F4" stroke-width="7" stroke-linecap="round" stroke-linejoin="round"/>
<path d="M990,440 L960,620" fill="none" stroke="#FFC4F4" stroke-width="7" stroke-linecap="round" stroke-linejoin="round"/>
<path d="M1100,180 C1096.7,215 1098.3,346.7 1080,390 C1061.7,433.3 1005,431.7 990,440" fill="none" stroke="#FFC4F4" stroke-width="7" stroke-linecap="round" stroke-linejoin="round"/>
<path d="M1400,240 C1426.7,238.3 1525,208.3 1560,230 C1595,251.7 1583.3,348.3 1610,370 C1636.7,391.7 1701.7,361.7 1720,360" fill="none" stroke="#FFC4F4" stroke-width="7" stroke-linecap="round" stroke-linejoin="round"/>
<path d="M1560,430 C1563.3,465 1548.3,596.7 1580,640 C1611.7,683.3 1721.7,681.7 1750,690" fill="none" stroke="#FFC4F4" stroke-width="7" stroke-linecap="round" stroke-linejoin="round"/>
<path d="M350,700 C385,700 521.7,696.7 560,700 C598.3,703.3 583.3,690 580,720 C576.7,750 581.7,848.3 540,880 C498.3,911.7 365,905 330,910" fill="none" stroke="#FFC4F4" stroke-width="7" stroke-linecap="round" stroke-linejoin="round"/>
<path d="M760,920 L540,880" fill="none" stroke="#FFC4F4" stroke-width="7" stroke-linecap="round" stroke-linejoin="round"/>
<path d="M1340,700 L1560,650" fill="none" stroke="#FFC4F4" stroke-width="7" stroke-linecap="round" stroke-linejoin="round"/>
<path d="M1090,1160 C1133.3,1165 1286.7,1201.7 1350,1190 C1413.3,1178.3 1450,1106.7 1470,1090" fill="none" stroke="#FFC4F4" stroke-width="7" stroke-linecap="round" stroke-linejoin="round"/>
<path d="M1350,1190 C1375,1215 1460,1316.7 1500,1340 C1540,1363.3 1575,1331.7 1590,1330" fill="none" stroke="#FFC4F4" stroke-width="7" stroke-linecap="round" stroke-linejoin="round"/>
<path d="M50,960 L310,925" fill="none" stroke="#FFC4F4" stroke-width="7" stroke-linecap="round" stroke-linejoin="round"/>
<path d="M60,1170 L300,1160" fill="none" stroke="#FFC4F4" stroke-width="7" stroke-linecap="round" stroke-linejoin="round"/>
<path d="M470,1280 L330,1300" fill="none" stroke="#FFC4F4" stroke-width="7" stroke-linecap="round" stroke-linejoin="round"/>
<path d="M1830,900 C1825,963.3 1815,1210 1800,1280 C1785,1350 1750,1313.3 1740,1320" fill="none" stroke="#FFC4F4" stroke-width="7" stroke-linecap="round" stroke-linejoin="round"/>
<path d="M580,720 L770,620" fill="none" stroke="#FFC4F4" stroke-width="7" stroke-linecap="round" stroke-linejoin="round"/>
<path d="M900,660 C940,655 1073.3,633.3 1140,630 C1206.7,626.7 1273.3,638.3 1300,640" fill="none" stroke="#FFC4F4" stroke-width="7" stroke-linecap="round" stroke-linejoin="round"/>
<path d="M1000,1025 C997.5,1004.2 1005,937.5 985,900 C965,862.5 897.5,816.7 880,800" fill="none" stroke="#FFC4F4" stroke-width="7" stroke-linecap="round" stroke-linejoin="round"/>
<path d="M620,430 L770,500" fill="none" stroke="#FFC4F4" stroke-width="7" stroke-linecap="round" stroke-linejoin="round"/>
<path d="M1560,230 L1640,100" fill="none" stroke="#FFC4F4" stroke-width="7" stroke-linecap="round" stroke-linejoin="round"/>
<path d="M40,610 C53.3,605 93.3,591.7 120,580 C146.7,568.3 170,563.3 200,540 C230,516.7 263.3,462.5 300,440 C336.7,417.5 380,415.8 420,405 C460,394.2 501.7,397.5 540,375 C578.3,352.5 606.7,302.5 650,270 C693.3,237.5 758.3,206.7 800,180 C841.7,153.3 872.5,131.7 900,110 C927.5,88.3 954.2,60 965,50" fill="none" stroke="#fff" stroke-width="26" stroke-linecap="round" stroke-linejoin="round"/>
<path d="M315,435 C317.5,417.5 326.7,369.2 330,330 C333.3,290.8 335.8,230 335,200 C334.2,170 314.2,174.2 325,150 C335.8,125.8 387.5,70.8 400,55" fill="none" stroke="#fff" stroke-width="13" stroke-linecap="round" stroke-linejoin="round"/>
<path d="M1310,45 C1316.7,67.5 1340.8,144.2 1350,180 C1359.2,215.8 1365.8,220 1365,260 C1364.2,300 1354.2,370 1345,420 C1335.8,470 1317.5,523.3 1310,560 C1302.5,596.7 1297.5,613.3 1300,640 C1302.5,666.7 1325,688.3 1325,720 C1325,751.7 1320.8,786.7 1300,830 C1279.2,873.3 1236.7,939.2 1200,980 C1163.3,1020.8 1104.2,1046.7 1080,1075 C1055.8,1103.3 1070.8,1126.7 1055,1150 C1039.2,1173.3 1004.2,1185 985,1215 C965.8,1245 955.8,1292.5 940,1330 C924.2,1367.5 898.3,1421.7 890,1440" fill="none" stroke="#fff" stroke-width="40" stroke-linecap="round" stroke-linejoin="round"/>
<path d="M190,590 C213.3,606.7 305,655 330,690 C355,725 341.7,761.7 340,800 C338.3,838.3 321.7,878.3 320,920 C318.3,961.7 325.8,1015 330,1050 C334.2,1085 348.3,1106.7 345,1130 C341.7,1153.3 312.5,1161.7 310,1190 C307.5,1218.3 331.7,1275 330,1300 C328.3,1325 305,1333.3 300,1340" fill="none" stroke="#fff" stroke-width="13" stroke-linecap="round" stroke-linejoin="round"/>
<path d="M150,1455 C168.3,1444.2 228.3,1408.3 260,1390 C291.7,1371.7 311.7,1352.5 340,1345 C368.3,1337.5 400,1337.5 430,1345 C460,1352.5 485,1375.5 520,1390 C555,1404.5 580,1424 640,1432 C700,1440 840,1437 880,1438" fill="none" stroke="#fff" stroke-width="46" stroke-linecap="round" stroke-linejoin="round"/>
<path d="M1660,45 C1660.8,55.8 1655,85.8 1665,110 C1675,134.2 1703.3,165 1720,190 C1736.7,215 1763.3,233.3 1765,260 C1766.7,286.7 1727.5,320 1730,350 C1732.5,380 1765.8,411.7 1780,440 C1794.2,468.3 1809.2,495 1815,520 C1820.8,545 1820,563.3 1815,590 C1810,616.7 1795.8,661.7 1785,680 C1774.2,698.3 1756.7,681.7 1750,700 C1743.3,718.3 1747.5,761.7 1745,790 C1742.5,818.3 1750.8,841.7 1735,870 C1719.2,898.3 1682.5,923.3 1650,960 C1617.5,996.7 1555,1050 1540,1090 C1525,1130 1551.7,1160 1560,1200 C1568.3,1240 1595,1298.3 1590,1330 C1585,1361.7 1548.3,1371.7 1530,1390 C1511.7,1408.3 1488.3,1431.7 1480,1440" fill="none" stroke="#fff" stroke-width="11" stroke-linecap="round" stroke-linejoin="round"/>
<path d="M1300,900 C1313.3,915 1351.7,959.2 1380,990 C1408.3,1020.8 1445,1067.5 1470,1085 C1495,1102.5 1520,1093.3 1530,1095" fill="none" stroke="#fff" stroke-width="6" stroke-linecap="round" stroke-linejoin="round"/>
<path d="M1590,1330 C1600,1335 1631.7,1348.3 1650,1360 C1668.3,1371.7 1688.3,1386.7 1700,1400 C1711.7,1413.3 1716.7,1433.3 1720,1440" fill="none" stroke="#fff" stroke-width="6" stroke-linecap="round" stroke-linejoin="round"/>
<ellipse cx="265" cy="135" rx="21" ry="11" fill="#5646B6" transform="rotate(10 265 135)"/>
<ellipse cx="310" cy="270" rx="21" ry="11" fill="#5646B6" transform="rotate(80 310 270)"/>
<ellipse cx="345" cy="400" rx="21" ry="11" fill="#5646B6" transform="rotate(20 345 400)"/>
<ellipse cx="620" cy="430" rx="21" ry="11" fill="#5646B6" transform="rotate(30 620 430)"/>
<ellipse cx="680" cy="225" rx="21" ry="11" fill="#5646B6" transform="rotate(150 680 225)"/>
<ellipse cx="1000" cy="430" rx="21" ry="11" fill="#5646B6" transform="rotate(160 1000 430)"/>
<ellipse cx="1190" cy="375" rx="21" ry="11" fill="#5646B6" transform="rotate(170 1190 375)"/>
<ellipse cx="1095" cy="290" rx="21" ry="11" fill="#5646B6" transform="rotate(100 1095 290)"/>
<ellipse cx="770" cy="625" rx="21" ry="11" fill="#5646B6" transform="rotate(10 770 625)"/>
<ellipse cx="905" cy="665" rx="21" ry="11" fill="#5646B6" transform="rotate(80 905 665)"/>
<ellipse cx="1245" cy="625" rx="21" ry="11" fill="#5646B6" transform="rotate(170 1245 625)"/>
<ellipse cx="1140" cy="630" rx="21" ry="11" fill="#5646B6" transform="rotate(0 1140 630)"/>
<ellipse cx="540" cy="878" rx="21" ry="11" fill="#5646B6" transform="rotate(160 540 878)"/>
<ellipse cx="335" cy="900" rx="21" ry="11" fill="#5646B6" transform="rotate(20 335 900)"/>
<ellipse cx="985" cy="900" rx="21" ry="11" fill="#5646B6" transform="rotate(60 985 900)"/>
<ellipse cx="1000" cy="1025" rx="21" ry="11" fill="#5646B6" transform="rotate(10 1000 1025)"/>
<ellipse cx="810" cy="1015" rx="21" ry="11" fill="#5646B6" transform="rotate(100 810 1015)"/>
<ellipse cx="1060" cy="1060" rx="21" ry="11" fill="#5646B6" transform="rotate(120 1060 1060)"/>
<ellipse cx="370" cy="1135" rx="21" ry="11" fill="#5646B6" transform="rotate(0 370 1135)"/>
<ellipse cx="550" cy="1180" rx="21" ry="11" fill="#5646B6" transform="rotate(30 550 1180)"/>
<ellipse cx="770" cy="1110" rx="21" ry="11" fill="#5646B6" transform="rotate(50 770 1110)"/>
<ellipse cx="1300" cy="880" rx="21" ry="11" fill="#5646B6" transform="rotate(110 1300 880)"/>
<ellipse cx="1380" cy="380" rx="21" ry="11" fill="#5646B6" transform="rotate(100 1380 380)"/>
<ellipse cx="1550" cy="425" rx="21" ry="11" fill="#5646B6" transform="rotate(20 1550 425)"/>
<ellipse cx="1595" cy="630" rx="21" ry="11" fill="#5646B6" transform="rotate(40 1595 630)"/>
<ellipse cx="1555" cy="210" rx="21" ry="11" fill="#5646B6" transform="rotate(130 1555 210)"/>
<ellipse cx="1640" cy="100" rx="21" ry="11" fill="#5646B6" transform="rotate(60 1640 100)"/>
<ellipse cx="1900" cy="270" rx="21" ry="11" fill="#5646B6" transform="rotate(160 1900 270)"/>
<ellipse cx="1825" cy="500" rx="21" ry="11" fill="#5646B6" transform="rotate(40 1825 500)"/>
<ellipse cx="1900" cy="575" rx="21" ry="11" fill="#5646B6" transform="rotate(120 1900 575)"/>
<ellipse cx="1770" cy="690" rx="21" ry="11" fill="#5646B6" transform="rotate(140 1770 690)"/>
<ellipse cx="1850" cy="905" rx="21" ry="11" fill="#5646B6" transform="rotate(0 1850 905)"/>
<ellipse cx="1615" cy="990" rx="21" ry="11" fill="#5646B6" transform="rotate(130 1615 990)"/>
<ellipse cx="1460" cy="1060" rx="21" ry="11" fill="#5646B6" transform="rotate(30 1460 1060)"/>
<ellipse cx="1180" cy="1185" rx="21" ry="11" fill="#5646B6" transform="rotate(10 1180 1185)"/>
<ellipse cx="1360" cy="1200" rx="21" ry="11" fill="#5646B6" transform="rotate(30 1360 1200)"/>
<ellipse cx="1430" cy="1285" rx="21" ry="11" fill="#5646B6" transform="rotate(30 1430 1285)"/>
<ellipse cx="1680" cy="1335" rx="21" ry="11" fill="#5646B6" transform="rotate(150 1680 1335)"/>
<ellipse cx="1520" cy="1360" rx="21" ry="11" fill="#5646B6" transform="rotate(140 1520 1360)"/>
<ellipse cx="1460" cy="1415" rx="21" ry="11" fill="#5646B6" transform="rotate(130 1460 1415)"/>
<ellipse cx="1795" cy="1270" rx="21" ry="11" fill="#5646B6" transform="rotate(90 1795 1270)"/>
<ellipse cx="1540" cy="1200" rx="21" ry="11" fill="#5646B6" transform="rotate(80 1540 1200)"/>
<ellipse cx="70" cy="1200" rx="21" ry="11" fill="#5646B6" transform="rotate(110 70 1200)"/>
<ellipse cx="95" cy="555" rx="21" ry="11" fill="#5646B6" transform="rotate(150 95 555)"/>
<ellipse cx="630" cy="1420" rx="21" ry="11" fill="#5646B6" transform="rotate(10 630 1420)"/>
<ellipse cx="320" cy="130" rx="21" ry="11" fill="#5646B6" transform="rotate(140 320 130)"/>
</g>
</g>
<rect x="45.1" y="1085.7" width="247" height="182.2" fill="none" stroke="#000" stroke-width="2.3"/>
<clipPath id="hc1"><rect x="302.9" y="1085.6" width="247.2" height="182.4"/></clipPath>
<g clip-path="url(#hc1)">
<rect x="301.9" y="1084.6" width="249.2" height="184.4" fill="#FFFFFF"/>
<g transform="translate(298,1080) scale(0.13026)">
<path d="M45,1000 C87.5,943.3 214.2,1075 300,1100 C385.8,1125 510,1093.3 560,1150 C610,1206.7 685.8,1391.7 600,1440 C514.2,1488.3 137.5,1513.3 45,1440 C-47.5,1366.7 2.5,1056.7 45,1000Z" fill="#FCEAF7"/>
<path d="M45,330 C79.2,311.7 182.5,418.3 250,450 C317.5,481.7 405,461.7 450,520 C495,578.3 525,736.7 520,800 C515,863.3 465,916.7 420,900 C375,883.3 312.5,756.7 250,700 C187.5,643.3 79.2,621.7 45,560 C10.8,498.3 10.8,348.3 45,330Z" fill="#FDF0F9"/>
<path d="M1650,350 C1704.2,283.3 1879.2,208.3 1925,300 C1970.8,391.7 1954.2,803.3 1925,900 C1895.8,996.7 1804.2,913.3 1750,880 C1695.8,846.7 1616.7,788.3 1600,700 C1583.3,611.7 1595.8,416.7 1650,350Z" fill="#FDF2FA"/>
<ellipse cx="540" cy="590" rx="110" ry="175" fill="#FDC6F2" transform="rotate(10 540 590)"/>
<ellipse cx="545" cy="770" rx="75" ry="65" fill="#FC9CEC"/>
<ellipse cx="330" cy="480" rx="90" ry="40" fill="#FDC6F2" transform="rotate(-20 330 480)"/>
<ellipse cx="1650" cy="500" rx="120" ry="85" fill="#FDC6F2" transform="rotate(-30 1650 500)"/>
<ellipse cx="1420" cy="940" rx="80" ry="120" fill="#FDC6F2"/>
<ellipse cx="1385" cy="1050" rx="95" ry="50" fill="#FDC6F2"/>
<ellipse cx="1500" cy="1180" rx="40" ry="120" fill="#FDC6F2"/>
<ellipse cx="1150" cy="130" rx="60" ry="60" fill="#FDC6F2"/>
<ellipse cx="1550" cy="400" rx="60" ry="90" fill="#FDC6F2"/>
<ellipse cx="315" cy="240" rx="172" ry="180" fill="#FA84E2" transform="rotate(-20 315 240)"/>
<ellipse cx="590" cy="250" rx="112" ry="198" fill="#FC9CEC" transform="rotate(12 590 250)"/>
<ellipse cx="1000" cy="235" rx="202" ry="190" fill="#FA84E2"/>
<ellipse cx="1345" cy="90" rx="172" ry="80" fill="#FA84E2"/>
<ellipse cx="1455" cy="305" rx="168" ry="185" fill="#FC9CEC" transform="rotate(-15 1455 305)"/>
<ellipse cx="1200" cy="415" rx="128" ry="180" fill="#FC9CEC" transform="rotate(-12 1200 415)"/>
<ellipse cx="940" cy="685" rx="222" ry="212" fill="#FA84E2" transform="rotate(-20 940 685)"/>
<ellipse cx="1430" cy="635" rx="122" ry="108" fill="#FA84E2"/>
<ellipse cx="1225" cy="820" rx="148" ry="192" fill="#FA84E2" transform="rotate(12 1225 820)"/>
<ellipse cx="120" cy="790" rx="140" ry="190" fill="#FA84E2"/>
<ellipse cx="320" cy="950" rx="137" ry="145" fill="#FA84E2" transform="rotate(20 320 950)"/>
<ellipse cx="782" cy="1150" rx="205" ry="237" fill="#FA84E2" transform="rotate(-8 782 1150)"/>
<ellipse cx="1170" cy="1248" rx="196" ry="200" fill="#FA84E2"/>
<ellipse cx="1745" cy="1135" rx="218" ry="215" fill="#FA84E2"/>
<ellipse cx="1885" cy="95" rx="78" ry="88" fill="#FA84E2"/>
<ellipse cx="1630" cy="830" rx="68" ry="135" fill="#FC9CEC" transform="rotate(22 1630 830)"/>
<ellipse cx="1765" cy="195" rx="75" ry="112" fill="#FC9CEC"/>
<ellipse cx="1905" cy="950" rx="42" ry="130" fill="#FA84E2"/>
<ellipse cx="52" cy="120" rx="25" ry="70" fill="#FA84E2"/>
<ellipse cx="930" cy="695" rx="75" ry="22" fill="#fff" transform="rotate(28 930 695)"/>
<ellipse cx="1040" cy="560" rx="20" ry="18" fill="#fff"/>
<ellipse cx="880" cy="640" rx="40" ry="14" fill="#fff" transform="rotate(-10 880 640)"/>
<ellipse cx="1000" cy="640" rx="30" ry="14" fill="#fff" transform="rotate(20 1000 640)"/>
<ellipse cx="1560" cy="330" rx="40" ry="30" fill="#fff"/>
<ellipse cx="600" cy="150" rx="30" ry="18" fill="#FBDDF2"/>
<ellipse cx="260" cy="420" rx="13" ry="11" fill="#5646B6" transform="rotate(82 260 420)"/>
<ellipse cx="300" cy="430" rx="13" ry="11" fill="#5646B6" transform="rotate(38 300 430)"/>
<ellipse cx="350" cy="440" rx="13" ry="11" fill="#5646B6" transform="rotate(101 350 440)"/>
<ellipse cx="400" cy="410" rx="13" ry="11" fill="#5646B6" transform="rotate(166 400 410)"/>
<ellipse cx="440" cy="430" rx="13" ry="11" fill="#5646B6" transform="rotate(12 440 430)"/>
<ellipse cx="455" cy="395" rx="13" ry="11" fill="#5646B6" transform="rotate(18 455 395)"/>
<ellipse cx="90" cy="180" rx="13" ry="11" fill="#5646B6" transform="rotate(137 90 180)"/>
<ellipse cx="130" cy="185" rx="13" ry="11" fill="#5646B6" transform="rotate(24 130 185)"/>
<ellipse cx="125" cy="250" rx="13" ry="11" fill="#5646B6" transform="rotate(93 125 250)"/>
<ellipse cx="265" cy="620" rx="13" ry="11" fill="#5646B6" transform="rotate(149 265 620)"/>
<ellipse cx="295" cy="660" rx="13" ry="11" fill="#5646B6" transform="rotate(14 295 660)"/>
<ellipse cx="400" cy="790" rx="13" ry="11" fill="#5646B6" transform="rotate(129 400 790)"/>
<ellipse cx="640" cy="910" rx="13" ry="11" fill="#5646B6" transform="rotate(54 640 910)"/>
<ellipse cx="690" cy="880" rx="13" ry="11" fill="#5646B6" transform="rotate(9 690 880)"/>
<ellipse cx="740" cy="810" rx="13" ry="11" fill="#5646B6" transform="rotate(22 740 810)"/>
<ellipse cx="700" cy="700" rx="13" ry="11" fill="#5646B6" transform="rotate(111 700 700)"/>
<ellipse cx="760" cy="500" rx="13" ry="11" fill="#5646B6" transform="rotate(107 760 500)"/>
<ellipse cx="800" cy="460" rx="13" ry="11" fill="#5646B6" transform="rotate(17 800 460)"/>
<ellipse cx="830" cy="380" rx="13" ry="11" fill="#5646B6" transform="rotate(61 830 380)"/>
<ellipse cx="730" cy="140" rx="13" ry="11" fill="#5646B6" transform="rotate(23 730 140)"/>
<ellipse cx="1240" cy="190" rx="13" ry="11" fill="#5646B6" transform="rotate(141 1240 190)"/>
<ellipse cx="1280" cy="180" rx="13" ry="11" fill="#5646B6" transform="rotate(108 1280 180)"/>
<ellipse cx="1560" cy="80" rx="13" ry="11" fill="#5646B6" transform="rotate(15 1560 80)"/>
<ellipse cx="1590" cy="150" rx="13" ry="11" fill="#5646B6" transform="rotate(144 1590 150)"/>
<ellipse cx="1650" cy="120" rx="13" ry="11" fill="#5646B6" transform="rotate(31 1650 120)"/>
<ellipse cx="1680" cy="170" rx="13" ry="11" fill="#5646B6" transform="rotate(57 1680 170)"/>
<ellipse cx="1660" cy="260" rx="13" ry="11" fill="#5646B6" transform="rotate(161 1660 260)"/>
<ellipse cx="1715" cy="330" rx="13" ry="11" fill="#5646B6" transform="rotate(160 1715 330)"/>
<ellipse cx="1760" cy="490" rx="13" ry="11" fill="#5646B6" transform="rotate(149 1760 490)"/>
<ellipse cx="1285" cy="620" rx="13" ry="11" fill="#5646B6" transform="rotate(15 1285 620)"/>
<ellipse cx="1210" cy="615" rx="13" ry="11" fill="#5646B6" transform="rotate(147 1210 615)"/>
<ellipse cx="1370" cy="720" rx="13" ry="11" fill="#5646B6" transform="rotate(149 1370 720)"/>
<ellipse cx="1480" cy="745" rx="13" ry="11" fill="#5646B6" transform="rotate(101 1480 745)"/>
<ellipse cx="1500" cy="965" rx="13" ry="11" fill="#5646B6" transform="rotate(12 1500 965)"/>
<ellipse cx="1230" cy="1015" rx="13" ry="11" fill="#5646B6" transform="rotate(56 1230 1015)"/>
<ellipse cx="1075" cy="990" rx="13" ry="11" fill="#5646B6" transform="rotate(11 1075 990)"/>
<ellipse cx="1000" cy="960" rx="13" ry="11" fill="#5646B6" transform="rotate(142 1000 960)"/>
<ellipse cx="470" cy="980" rx="13" ry="11" fill="#5646B6" transform="rotate(34 470 980)"/>
<ellipse cx="180" cy="1025" rx="13" ry="11" fill="#5646B6" transform="rotate(74 180 1025)"/>
<ellipse cx="120" cy="1095" rx="13" ry="11" fill="#5646B6" transform="rotate(107 120 1095)"/>
<ellipse cx="430" cy="1165" rx="13" ry="11" fill="#5646B6" transform="rotate(36 430 1165)"/>
<ellipse cx="420" cy="1210" rx="13" ry="11" fill="#5646B6" transform="rotate(138 420 1210)"/>
<ellipse cx="190" cy="1180" rx="13" ry="11" fill="#5646B6" transform="rotate(30 190 1180)"/>
<ellipse cx="355" cy="1215" rx="13" ry="11" fill="#5646B6" transform="rotate(146 355 1215)"/>
<ellipse cx="460" cy="1390" rx="13" ry="11" fill="#5646B6" transform="rotate(78 460 1390)"/>
<ellipse cx="600" cy="1400" rx="13" ry="11" fill="#5646B6" transform="rotate(143 600 1400)"/>
<ellipse cx="225" cy="1420" rx="13" ry="11" fill="#5646B6" transform="rotate(174 225 1420)"/>
<ellipse cx="920" cy="1410" rx="13" ry="11" fill="#5646B6" transform="rotate(46 920 1410)"/>
<ellipse cx="1470" cy="1280" rx="13" ry="11" fill="#5646B6" transform="rotate(26 1470 1280)"/>
<ellipse cx="1500" cy="1300" rx="13" ry="11" fill="#5646B6" transform="rotate(148 1500 1300)"/>
<ellipse cx="1605" cy="1350" rx="13" ry="11" fill="#5646B6" transform="rotate(146 1605 1350)"/>
<ellipse cx="1560" cy="1385" rx="13" ry="11" fill="#5646B6" transform="rotate(163 1560 1385)"/>
<ellipse cx="1620" cy="1400" rx="13" ry="11" fill="#5646B6" transform="rotate(48 1620 1400)"/>
<ellipse cx="1665" cy="1365" rx="13" ry="11" fill="#5646B6" transform="rotate(95 1665 1365)"/>
<ellipse cx="1790" cy="1355" rx="13" ry="11" fill="#5646B6" transform="rotate(24 1790 1355)"/>
<ellipse cx="1880" cy="1415" rx="13" ry="11" fill="#5646B6" transform="rotate(140 1880 1415)"/>
<ellipse cx="1335" cy="1390" rx="13" ry="11" fill="#5646B6" transform="rotate(16 1335 1390)"/>
<ellipse cx="1905" cy="830" rx="13" ry="11" fill="#5646B6" transform="rotate(144 1905 830)"/>
<ellipse cx="1855" cy="910" rx="13" ry="11" fill="#5646B6" transform="rotate(15 1855 910)"/>
<ellipse cx="1920" cy="640" rx="13" ry="11" fill="#5646B6" transform="rotate(158 1920 640)"/>
<ellipse cx="1050" cy="430" rx="13" ry="11" fill="#5646B6" transform="rotate(52 1050 430)"/>
<ellipse cx="1120" cy="310" rx="13" ry="11" fill="#5646B6" transform="rotate(127 1120 310)"/>
<ellipse cx="1180" cy="245" rx="13" ry="11" fill="#5646B6" transform="rotate(174 1180 245)"/>
<ellipse cx="1290" cy="330" rx="13" ry="11" fill="#5646B6" transform="rotate(136 1290 330)"/>
<ellipse cx="1320" cy="520" rx="13" ry="11" fill="#5646B6" transform="rotate(109 1320 520)"/>
<ellipse cx="1150" cy="570" rx="13" ry="11" fill="#5646B6" transform="rotate(80 1150 570)"/>
<ellipse cx="665" cy="800" rx="13" ry="11" fill="#5646B6" transform="rotate(119 665 800)"/>
<ellipse cx="700" cy="760" rx="13" ry="11" fill="#5646B6" transform="rotate(149 700 760)"/>
<ellipse cx="1330" cy="1110" rx="13" ry="11" fill="#5646B6" transform="rotate(116 1330 1110)"/>
<ellipse cx="1370" cy="1250" rx="13" ry="11" fill="#5646B6" transform="rotate(92 1370 1250)"/>
<ellipse cx="990" cy="1150" rx="13" ry="11" fill="#5646B6" transform="rotate(76 990 1150)"/>
<ellipse cx="925" cy="1300" rx="13" ry="11" fill="#5646B6" transform="rotate(63 925 1300)"/>
<ellipse cx="560" cy="1280" rx="13" ry="11" fill="#5646B6" transform="rotate(46 560 1280)"/>
<ellipse cx="500" cy="60" rx="13" ry="11" fill="#5646B6" transform="rotate(178 500 60)"/>
<ellipse cx="560" cy="60" rx="13" ry="11" fill="#5646B6" transform="rotate(62 560 60)"/>
<ellipse cx="715" cy="60" rx="13" ry="11" fill="#5646B6" transform="rotate(20 715 60)"/>
<ellipse cx="1520" cy="95" rx="13" ry="11" fill="#5646B6" transform="rotate(147 1520 95)"/>
<ellipse cx="1690" cy="100" rx="13" ry="11" fill="#5646B6" transform="rotate(76 1690 100)"/>
</g>
</g>
<rect x="303" y="1085.7" width="247" height="182.2" fill="none" stroke="#000" stroke-width="2.3"/>
<clipPath id="hc2"><rect x="561.4" y="1085.6" width="247.2" height="182.4"/></clipPath>
<g clip-path="url(#hc2)">
<rect x="560.4" y="1084.6" width="249.2" height="184.4" fill="#EEB4EE"/>
<g transform="translate(556,1080) scale(0.13026)">
<path d="M45,50 C80.8,15 195.8,25 260,50 C324.2,75 378.3,125 430,200 C481.7,275 571.7,445 570,500 C568.3,555 490,546.7 420,530 C350,513.3 212.5,445 150,400 C87.5,355 62.5,318.3 45,260 C27.5,201.7 9.2,85 45,50Z" fill="#F9A6EE"/>
<ellipse cx="330" cy="950" rx="95" ry="330" fill="#F8A8EE" transform="rotate(-15 330 950)"/>
<ellipse cx="600" cy="800" rx="75" ry="100" fill="#F9A6EE" transform="rotate(-30 600 800)"/>
<ellipse cx="150" cy="1270" rx="95" ry="70" fill="#F9A6EE"/>
<ellipse cx="1090" cy="935" rx="48" ry="75" fill="#FF86EC" transform="rotate(10 1090 935)"/>
<ellipse cx="1650" cy="1230" rx="235" ry="250" fill="#F8B0F2" transform="rotate(20 1650 1230)"/>
<ellipse cx="1690" cy="1085" rx="70" ry="45" fill="#F9A6EE" transform="rotate(-20 1690 1085)"/>
<ellipse cx="1880" cy="1400" rx="50" ry="40" fill="#FF86EC"/>
<path d="M600,50 C827.5,8.3 1704.2,16.7 1925,50 C2145.8,83.3 1979.2,188.3 1925,250 C1870.8,311.7 1704.2,353.3 1600,420 C1495.8,486.7 1400,603.3 1300,650 C1200,696.7 1100,708.3 1000,700 C900,691.7 773.3,666.7 700,600 C626.7,533.3 576.7,391.7 560,300 C543.3,208.3 372.5,91.7 600,50Z" fill="#B894E2" opacity="0.6"/>
<path d="M1480,620 C1503.3,580 1625.8,538.3 1700,490 C1774.2,441.7 1887.5,333.3 1925,330 C1962.5,326.7 1959.2,418.3 1925,470 C1890.8,521.7 1780.8,596.7 1720,640 C1659.2,683.3 1600,733.3 1560,730 C1520,726.7 1456.7,660 1480,620Z" fill="#fff"/>
<path d="M1090,1200 C1126.7,1163.3 1245,1133.3 1300,1100 C1355,1066.7 1366.7,1036.7 1420,1000 C1473.3,963.3 1596.7,881.7 1620,880 C1643.3,878.3 1596.7,948.3 1560,990 C1523.3,1031.7 1426.7,1085 1400,1130 C1373.3,1175 1411.7,1221.7 1400,1260 C1388.3,1298.3 1371.7,1331.7 1330,1360 C1288.3,1388.3 1191.7,1436.7 1150,1430 C1108.3,1423.3 1090,1358.3 1080,1320 C1070,1281.7 1053.3,1236.7 1090,1200Z" fill="#fff"/>
<path d="M1790,1200 C1820.8,1140 1902.5,1048.3 1925,1090 C1947.5,1131.7 1955.8,1390 1925,1450 C1894.2,1510 1762.5,1491.7 1740,1450 C1717.5,1408.3 1759.2,1260 1790,1200Z" fill="#fff"/>
<path d="M250,700 C257.5,673.3 285.8,640 300,640 C314.2,640 336.7,668.3 335,700 C333.3,731.7 303.3,813.3 290,830 C276.7,846.7 261.7,821.7 255,800 C248.3,778.3 242.5,726.7 250,700Z" fill="#fff"/>
<path d="M1230,420 C1241.7,396.7 1278.3,383.3 1290,400 C1301.7,416.7 1306.7,483.3 1300,520 C1293.3,556.7 1263.3,616.7 1250,620 C1236.7,623.3 1223.3,573.3 1220,540 C1216.7,506.7 1218.3,443.3 1230,420Z" fill="#fff"/>
<path d="M980,880 C989.2,865 1033.3,846.7 1040,860 C1046.7,873.3 1029.2,945 1020,960 C1010.8,975 991.7,963.3 985,950 C978.3,936.7 970.8,895 980,880Z" fill="#fff"/>
<path d="M880,1100 C891.7,1080 948.3,1066.7 960,1080 C971.7,1093.3 961.7,1160 950,1180 C938.3,1200 901.7,1213.3 890,1200 C878.3,1186.7 868.3,1120 880,1100Z" fill="#fff"/>
<path d="M60,1300 C91.7,1293.3 190,1320 250,1340 C310,1360 411.7,1401.7 420,1420 C428.3,1438.3 360,1456.7 300,1450 C240,1443.3 100,1405 60,1380 C20,1355 28.3,1306.7 60,1300Z" fill="#fff"/>
<path d="M1500,380 C1510,360 1575,326.7 1600,330 C1625,333.3 1660,380 1650,400 C1640,420 1565,453.3 1540,450 C1515,446.7 1490,400 1500,380Z" fill="#fff"/>
<path d="M1620,560 C1636.7,531.7 1746.7,445 1780,430 C1813.3,415 1836.7,441.7 1820,470 C1803.3,498.3 1713.3,585 1680,600 C1646.7,615 1603.3,588.3 1620,560Z" fill="#fff"/>
<ellipse cx="1225" cy="1225" rx="110" ry="45" fill="#B898E0" transform="rotate(-25 1225 1225)"/>
<ellipse cx="939" cy="970" rx="31" ry="17" fill="#C4A8E8" transform="rotate(123 939 970)" opacity="0.5"/>
<ellipse cx="562" cy="1183" rx="40" ry="31" fill="#AE98E0" transform="rotate(159 562 1183)" opacity="0.5"/>
<ellipse cx="321" cy="666" rx="46" ry="26" fill="#B8A0E4" transform="rotate(19 321 666)" opacity="0.5"/>
<ellipse cx="1012" cy="1196" rx="44" ry="26" fill="#B8A0E4" transform="rotate(169 1012 1196)" opacity="0.5"/>
<ellipse cx="1003" cy="179" rx="47" ry="28" fill="#C4A8E8" transform="rotate(34 1003 179)" opacity="0.5"/>
<ellipse cx="1061" cy="1283" rx="48" ry="43" fill="#AE98E0" transform="rotate(43 1061 1283)" opacity="0.5"/>
<ellipse cx="1000" cy="169" rx="41" ry="31" fill="#AE98E0" transform="rotate(98 1000 169)" opacity="0.5"/>
<ellipse cx="1064" cy="946" rx="32" ry="28" fill="#C4A8E8" transform="rotate(91 1064 946)" opacity="0.5"/>
<ellipse cx="630" cy="404" rx="35" ry="28" fill="#AE98E0" transform="rotate(45 630 404)" opacity="0.5"/>
<ellipse cx="101" cy="1200" rx="38" ry="25" fill="#C4A8E8" transform="rotate(11 101 1200)" opacity="0.5"/>
<ellipse cx="777" cy="1130" rx="39" ry="24" fill="#AE98E0" transform="rotate(70 777 1130)" opacity="0.5"/>
<ellipse cx="117" cy="438" rx="41" ry="23" fill="#C4A8E8" transform="rotate(94 117 438)" opacity="0.5"/>
<ellipse cx="363" cy="1342" rx="32" ry="27" fill="#AE98E0" transform="rotate(1 363 1342)" opacity="0.5"/>
<ellipse cx="385" cy="1162" rx="33" ry="20" fill="#C4A8E8" transform="rotate(139 385 1162)" opacity="0.5"/>
<ellipse cx="993" cy="85" rx="44" ry="39" fill="#AE98E0" transform="rotate(30 993 85)" opacity="0.5"/>
<ellipse cx="479" cy="788" rx="41" ry="27" fill="#C4A8E8" transform="rotate(41 479 788)" opacity="0.5"/>
<ellipse cx="890" cy="913" rx="35" ry="31" fill="#AE98E0" transform="rotate(178 890 913)" opacity="0.5"/>
<ellipse cx="1026" cy="92" rx="29" ry="22" fill="#C4A8E8" transform="rotate(107 1026 92)" opacity="0.5"/>
<ellipse cx="1806" cy="412" rx="37" ry="22" fill="#C4A8E8" transform="rotate(50 1806 412)" opacity="0.5"/>
<ellipse cx="1137" cy="537" rx="43" ry="33" fill="#B8A0E4" transform="rotate(176 1137 537)" opacity="0.5"/>
<ellipse cx="1529" cy="582" rx="35" ry="24" fill="#AE98E0" transform="rotate(175 1529 582)" opacity="0.5"/>
<ellipse cx="1065" cy="920" rx="39" ry="32" fill="#C4A8E8" transform="rotate(148 1065 920)" opacity="0.5"/>
<ellipse cx="509" cy="620" rx="42" ry="25" fill="#B8A0E4" transform="rotate(79 509 620)" opacity="0.5"/>
<ellipse cx="631" cy="303" rx="41" ry="30" fill="#B8A0E4" transform="rotate(7 631 303)" opacity="0.5"/>
<ellipse cx="441" cy="922" rx="29" ry="23" fill="#C4A8E8" transform="rotate(61 441 922)" opacity="0.5"/>
<ellipse cx="1708" cy="187" rx="47" ry="33" fill="#B8A0E4" transform="rotate(176 1708 187)" opacity="0.5"/>
<ellipse cx="860" cy="360" rx="38" ry="32" fill="#B8A0E4" transform="rotate(128 860 360)" opacity="0.5"/>
<ellipse cx="517" cy="694" rx="45" ry="29" fill="#AE98E0" transform="rotate(178 517 694)" opacity="0.5"/>
<ellipse cx="1477" cy="604" rx="41" ry="39" fill="#AE98E0" transform="rotate(146 1477 604)" opacity="0.5"/>
<ellipse cx="1326" cy="541" rx="34" ry="26" fill="#C4A8E8" transform="rotate(161 1326 541)" opacity="0.5"/>
<ellipse cx="625" cy="242" rx="39" ry="25" fill="#B8A0E4" transform="rotate(109 625 242)" opacity="0.5"/>
<ellipse cx="1556" cy="451" rx="40" ry="28" fill="#AE98E0" transform="rotate(82 1556 451)" opacity="0.5"/>
<ellipse cx="326" cy="414" rx="41" ry="36" fill="#C4A8E8" transform="rotate(105 326 414)" opacity="0.5"/>
<ellipse cx="844" cy="971" rx="43" ry="32" fill="#C4A8E8" transform="rotate(46 844 971)" opacity="0.5"/>
<ellipse cx="1871" cy="782" rx="45" ry="40" fill="#AE98E0" transform="rotate(91 1871 782)" opacity="0.5"/>
<ellipse cx="1660" cy="486" rx="43" ry="38" fill="#AE98E0" transform="rotate(78 1660 486)" opacity="0.5"/>
<ellipse cx="128" cy="1183" rx="32" ry="28" fill="#B8A0E4" transform="rotate(47 128 1183)" opacity="0.5"/>
<ellipse cx="1500" cy="814" rx="46" ry="32" fill="#C4A8E8" transform="rotate(137 1500 814)" opacity="0.5"/>
<ellipse cx="424" cy="189" rx="31" ry="22" fill="#C4A8E8" transform="rotate(162 424 189)" opacity="0.5"/>
<ellipse cx="599" cy="549" rx="45" ry="41" fill="#B8A0E4" transform="rotate(71 599 549)" opacity="0.5"/>
<ellipse cx="736" cy="196" rx="44" ry="34" fill="#AE98E0" transform="rotate(95 736 196)" opacity="0.5"/>
<ellipse cx="1463" cy="1223" rx="29" ry="17" fill="#B8A0E4" transform="rotate(14 1463 1223)" opacity="0.5"/>
<ellipse cx="1619" cy="1355" rx="42" ry="32" fill="#AE98E0" transform="rotate(166 1619 1355)" opacity="0.5"/>
<ellipse cx="1450" cy="1378" rx="33" ry="30" fill="#C4A8E8" transform="rotate(161 1450 1378)" opacity="0.5"/>
<ellipse cx="436" cy="1109" rx="39" ry="26" fill="#B8A0E4" transform="rotate(100 436 1109)" opacity="0.5"/>
<ellipse cx="728" cy="468" rx="40" ry="33" fill="#B8A0E4" transform="rotate(50 728 468)" opacity="0.5"/>
<ellipse cx="958" cy="324" rx="39" ry="27" fill="#B8A0E4" transform="rotate(87 958 324)" opacity="0.5"/>
<ellipse cx="771" cy="907" rx="39" ry="36" fill="#AE98E0" transform="rotate(71 771 907)" opacity="0.5"/>
<ellipse cx="521" cy="636" rx="43" ry="34" fill="#B8A0E4" transform="rotate(92 521 636)" opacity="0.5"/>
<ellipse cx="1077" cy="884" rx="36" ry="24" fill="#C4A8E8" transform="rotate(84 1077 884)" opacity="0.5"/>
<ellipse cx="1819" cy="887" rx="40" ry="37" fill="#C4A8E8" transform="rotate(158 1819 887)" opacity="0.5"/>
<ellipse cx="737" cy="540" rx="34" ry="23" fill="#AE98E0" transform="rotate(164 737 540)" opacity="0.5"/>
<ellipse cx="794" cy="772" rx="29" ry="24" fill="#B8A0E4" transform="rotate(64 794 772)" opacity="0.5"/>
<ellipse cx="355" cy="730" rx="34" ry="30" fill="#B8A0E4" transform="rotate(72 355 730)" opacity="0.5"/>
<ellipse cx="174" cy="1012" rx="33" ry="20" fill="#B8A0E4" transform="rotate(150 174 1012)" opacity="0.5"/>
<ellipse cx="392" cy="1090" rx="31" ry="23" fill="#C4A8E8" transform="rotate(119 392 1090)" opacity="0.5"/>
<ellipse cx="778" cy="433" rx="32" ry="25" fill="#AE98E0" transform="rotate(124 778 433)" opacity="0.5"/>
<ellipse cx="989" cy="977" rx="42" ry="29" fill="#C4A8E8" transform="rotate(34 989 977)" opacity="0.5"/>
<ellipse cx="332" cy="1220" rx="34" ry="22" fill="#C4A8E8" transform="rotate(13 332 1220)" opacity="0.5"/>
<ellipse cx="509" cy="346" rx="39" ry="29" fill="#C4A8E8" transform="rotate(153 509 346)" opacity="0.5"/>
<ellipse cx="761" cy="790" rx="47" ry="41" fill="#B8A0E4" transform="rotate(32 761 790)" opacity="0.5"/>
<ellipse cx="1750" cy="204" rx="32" ry="28" fill="#AE98E0" transform="rotate(14 1750 204)" opacity="0.5"/>
<ellipse cx="866" cy="82" rx="35" ry="25" fill="#B8A0E4" transform="rotate(139 866 82)" opacity="0.5"/>
<ellipse cx="1775" cy="781" rx="45" ry="41" fill="#AE98E0" transform="rotate(102 1775 781)" opacity="0.5"/>
<ellipse cx="1069" cy="1234" rx="46" ry="26" fill="#B8A0E4" transform="rotate(135 1069 1234)" opacity="0.5"/>
<ellipse cx="1320" cy="439" rx="34" ry="23" fill="#AE98E0" transform="rotate(100 1320 439)" opacity="0.5"/>
<ellipse cx="1032" cy="1137" rx="45" ry="37" fill="#C4A8E8" transform="rotate(177 1032 1137)" opacity="0.5"/>
<ellipse cx="586" cy="167" rx="29" ry="27" fill="#B8A0E4" transform="rotate(16 586 167)" opacity="0.5"/>
<ellipse cx="1179" cy="239" rx="39" ry="24" fill="#C4A8E8" transform="rotate(57 1179 239)" opacity="0.5"/>
<ellipse cx="1610" cy="79" rx="37" ry="27" fill="#C4A8E8" transform="rotate(42 1610 79)" opacity="0.5"/>
<ellipse cx="1466" cy="657" rx="28" ry="23" fill="#C4A8E8" transform="rotate(74 1466 657)" opacity="0.5"/>
<ellipse cx="224" cy="736" rx="35" ry="27" fill="#AE98E0" transform="rotate(135 224 736)" opacity="0.5"/>
<ellipse cx="1215" cy="826" rx="40" ry="31" fill="#B8A0E4" transform="rotate(14 1215 826)" opacity="0.5"/>
<ellipse cx="1771" cy="386" rx="44" ry="40" fill="#B8A0E4" transform="rotate(22 1771 386)" opacity="0.5"/>
<ellipse cx="1849" cy="144" rx="37" ry="32" fill="#AE98E0" transform="rotate(87 1849 144)" opacity="0.5"/>
<ellipse cx="949" cy="336" rx="29" ry="17" fill="#C4A8E8" transform="rotate(126 949 336)" opacity="0.5"/>
<ellipse cx="1320" cy="876" rx="37" ry="27" fill="#B8A0E4" transform="rotate(29 1320 876)" opacity="0.5"/>
<ellipse cx="427" cy="626" rx="40" ry="28" fill="#AE98E0" transform="rotate(115 427 626)" opacity="0.5"/>
<ellipse cx="1018" cy="658" rx="32" ry="30" fill="#AE98E0" transform="rotate(166 1018 658)" opacity="0.5"/>
<ellipse cx="384" cy="858" rx="42" ry="35" fill="#AE98E0" transform="rotate(150 384 858)" opacity="0.5"/>
<ellipse cx="1292" cy="112" rx="45" ry="38" fill="#B8A0E4" transform="rotate(40 1292 112)" opacity="0.5"/>
<ellipse cx="1915" cy="837" rx="47" ry="44" fill="#B8A0E4" transform="rotate(70 1915 837)" opacity="0.5"/>
<ellipse cx="1232" cy="401" rx="39" ry="36" fill="#AE98E0" transform="rotate(146 1232 401)" opacity="0.5"/>
<ellipse cx="1305" cy="647" rx="45" ry="27" fill="#B8A0E4" transform="rotate(161 1305 647)" opacity="0.5"/>
<ellipse cx="865" cy="1256" rx="29" ry="27" fill="#B8A0E4" transform="rotate(31 865 1256)" opacity="0.5"/>
<ellipse cx="1426" cy="248" rx="32" ry="23" fill="#AE98E0" transform="rotate(137 1426 248)" opacity="0.5"/>
<ellipse cx="1629" cy="1417" rx="30" ry="17" fill="#C4A8E8" transform="rotate(67 1629 1417)" opacity="0.5"/>
<ellipse cx="620" cy="552" rx="40" ry="29" fill="#AE98E0" transform="rotate(24 620 552)" opacity="0.5"/>
<ellipse cx="1697" cy="661" rx="36" ry="34" fill="#C4A8E8" transform="rotate(27 1697 661)" opacity="0.5"/>
<ellipse cx="1710" cy="410" rx="38" ry="21" fill="#B8A0E4" transform="rotate(102 1710 410)" opacity="0.5"/>
<ellipse cx="785" cy="1024" rx="42" ry="25" fill="#B8A0E4" transform="rotate(155 785 1024)" opacity="0.5"/>
<ellipse cx="1599" cy="488" rx="43" ry="24" fill="#B8A0E4" transform="rotate(80 1599 488)" opacity="0.5"/>
<ellipse cx="824" cy="162" rx="36" ry="24" fill="#C4A8E8" transform="rotate(90 824 162)" opacity="0.5"/>
<ellipse cx="190" cy="524" rx="35" ry="22" fill="#B8A0E4" transform="rotate(15 190 524)" opacity="0.5"/>
<ellipse cx="825" cy="340" rx="48" ry="38" fill="#B8A0E4" transform="rotate(58 825 340)" opacity="0.5"/>
<ellipse cx="592" cy="124" rx="41" ry="34" fill="#B8A0E4" transform="rotate(94 592 124)" opacity="0.5"/>
<ellipse cx="1053" cy="175" rx="47" ry="38" fill="#B8A0E4" transform="rotate(20 1053 175)" opacity="0.5"/>
<ellipse cx="681" cy="193" rx="34" ry="29" fill="#B8A0E4" transform="rotate(7 681 193)" opacity="0.5"/>
<ellipse cx="937" cy="123" rx="43" ry="36" fill="#C4A8E8" transform="rotate(42 937 123)" opacity="0.5"/>
<ellipse cx="664" cy="226" rx="45" ry="27" fill="#B8A0E4" transform="rotate(120 664 226)" opacity="0.5"/>
<ellipse cx="1137" cy="957" rx="45" ry="35" fill="#AE98E0" transform="rotate(121 1137 957)" opacity="0.5"/>
<ellipse cx="808" cy="929" rx="47" ry="40" fill="#C4A8E8" transform="rotate(43 808 929)" opacity="0.5"/>
<ellipse cx="1400" cy="378" rx="39" ry="32" fill="#B8A0E4" transform="rotate(53 1400 378)" opacity="0.5"/>
<ellipse cx="850" cy="364" rx="36" ry="26" fill="#B8A0E4" transform="rotate(174 850 364)" opacity="0.5"/>
<ellipse cx="646" cy="292" rx="32" ry="29" fill="#AE98E0" transform="rotate(26 646 292)" opacity="0.5"/>
<ellipse cx="1690" cy="397" rx="47" ry="34" fill="#C4A8E8" transform="rotate(115 1690 397)" opacity="0.5"/>
<ellipse cx="679" cy="1361" rx="29" ry="23" fill="#B8A0E4" transform="rotate(163 679 1361)" opacity="0.5"/>
<ellipse cx="1290" cy="782" rx="38" ry="21" fill="#B8A0E4" transform="rotate(136 1290 782)" opacity="0.5"/>
<ellipse cx="1729" cy="139" rx="30" ry="21" fill="#AE98E0" transform="rotate(7 1729 139)" opacity="0.5"/>
<ellipse cx="129" cy="540" rx="36" ry="24" fill="#AE98E0" transform="rotate(140 129 540)" opacity="0.5"/>
<ellipse cx="573" cy="831" rx="32" ry="21" fill="#B8A0E4" transform="rotate(53 573 831)" opacity="0.5"/>
<ellipse cx="1876" cy="321" rx="30" ry="17" fill="#AE98E0" transform="rotate(37 1876 321)" opacity="0.5"/>
<ellipse cx="861" cy="1107" rx="30" ry="21" fill="#AE98E0" transform="rotate(127 861 1107)" opacity="0.5"/>
<ellipse cx="1193" cy="657" rx="31" ry="27" fill="#C4A8E8" transform="rotate(30 1193 657)" opacity="0.5"/>
<ellipse cx="433" cy="1014" rx="40" ry="24" fill="#B8A0E4" transform="rotate(103 433 1014)" opacity="0.5"/>
<ellipse cx="1654" cy="770" rx="34" ry="21" fill="#B8A0E4" transform="rotate(158 1654 770)" opacity="0.5"/>
<ellipse cx="1178" cy="717" rx="30" ry="26" fill="#B8A0E4" transform="rotate(71 1178 717)" opacity="0.5"/>
<ellipse cx="1202" cy="301" rx="35" ry="28" fill="#B8A0E4" transform="rotate(26 1202 301)" opacity="0.5"/>
<ellipse cx="1768" cy="363" rx="39" ry="35" fill="#AE98E0" transform="rotate(173 1768 363)" opacity="0.5"/>
<ellipse cx="638" cy="361" rx="47" ry="40" fill="#C4A8E8" transform="rotate(160 638 361)" opacity="0.5"/>
<ellipse cx="1394" cy="1429" rx="42" ry="27" fill="#B8A0E4" transform="rotate(36 1394 1429)" opacity="0.5"/>
<ellipse cx="1490" cy="866" rx="45" ry="27" fill="#AE98E0" transform="rotate(24 1490 866)" opacity="0.5"/>
<ellipse cx="552" cy="723" rx="41" ry="28" fill="#C4A8E8" transform="rotate(51 552 723)" opacity="0.5"/>
<ellipse cx="1730" cy="1052" rx="42" ry="37" fill="#AE98E0" transform="rotate(63 1730 1052)" opacity="0.5"/>
<ellipse cx="530" cy="229" rx="46" ry="40" fill="#B8A0E4" transform="rotate(132 530 229)" opacity="0.5"/>
<ellipse cx="1440" cy="328" rx="28" ry="22" fill="#AE98E0" transform="rotate(129 1440 328)" opacity="0.5"/>
<ellipse cx="1923" cy="295" rx="40" ry="33" fill="#AE98E0" transform="rotate(30 1923 295)" opacity="0.5"/>
<ellipse cx="850" cy="1055" rx="40" ry="27" fill="#C4A8E8" transform="rotate(78 850 1055)" opacity="0.5"/>
<ellipse cx="1277" cy="1094" rx="46" ry="25" fill="#B8A0E4" transform="rotate(147 1277 1094)" opacity="0.5"/>
<ellipse cx="1262" cy="675" rx="38" ry="23" fill="#AE98E0" transform="rotate(138 1262 675)" opacity="0.5"/>
<ellipse cx="1517" cy="564" rx="47" ry="38" fill="#C4A8E8" transform="rotate(23 1517 564)" opacity="0.5"/>
<ellipse cx="1001" cy="655" rx="34" ry="27" fill="#AE98E0" transform="rotate(104 1001 655)" opacity="0.5"/>
<ellipse cx="983" cy="1083" rx="42" ry="31" fill="#C4A8E8" transform="rotate(90 983 1083)" opacity="0.5"/>
<ellipse cx="1196" cy="359" rx="40" ry="32" fill="#AE98E0" transform="rotate(21 1196 359)" opacity="0.5"/>
<ellipse cx="348" cy="1254" rx="39" ry="35" fill="#B8A0E4" transform="rotate(120 348 1254)" opacity="0.5"/>
<ellipse cx="979" cy="644" rx="33" ry="21" fill="#B8A0E4" transform="rotate(142 979 644)" opacity="0.5"/>
<ellipse cx="544" cy="993" rx="38" ry="36" fill="#AE98E0" transform="rotate(103 544 993)" opacity="0.5"/>
<ellipse cx="1375" cy="164" rx="31" ry="29" fill="#B8A0E4" transform="rotate(130 1375 164)" opacity="0.5"/>
<ellipse cx="1294" cy="194" rx="45" ry="40" fill="#AE98E0" transform="rotate(71 1294 194)" opacity="0.5"/>
<ellipse cx="1331" cy="1123" rx="48" ry="26" fill="#C4A8E8" transform="rotate(92 1331 1123)" opacity="0.5"/>
<ellipse cx="1117" cy="764" rx="38" ry="26" fill="#AE98E0" transform="rotate(7 1117 764)" opacity="0.5"/>
<ellipse cx="862" cy="1272" rx="31" ry="17" fill="#C4A8E8" transform="rotate(139 862 1272)" opacity="0.5"/>
<ellipse cx="1099" cy="68" rx="29" ry="22" fill="#B8A0E4" transform="rotate(27 1099 68)" opacity="0.5"/>
<ellipse cx="1188" cy="272" rx="43" ry="34" fill="#B8A0E4" transform="rotate(64 1188 272)" opacity="0.5"/>
<ellipse cx="1896" cy="82" rx="42" ry="33" fill="#AE98E0" transform="rotate(64 1896 82)" opacity="0.5"/>
<ellipse cx="1743" cy="186" rx="33" ry="26" fill="#C4A8E8" transform="rotate(166 1743 186)" opacity="0.5"/>
<ellipse cx="842" cy="829" rx="46" ry="33" fill="#C4A8E8" transform="rotate(172 842 829)" opacity="0.5"/>
<ellipse cx="1378" cy="794" rx="44" ry="35" fill="#B8A0E4" transform="rotate(91 1378 794)" opacity="0.5"/>
<ellipse cx="1105" cy="986" rx="45" ry="38" fill="#B8A0E4" transform="rotate(74 1105 986)" opacity="0.5"/>
<ellipse cx="1727" cy="369" rx="39" ry="28" fill="#C4A8E8" transform="rotate(165 1727 369)" opacity="0.5"/>
<ellipse cx="566" cy="536" rx="39" ry="29" fill="#AE98E0" transform="rotate(20 566 536)" opacity="0.5"/>
<ellipse cx="63" cy="706" rx="29" ry="22" fill="#B8A0E4" transform="rotate(141 63 706)" opacity="0.5"/>
<ellipse cx="645" cy="1091" rx="29" ry="27" fill="#B8A0E4" transform="rotate(121 645 1091)" opacity="0.5"/>
<ellipse cx="1910" cy="682" rx="38" ry="34" fill="#AE98E0" transform="rotate(84 1910 682)" opacity="0.5"/>
<ellipse cx="372" cy="86" rx="40" ry="24" fill="#B8A0E4" transform="rotate(92 372 86)" opacity="0.5"/>
<ellipse cx="765" cy="127" rx="41" ry="26" fill="#B8A0E4" transform="rotate(66 765 127)" opacity="0.5"/>
<ellipse cx="899" cy="416" rx="45" ry="28" fill="#C4A8E8" transform="rotate(24 899 416)" opacity="0.5"/>
<ellipse cx="1392" cy="331" rx="33" ry="28" fill="#C4A8E8" transform="rotate(175 1392 331)" opacity="0.5"/>
<ellipse cx="1779" cy="897" rx="35" ry="27" fill="#C4A8E8" transform="rotate(13 1779 897)" opacity="0.5"/>
<ellipse cx="830" cy="789" rx="41" ry="39" fill="#B8A0E4" transform="rotate(126 830 789)" opacity="0.5"/>
<ellipse cx="1892" cy="719" rx="46" ry="35" fill="#C4A8E8" transform="rotate(59 1892 719)" opacity="0.5"/>
<ellipse cx="1018" cy="1214" rx="44" ry="25" fill="#AE98E0" transform="rotate(54 1018 1214)" opacity="0.5"/>
<ellipse cx="1783" cy="313" rx="35" ry="25" fill="#C4A8E8" transform="rotate(33 1783 313)" opacity="0.5"/>
<ellipse cx="1154" cy="99" rx="32" ry="29" fill="#C4A8E8" transform="rotate(35 1154 99)" opacity="0.5"/>
<ellipse cx="1356" cy="496" rx="30" ry="18" fill="#AE98E0" transform="rotate(75 1356 496)" opacity="0.5"/>
<ellipse cx="1220" cy="836" rx="45" ry="34" fill="#B8A0E4" transform="rotate(85 1220 836)" opacity="0.5"/>
<ellipse cx="1385" cy="1313" rx="34" ry="26" fill="#AE98E0" transform="rotate(159 1385 1313)" opacity="0.5"/>
<ellipse cx="865" cy="206" rx="46" ry="40" fill="#B8A0E4" transform="rotate(130 865 206)" opacity="0.5"/>
<ellipse cx="901" cy="1244" rx="28" ry="16" fill="#B8A0E4" transform="rotate(12 901 1244)" opacity="0.5"/>
<ellipse cx="536" cy="764" rx="43" ry="35" fill="#B8A0E4" transform="rotate(76 536 764)" opacity="0.5"/>
<ellipse cx="346" cy="1443" rx="38" ry="23" fill="#C4A8E8" transform="rotate(99 346 1443)" opacity="0.5"/>
<ellipse cx="630" cy="431" rx="34" ry="26" fill="#C4A8E8" transform="rotate(44 630 431)" opacity="0.5"/>
<ellipse cx="64" cy="189" rx="45" ry="42" fill="#C4A8E8" transform="rotate(34 64 189)" opacity="0.5"/>
<ellipse cx="1035" cy="409" rx="47" ry="30" fill="#C4A8E8" transform="rotate(41 1035 409)" opacity="0.5"/>
<ellipse cx="1551" cy="124" rx="33" ry="20" fill="#B8A0E4" transform="rotate(22 1551 124)" opacity="0.5"/>
<ellipse cx="914" cy="685" rx="42" ry="26" fill="#B8A0E4" transform="rotate(89 914 685)" opacity="0.5"/>
<ellipse cx="673" cy="83" rx="39" ry="27" fill="#C4A8E8" transform="rotate(104 673 83)" opacity="0.5"/>
<ellipse cx="333" cy="938" rx="33" ry="29" fill="#B8A0E4" transform="rotate(165 333 938)" opacity="0.5"/>
<ellipse cx="1843" cy="175" rx="41" ry="31" fill="#AE98E0" transform="rotate(175 1843 175)" opacity="0.5"/>
<ellipse cx="1435" cy="146" rx="36" ry="21" fill="#C4A8E8" transform="rotate(67 1435 146)" opacity="0.5"/>
<ellipse cx="694" cy="212" rx="42" ry="37" fill="#AE98E0" transform="rotate(163 694 212)" opacity="0.5"/>
<ellipse cx="623" cy="666" rx="30" ry="19" fill="#B8A0E4" transform="rotate(109 623 666)" opacity="0.5"/>
<ellipse cx="914" cy="638" rx="45" ry="41" fill="#AE98E0" transform="rotate(55 914 638)" opacity="0.5"/>
<ellipse cx="539" cy="617" rx="39" ry="35" fill="#C4A8E8" transform="rotate(156 539 617)" opacity="0.5"/>
<ellipse cx="1094" cy="298" rx="39" ry="32" fill="#AE98E0" transform="rotate(123 1094 298)" opacity="0.5"/>
<ellipse cx="1483" cy="765" rx="35" ry="31" fill="#AE98E0" transform="rotate(157 1483 765)" opacity="0.5"/>
<ellipse cx="571" cy="600" rx="34" ry="32" fill="#AE98E0" transform="rotate(74 571 600)" opacity="0.5"/>
<ellipse cx="1571" cy="785" rx="29" ry="17" fill="#B8A0E4" transform="rotate(179 1571 785)" opacity="0.5"/>
<ellipse cx="1467" cy="904" rx="38" ry="31" fill="#AE98E0" transform="rotate(1 1467 904)" opacity="0.5"/>
<ellipse cx="589" cy="179" rx="46" ry="27" fill="#C4A8E8" transform="rotate(46 589 179)" opacity="0.5"/>
<ellipse cx="520" cy="289" rx="36" ry="26" fill="#C4A8E8" transform="rotate(145 520 289)" opacity="0.5"/>
<ellipse cx="940" cy="918" rx="35" ry="24" fill="#B8A0E4" transform="rotate(10 940 918)" opacity="0.5"/>
<ellipse cx="1156" cy="510" rx="46" ry="32" fill="#C4A8E8" transform="rotate(125 1156 510)" opacity="0.5"/>
<ellipse cx="1763" cy="397" rx="37" ry="30" fill="#AE98E0" transform="rotate(49 1763 397)" opacity="0.5"/>
<ellipse cx="559" cy="444" rx="35" ry="29" fill="#AE98E0" transform="rotate(169 559 444)" opacity="0.5"/>
<ellipse cx="1036" cy="1251" rx="35" ry="30" fill="#AE98E0" transform="rotate(70 1036 1251)" opacity="0.5"/>
<ellipse cx="792" cy="827" rx="33" ry="24" fill="#AE98E0" transform="rotate(108 792 827)" opacity="0.5"/>
<ellipse cx="528" cy="824" rx="32" ry="26" fill="#C4A8E8" transform="rotate(124 528 824)" opacity="0.5"/>
<ellipse cx="116" cy="389" rx="40" ry="23" fill="#C4A8E8" transform="rotate(20 116 389)" opacity="0.5"/>
<ellipse cx="545" cy="832" rx="28" ry="22" fill="#B8A0E4" transform="rotate(14 545 832)" opacity="0.5"/>
<ellipse cx="922" cy="761" rx="17" ry="13" fill="#4636A4" transform="rotate(24 922 761)"/>
<ellipse cx="886" cy="250" rx="27" ry="21" fill="#7868C6" transform="rotate(115 886 250)"/>
<ellipse cx="1275" cy="911" rx="15" ry="12" fill="#5646B6" transform="rotate(9 1275 911)"/>
<ellipse cx="405" cy="390" rx="21" ry="15" fill="#4636A4" transform="rotate(132 405 390)"/>
<ellipse cx="487" cy="463" rx="16" ry="13" fill="#7868C6" transform="rotate(141 487 463)"/>
<ellipse cx="640" cy="373" rx="16" ry="14" fill="#7868C6" transform="rotate(27 640 373)"/>
<ellipse cx="1638" cy="53" rx="27" ry="20" fill="#7868C6" transform="rotate(107 1638 53)"/>
<ellipse cx="554" cy="174" rx="28" ry="23" fill="#5646B6" transform="rotate(34 554 174)"/>
<ellipse cx="510" cy="193" rx="25" ry="16" fill="#4636A4" transform="rotate(114 510 193)"/>
<ellipse cx="835" cy="588" rx="28" ry="15" fill="#6A58BE" transform="rotate(5 835 588)"/>
<ellipse cx="1253" cy="192" rx="18" ry="12" fill="#6A58BE" transform="rotate(75 1253 192)"/>
<ellipse cx="773" cy="156" rx="23" ry="13" fill="#6A58BE" transform="rotate(95 773 156)"/>
<ellipse cx="1216" cy="230" rx="26" ry="16" fill="#7868C6" transform="rotate(46 1216 230)"/>
<ellipse cx="1194" cy="1065" rx="23" ry="18" fill="#7868C6" transform="rotate(123 1194 1065)"/>
<ellipse cx="1181" cy="640" rx="16" ry="14" fill="#4636A4" transform="rotate(100 1181 640)"/>
<ellipse cx="530" cy="1202" rx="19" ry="12" fill="#5646B6" transform="rotate(32 530 1202)"/>
<ellipse cx="1201" cy="443" rx="18" ry="10" fill="#6A58BE" transform="rotate(105 1201 443)"/>
<ellipse cx="885" cy="136" rx="20" ry="15" fill="#4636A4" transform="rotate(23 885 136)"/>
<ellipse cx="1281" cy="1017" rx="17" ry="9" fill="#5646B6" transform="rotate(121 1281 1017)"/>
<ellipse cx="88" cy="940" rx="24" ry="17" fill="#5646B6" transform="rotate(19 88 940)"/>
<ellipse cx="898" cy="565" rx="27" ry="23" fill="#4636A4" transform="rotate(87 898 565)"/>
<ellipse cx="1669" cy="852" rx="20" ry="16" fill="#5646B6" transform="rotate(20 1669 852)"/>
<ellipse cx="829" cy="513" rx="24" ry="18" fill="#7868C6" transform="rotate(138 829 513)"/>
<ellipse cx="205" cy="1099" rx="23" ry="17" fill="#4636A4" transform="rotate(178 205 1099)"/>
<ellipse cx="260" cy="1141" rx="21" ry="19" fill="#6A58BE" transform="rotate(77 260 1141)"/>
<ellipse cx="317" cy="906" rx="25" ry="17" fill="#7868C6" transform="rotate(127 317 906)"/>
<ellipse cx="1142" cy="494" rx="21" ry="19" fill="#5646B6" transform="rotate(16 1142 494)"/>
<ellipse cx="894" cy="436" rx="20" ry="16" fill="#7868C6" transform="rotate(172 894 436)"/>
<ellipse cx="897" cy="156" rx="26" ry="15" fill="#6A58BE" transform="rotate(146 897 156)"/>
<ellipse cx="713" cy="958" rx="23" ry="17" fill="#4636A4" transform="rotate(6 713 958)"/>
<ellipse cx="1492" cy="424" rx="25" ry="24" fill="#5646B6" transform="rotate(114 1492 424)"/>
<ellipse cx="253" cy="799" rx="20" ry="12" fill="#4636A4" transform="rotate(51 253 799)"/>
<ellipse cx="1465" cy="799" rx="18" ry="15" fill="#4636A4" transform="rotate(100 1465 799)"/>
<ellipse cx="818" cy="1298" rx="21" ry="13" fill="#5646B6" transform="rotate(96 818 1298)"/>
<ellipse cx="1080" cy="963" rx="26" ry="18" fill="#6A58BE" transform="rotate(166 1080 963)"/>
<ellipse cx="1892" cy="190" rx="25" ry="23" fill="#5646B6" transform="rotate(54 1892 190)"/>
<ellipse cx="503" cy="597" rx="19" ry="18" fill="#6A58BE" transform="rotate(67 503 597)"/>
<ellipse cx="203" cy="667" rx="25" ry="19" fill="#5646B6" transform="rotate(55 203 667)"/>
<ellipse cx="1567" cy="141" rx="17" ry="12" fill="#4636A4" transform="rotate(120 1567 141)"/>
<ellipse cx="973" cy="1377" rx="18" ry="14" fill="#6A58BE" transform="rotate(143 973 1377)"/>
<ellipse cx="1099" cy="487" rx="26" ry="24" fill="#4636A4" transform="rotate(77 1099 487)"/>
<ellipse cx="1124" cy="333" rx="22" ry="17" fill="#5646B6" transform="rotate(137 1124 333)"/>
<ellipse cx="1868" cy="772" rx="25" ry="20" fill="#7868C6" transform="rotate(23 1868 772)"/>
<ellipse cx="1345" cy="144" rx="20" ry="19" fill="#7868C6" transform="rotate(68 1345 144)"/>
<ellipse cx="510" cy="740" rx="27" ry="25" fill="#7868C6" transform="rotate(134 510 740)"/>
<ellipse cx="643" cy="319" rx="27" ry="16" fill="#5646B6" transform="rotate(9 643 319)"/>
<ellipse cx="653" cy="548" rx="16" ry="14" fill="#5646B6" transform="rotate(130 653 548)"/>
<ellipse cx="1697" cy="84" rx="26" ry="20" fill="#4636A4" transform="rotate(161 1697 84)"/>
<ellipse cx="1050" cy="357" rx="22" ry="17" fill="#4636A4" transform="rotate(59 1050 357)"/>
<ellipse cx="1765" cy="929" rx="17" ry="14" fill="#4636A4" transform="rotate(55 1765 929)"/>
<ellipse cx="1509" cy="324" rx="27" ry="16" fill="#5646B6" transform="rotate(66 1509 324)"/>
<ellipse cx="776" cy="659" rx="22" ry="18" fill="#4636A4" transform="rotate(103 776 659)"/>
<ellipse cx="1118" cy="551" rx="20" ry="16" fill="#6A58BE" transform="rotate(128 1118 551)"/>
<ellipse cx="953" cy="86" rx="23" ry="21" fill="#7868C6" transform="rotate(37 953 86)"/>
<ellipse cx="404" cy="212" rx="17" ry="11" fill="#5646B6" transform="rotate(148 404 212)"/>
<ellipse cx="1483" cy="508" rx="22" ry="16" fill="#6A58BE" transform="rotate(3 1483 508)"/>
<ellipse cx="1238" cy="109" rx="20" ry="14" fill="#6A58BE" transform="rotate(103 1238 109)"/>
<ellipse cx="1778" cy="896" rx="25" ry="17" fill="#5646B6" transform="rotate(161 1778 896)"/>
<ellipse cx="1812" cy="847" rx="23" ry="16" fill="#6A58BE" transform="rotate(71 1812 847)"/>
<ellipse cx="180" cy="529" rx="15" ry="10" fill="#5646B6" transform="rotate(59 180 529)"/>
<ellipse cx="560" cy="1394" rx="18" ry="13" fill="#4636A4" transform="rotate(136 560 1394)"/>
<ellipse cx="192" cy="771" rx="18" ry="11" fill="#7868C6" transform="rotate(147 192 771)"/>
<ellipse cx="530" cy="613" rx="18" ry="12" fill="#5646B6" transform="rotate(66 530 613)"/>
<ellipse cx="519" cy="1316" rx="22" ry="20" fill="#5646B6" transform="rotate(163 519 1316)"/>
<ellipse cx="882" cy="952" rx="24" ry="22" fill="#7868C6" transform="rotate(40 882 952)"/>
<ellipse cx="1065" cy="885" rx="21" ry="14" fill="#7868C6" transform="rotate(153 1065 885)"/>
<ellipse cx="634" cy="792" rx="19" ry="17" fill="#6A58BE" transform="rotate(6 634 792)"/>
<ellipse cx="74" cy="394" rx="17" ry="15" fill="#7868C6" transform="rotate(13 74 394)"/>
<ellipse cx="1733" cy="1097" rx="28" ry="26" fill="#5646B6" transform="rotate(57 1733 1097)"/>
<ellipse cx="1581" cy="895" rx="23" ry="17" fill="#4636A4" transform="rotate(13 1581 895)"/>
<ellipse cx="718" cy="268" rx="17" ry="12" fill="#6A58BE" transform="rotate(163 718 268)"/>
<ellipse cx="1141" cy="638" rx="22" ry="21" fill="#6A58BE" transform="rotate(32 1141 638)"/>
<ellipse cx="1520" cy="924" rx="19" ry="15" fill="#4636A4" transform="rotate(162 1520 924)"/>
<ellipse cx="571" cy="386" rx="22" ry="17" fill="#4636A4" transform="rotate(174 571 386)"/>
<ellipse cx="846" cy="922" rx="22" ry="13" fill="#5646B6" transform="rotate(173 846 922)"/>
<ellipse cx="956" cy="546" rx="21" ry="13" fill="#5646B6" transform="rotate(30 956 546)"/>
<ellipse cx="1491" cy="672" rx="20" ry="12" fill="#4636A4" transform="rotate(167 1491 672)"/>
<ellipse cx="1618" cy="885" rx="25" ry="22" fill="#4636A4" transform="rotate(109 1618 885)"/>
<ellipse cx="1275" cy="863" rx="19" ry="15" fill="#7868C6" transform="rotate(144 1275 863)"/>
<ellipse cx="1594" cy="65" rx="27" ry="21" fill="#6A58BE" transform="rotate(126 1594 65)"/>
<ellipse cx="736" cy="216" rx="22" ry="21" fill="#6A58BE" transform="rotate(112 736 216)"/>
<ellipse cx="1043" cy="1437" rx="18" ry="17" fill="#4636A4" transform="rotate(21 1043 1437)"/>
<ellipse cx="727" cy="562" rx="20" ry="14" fill="#4636A4" transform="rotate(144 727 562)"/>
<ellipse cx="739" cy="597" rx="23" ry="14" fill="#5646B6" transform="rotate(116 739 597)"/>
<ellipse cx="1701" cy="445" rx="22" ry="17" fill="#6A58BE" transform="rotate(5 1701 445)"/>
<ellipse cx="1074" cy="1152" rx="16" ry="14" fill="#6A58BE" transform="rotate(21 1074 1152)"/>
<ellipse cx="97" cy="964" rx="26" ry="18" fill="#4636A4" transform="rotate(125 97 964)"/>
<ellipse cx="788" cy="524" rx="24" ry="18" fill="#5646B6" transform="rotate(158 788 524)"/>
<ellipse cx="1765" cy="625" rx="24" ry="21" fill="#7868C6" transform="rotate(22 1765 625)"/>
<ellipse cx="839" cy="639" rx="25" ry="23" fill="#7868C6" transform="rotate(175 839 639)"/>
<ellipse cx="596" cy="1406" rx="19" ry="11" fill="#4636A4" transform="rotate(45 596 1406)"/>
<ellipse cx="1760" cy="1103" rx="21" ry="18" fill="#6A58BE" transform="rotate(27 1760 1103)"/>
<ellipse cx="419" cy="554" rx="23" ry="17" fill="#4636A4" transform="rotate(113 419 554)"/>
<ellipse cx="395" cy="444" rx="25" ry="17" fill="#7868C6" transform="rotate(66 395 444)"/>
<ellipse cx="958" cy="614" rx="24" ry="20" fill="#5646B6" transform="rotate(123 958 614)"/>
<ellipse cx="511" cy="640" rx="20" ry="18" fill="#4636A4" transform="rotate(66 511 640)"/>
<ellipse cx="1753" cy="1183" rx="25" ry="20" fill="#5646B6" transform="rotate(38 1753 1183)"/>
<ellipse cx="1121" cy="301" rx="27" ry="16" fill="#4636A4" transform="rotate(21 1121 301)"/>
<ellipse cx="708" cy="910" rx="27" ry="22" fill="#5646B6" transform="rotate(150 708 910)"/>
<ellipse cx="1068" cy="758" rx="17" ry="11" fill="#5646B6" transform="rotate(112 1068 758)"/>
<ellipse cx="439" cy="811" rx="17" ry="15" fill="#6A58BE" transform="rotate(80 439 811)"/>
<ellipse cx="631" cy="158" rx="21" ry="18" fill="#6A58BE" transform="rotate(19 631 158)"/>
<ellipse cx="1338" cy="200" rx="21" ry="20" fill="#5646B6" transform="rotate(167 1338 200)"/>
<ellipse cx="940" cy="462" rx="25" ry="22" fill="#4636A4" transform="rotate(157 940 462)"/>
<ellipse cx="1091" cy="173" rx="20" ry="12" fill="#6A58BE" transform="rotate(70 1091 173)"/>
<ellipse cx="1104" cy="1062" rx="26" ry="15" fill="#4636A4" transform="rotate(159 1104 1062)"/>
<ellipse cx="1161" cy="178" rx="17" ry="10" fill="#7868C6" transform="rotate(18 1161 178)"/>
<ellipse cx="309" cy="339" rx="24" ry="18" fill="#7868C6" transform="rotate(159 309 339)"/>
<ellipse cx="77" cy="611" rx="28" ry="24" fill="#5646B6" transform="rotate(66 77 611)"/>
<ellipse cx="669" cy="530" rx="16" ry="11" fill="#6A58BE" transform="rotate(75 669 530)"/>
<ellipse cx="710" cy="751" rx="24" ry="23" fill="#4636A4" transform="rotate(145 710 751)"/>
<ellipse cx="1822" cy="927" rx="16" ry="10" fill="#7868C6" transform="rotate(178 1822 927)"/>
<ellipse cx="674" cy="180" rx="18" ry="17" fill="#7868C6" transform="rotate(34 674 180)"/>
<ellipse cx="496" cy="847" rx="16" ry="14" fill="#4636A4" transform="rotate(85 496 847)"/>
<ellipse cx="1177" cy="223" rx="19" ry="17" fill="#4636A4" transform="rotate(146 1177 223)"/>
<ellipse cx="730" cy="284" rx="26" ry="19" fill="#7868C6" transform="rotate(46 730 284)"/>
<ellipse cx="1749" cy="911" rx="25" ry="15" fill="#7868C6" transform="rotate(119 1749 911)"/>
<ellipse cx="110" cy="789" rx="20" ry="14" fill="#4636A4" transform="rotate(67 110 789)"/>
<ellipse cx="506" cy="1353" rx="25" ry="21" fill="#4636A4" transform="rotate(103 506 1353)"/>
<ellipse cx="1849" cy="890" rx="20" ry="16" fill="#7868C6" transform="rotate(72 1849 890)"/>
<ellipse cx="1033" cy="655" rx="19" ry="11" fill="#7868C6" transform="rotate(96 1033 655)"/>
<ellipse cx="1170" cy="1102" rx="23" ry="13" fill="#5646B6" transform="rotate(114 1170 1102)"/>
<ellipse cx="941" cy="199" rx="22" ry="18" fill="#4636A4" transform="rotate(17 941 199)"/>
<ellipse cx="740" cy="814" rx="17" ry="14" fill="#7868C6" transform="rotate(145 740 814)"/>
<ellipse cx="292" cy="1284" rx="21" ry="14" fill="#6A58BE" transform="rotate(6 292 1284)"/>
<ellipse cx="658" cy="139" rx="26" ry="18" fill="#6A58BE" transform="rotate(177 658 139)"/>
<ellipse cx="1147" cy="116" rx="27" ry="18" fill="#7868C6" transform="rotate(36 1147 116)"/>
<ellipse cx="1731" cy="325" rx="20" ry="14" fill="#4636A4" transform="rotate(162 1731 325)"/>
<ellipse cx="1235" cy="319" rx="16" ry="9" fill="#6A58BE" transform="rotate(70 1235 319)"/>
<ellipse cx="1680" cy="1048" rx="24" ry="22" fill="#7868C6" transform="rotate(106 1680 1048)"/>
<ellipse cx="1382" cy="326" rx="18" ry="15" fill="#6A58BE" transform="rotate(95 1382 326)"/>
<ellipse cx="1557" cy="784" rx="22" ry="20" fill="#4636A4" transform="rotate(170 1557 784)"/>
<ellipse cx="472" cy="237" rx="21" ry="12" fill="#5646B6" transform="rotate(135 472 237)"/>
<ellipse cx="1751" cy="62" rx="22" ry="16" fill="#5646B6" transform="rotate(42 1751 62)"/>
<ellipse cx="583" cy="1107" rx="19" ry="14" fill="#4636A4" transform="rotate(38 583 1107)"/>
<ellipse cx="1902" cy="99" rx="25" ry="17" fill="#7868C6" transform="rotate(15 1902 99)"/>
<ellipse cx="386" cy="828" rx="20" ry="16" fill="#5646B6" transform="rotate(132 386 828)"/>
<ellipse cx="595" cy="1207" rx="28" ry="24" fill="#4636A4" transform="rotate(152 595 1207)"/>
<ellipse cx="1511" cy="283" rx="18" ry="13" fill="#6A58BE" transform="rotate(60 1511 283)"/>
<ellipse cx="1180" cy="417" rx="28" ry="16" fill="#7868C6" transform="rotate(46 1180 417)"/>
<ellipse cx="658" cy="901" rx="25" ry="19" fill="#6A58BE" transform="rotate(7 658 901)"/>
<ellipse cx="184" cy="1319" rx="22" ry="19" fill="#4636A4" transform="rotate(159 184 1319)"/>
<ellipse cx="322" cy="486" rx="19" ry="15" fill="#6A58BE" transform="rotate(150 322 486)"/>
<ellipse cx="983" cy="959" rx="20" ry="13" fill="#7868C6" transform="rotate(176 983 959)"/>
<ellipse cx="1285" cy="884" rx="19" ry="14" fill="#4636A4" transform="rotate(10 1285 884)"/>
<ellipse cx="289" cy="1107" rx="17" ry="14" fill="#5646B6"/>
<ellipse cx="500" cy="1295" rx="20" ry="13" fill="#7868C6" transform="rotate(19 500 1295)"/>
<ellipse cx="1880" cy="907" rx="17" ry="15" fill="#7868C6" transform="rotate(118 1880 907)"/>
<ellipse cx="1708" cy="1342" rx="26" ry="24" fill="#4636A4" transform="rotate(97 1708 1342)"/>
<ellipse cx="759" cy="121" rx="18" ry="16" fill="#4636A4" transform="rotate(122 759 121)"/>
<ellipse cx="627" cy="676" rx="24" ry="21" fill="#4636A4" transform="rotate(138 627 676)"/>
<ellipse cx="767" cy="154" rx="20" ry="13" fill="#5646B6" transform="rotate(132 767 154)"/>
<ellipse cx="726" cy="266" rx="20" ry="17" fill="#5646B6" transform="rotate(5 726 266)"/>
<ellipse cx="1189" cy="734" rx="22" ry="13" fill="#4636A4" transform="rotate(79 1189 734)"/>
<ellipse cx="819" cy="720" rx="22" ry="17" fill="#6A58BE" transform="rotate(115 819 720)"/>
<ellipse cx="1298" cy="257" rx="19" ry="16" fill="#7868C6" transform="rotate(34 1298 257)"/>
<ellipse cx="773" cy="1261" rx="19" ry="13" fill="#4636A4" transform="rotate(35 773 1261)"/>
<ellipse cx="454" cy="1014" rx="27" ry="25" fill="#4636A4" transform="rotate(161 454 1014)"/>
<ellipse cx="535" cy="1168" rx="21" ry="16" fill="#6A58BE" transform="rotate(72 535 1168)"/>
<ellipse cx="981" cy="443" rx="20" ry="15" fill="#4636A4" transform="rotate(89 981 443)"/>
<ellipse cx="1297" cy="387" rx="19" ry="14" fill="#4636A4" transform="rotate(122 1297 387)"/>
<ellipse cx="1142" cy="1031" rx="24" ry="13" fill="#7868C6" transform="rotate(30 1142 1031)"/>
<ellipse cx="732" cy="140" rx="16" ry="12" fill="#6A58BE" transform="rotate(120 732 140)"/>
<ellipse cx="1398" cy="1289" rx="15" ry="11" fill="#6A58BE" transform="rotate(144 1398 1289)"/>
<ellipse cx="1733" cy="95" rx="18" ry="10" fill="#5646B6" transform="rotate(158 1733 95)"/>
<ellipse cx="1067" cy="907" rx="16" ry="12" fill="#7868C6" transform="rotate(97 1067 907)"/>
<ellipse cx="1862" cy="589" rx="24" ry="16" fill="#7868C6" transform="rotate(92 1862 589)"/>
<ellipse cx="936" cy="81" rx="19" ry="12" fill="#4636A4" transform="rotate(60 936 81)"/>
<ellipse cx="1484" cy="162" rx="26" ry="22" fill="#6A58BE" transform="rotate(67 1484 162)"/>
<ellipse cx="699" cy="1289" rx="24" ry="20" fill="#4636A4" transform="rotate(49 699 1289)"/>
<ellipse cx="1595" cy="275" rx="21" ry="17" fill="#6A58BE" transform="rotate(106 1595 275)"/>
<ellipse cx="584" cy="1098" rx="18" ry="12" fill="#6A58BE" transform="rotate(45 584 1098)"/>
<ellipse cx="630" cy="1237" rx="24" ry="13" fill="#7868C6" transform="rotate(123 630 1237)"/>
<ellipse cx="148" cy="406" rx="25" ry="18" fill="#6A58BE" transform="rotate(94 148 406)"/>
<ellipse cx="1391" cy="508" rx="25" ry="22" fill="#4636A4" transform="rotate(145 1391 508)"/>
<ellipse cx="1894" cy="947" rx="25" ry="16" fill="#4636A4" transform="rotate(32 1894 947)"/>
<ellipse cx="425" cy="919" rx="23" ry="22" fill="#7868C6" transform="rotate(149 425 919)"/>
<ellipse cx="551" cy="430" rx="24" ry="17" fill="#4636A4" transform="rotate(12 551 430)"/>
<ellipse cx="412" cy="550" rx="25" ry="18" fill="#5646B6" transform="rotate(138 412 550)"/>
<ellipse cx="1654" cy="291" rx="21" ry="19" fill="#6A58BE" transform="rotate(57 1654 291)"/>
<ellipse cx="1889" cy="596" rx="22" ry="19" fill="#4636A4" transform="rotate(113 1889 596)"/>
<ellipse cx="520" cy="734" rx="19" ry="11" fill="#4636A4" transform="rotate(70 520 734)"/>
<ellipse cx="1222" cy="435" rx="21" ry="15" fill="#6A58BE" transform="rotate(143 1222 435)"/>
<ellipse cx="629" cy="161" rx="21" ry="20" fill="#4636A4" transform="rotate(104 629 161)"/>
<ellipse cx="957" cy="631" rx="20" ry="12" fill="#6A58BE" transform="rotate(70 957 631)"/>
<ellipse cx="402" cy="458" rx="25" ry="20" fill="#5646B6" transform="rotate(45 402 458)"/>
<ellipse cx="1315" cy="430" rx="22" ry="13" fill="#7868C6" transform="rotate(2 1315 430)"/>
<ellipse cx="1712" cy="141" rx="25" ry="16" fill="#4636A4" transform="rotate(126 1712 141)"/>
<ellipse cx="1489" cy="1428" rx="27" ry="19" fill="#7868C6" transform="rotate(64 1489 1428)"/>
<ellipse cx="1735" cy="923" rx="17" ry="11" fill="#6A58BE" transform="rotate(129 1735 923)"/>
<ellipse cx="676" cy="1087" rx="25" ry="19" fill="#4636A4" transform="rotate(45 676 1087)"/>
<ellipse cx="700" cy="269" rx="17" ry="10" fill="#7868C6" transform="rotate(128 700 269)"/>
<ellipse cx="1624" cy="1115" rx="17" ry="10" fill="#5646B6" transform="rotate(148 1624 1115)"/>
<ellipse cx="1902" cy="652" rx="18" ry="13" fill="#4636A4" transform="rotate(69 1902 652)"/>
<ellipse cx="67" cy="1071" rx="27" ry="15" fill="#6A58BE" transform="rotate(112 67 1071)"/>
<ellipse cx="1655" cy="930" rx="22" ry="13" fill="#7868C6" transform="rotate(111 1655 930)"/>
<ellipse cx="1297" cy="637" rx="18" ry="14" fill="#5646B6" transform="rotate(131 1297 637)"/>
<ellipse cx="1775" cy="789" rx="19" ry="11" fill="#5646B6" transform="rotate(83 1775 789)"/>
<ellipse cx="1433" cy="489" rx="28" ry="20" fill="#4636A4" transform="rotate(125 1433 489)"/>
<ellipse cx="1531" cy="251" rx="16" ry="11" fill="#6A58BE" transform="rotate(16 1531 251)"/>
<ellipse cx="395" cy="105" rx="22" ry="15" fill="#4636A4" transform="rotate(137 395 105)"/>
<ellipse cx="75" cy="648" rx="28" ry="18" fill="#5646B6" transform="rotate(142 75 648)"/>
<ellipse cx="183" cy="745" rx="26" ry="25" fill="#5646B6" transform="rotate(38 183 745)"/>
<ellipse cx="1571" cy="301" rx="27" ry="25" fill="#4636A4" transform="rotate(73 1571 301)"/>
<ellipse cx="183" cy="1431" rx="23" ry="21" fill="#4636A4" transform="rotate(143 183 1431)"/>
<ellipse cx="1303" cy="653" rx="19" ry="13" fill="#6A58BE" transform="rotate(168 1303 653)"/>
<ellipse cx="1180" cy="1022" rx="17" ry="14" fill="#7868C6" transform="rotate(10 1180 1022)"/>
<ellipse cx="1193" cy="551" rx="28" ry="23" fill="#6A58BE" transform="rotate(79 1193 551)"/>
<ellipse cx="1493" cy="331" rx="18" ry="13" fill="#7868C6" transform="rotate(71 1493 331)"/>
<ellipse cx="698" cy="1034" rx="23" ry="15" fill="#6A58BE" transform="rotate(20 698 1034)"/>
<ellipse cx="1318" cy="687" rx="20" ry="17" fill="#4636A4" transform="rotate(114 1318 687)"/>
<ellipse cx="1145" cy="971" rx="24" ry="13" fill="#4636A4" transform="rotate(3 1145 971)"/>
<ellipse cx="820" cy="237" rx="18" ry="13" fill="#6A58BE" transform="rotate(26 820 237)"/>
<ellipse cx="1073" cy="191" rx="16" ry="11" fill="#6A58BE" transform="rotate(7 1073 191)"/>
<ellipse cx="1405" cy="986" rx="27" ry="25" fill="#5646B6" transform="rotate(171 1405 986)"/>
<ellipse cx="1236" cy="707" rx="21" ry="14" fill="#5646B6" transform="rotate(56 1236 707)"/>
<ellipse cx="1921" cy="145" rx="20" ry="16" fill="#4636A4" transform="rotate(132 1921 145)"/>
<ellipse cx="1217" cy="1088" rx="26" ry="22" fill="#5646B6" transform="rotate(110 1217 1088)"/>
<ellipse cx="928" cy="74" rx="27" ry="25" fill="#5646B6" transform="rotate(27 928 74)"/>
<ellipse cx="707" cy="800" rx="16" ry="14" fill="#6A58BE" transform="rotate(129 707 800)"/>
<ellipse cx="1107" cy="147" rx="24" ry="18" fill="#6A58BE" transform="rotate(75 1107 147)"/>
<ellipse cx="710" cy="395" rx="21" ry="20" fill="#7868C6" transform="rotate(43 710 395)"/>
<ellipse cx="1096" cy="693" rx="16" ry="15" fill="#4636A4" transform="rotate(36 1096 693)"/>
<ellipse cx="1869" cy="785" rx="23" ry="21" fill="#5646B6" transform="rotate(105 1869 785)"/>
<ellipse cx="254" cy="1081" rx="19" ry="15" fill="#7868C6" transform="rotate(28 254 1081)"/>
<ellipse cx="974" cy="1325" rx="25" ry="21" fill="#7868C6" transform="rotate(106 974 1325)"/>
<ellipse cx="610" cy="352" rx="24" ry="17" fill="#7868C6" transform="rotate(52 610 352)"/>
<ellipse cx="788" cy="470" rx="18" ry="13" fill="#7868C6" transform="rotate(122 788 470)"/>
<ellipse cx="770" cy="958" rx="17" ry="11" fill="#5646B6" transform="rotate(41 770 958)"/>
<ellipse cx="1039" cy="816" rx="18" ry="11" fill="#6A58BE" transform="rotate(8 1039 816)"/>
<ellipse cx="638" cy="728" rx="25" ry="18" fill="#5646B6" transform="rotate(95 638 728)"/>
<ellipse cx="811" cy="1401" rx="23" ry="21" fill="#6A58BE" transform="rotate(153 811 1401)"/>
<ellipse cx="1480" cy="130" rx="17" ry="14" fill="#6A58BE" transform="rotate(13 1480 130)"/>
<ellipse cx="1654" cy="350" rx="26" ry="24" fill="#6A58BE" transform="rotate(102 1654 350)"/>
<ellipse cx="217" cy="851" rx="20" ry="13" fill="#6A58BE" transform="rotate(84 217 851)"/>
<ellipse cx="109" cy="261" rx="19" ry="12" fill="#7868C6" transform="rotate(12 109 261)"/>
<ellipse cx="790" cy="169" rx="19" ry="16" fill="#4636A4" transform="rotate(148 790 169)"/>
<ellipse cx="1074" cy="1202" rx="19" ry="15" fill="#5646B6" transform="rotate(44 1074 1202)"/>
<ellipse cx="757" cy="677" rx="17" ry="11" fill="#5646B6" transform="rotate(29 757 677)"/>
<ellipse cx="1843" cy="549" rx="24" ry="20" fill="#7868C6" transform="rotate(79 1843 549)"/>
<ellipse cx="1345" cy="963" rx="26" ry="15" fill="#6A58BE" transform="rotate(137 1345 963)"/>
<ellipse cx="562" cy="621" rx="27" ry="17" fill="#7868C6" transform="rotate(126 562 621)"/>
<ellipse cx="868" cy="1167" rx="21" ry="16" fill="#4636A4" transform="rotate(149 868 1167)"/>
<ellipse cx="656" cy="73" rx="23" ry="16" fill="#7868C6" transform="rotate(115 656 73)"/>
<ellipse cx="664" cy="1026" rx="18" ry="15" fill="#5646B6" transform="rotate(65 664 1026)"/>
<ellipse cx="505" cy="350" rx="16" ry="10" fill="#7868C6" transform="rotate(135 505 350)"/>
<ellipse cx="904" cy="732" rx="25" ry="15" fill="#6A58BE" transform="rotate(128 904 732)"/>
<ellipse cx="1639" cy="101" rx="22" ry="17" fill="#6A58BE" transform="rotate(125 1639 101)"/>
<ellipse cx="1560" cy="188" rx="18" ry="11" fill="#6A58BE" transform="rotate(30 1560 188)"/>
<ellipse cx="354" cy="317" rx="28" ry="19" fill="#6A58BE" transform="rotate(93 354 317)"/>
<ellipse cx="255" cy="552" rx="27" ry="22" fill="#6A58BE" transform="rotate(64 255 552)"/>
<ellipse cx="1101" cy="419" rx="15" ry="13" fill="#4636A4" transform="rotate(99 1101 419)"/>
<ellipse cx="1503" cy="415" rx="27" ry="19" fill="#4636A4" transform="rotate(123 1503 415)"/>
<ellipse cx="898" cy="569" rx="27" ry="21" fill="#6A58BE" transform="rotate(59 898 569)"/>
<ellipse cx="189" cy="820" rx="27" ry="23" fill="#6A58BE"/>
<ellipse cx="239" cy="841" rx="28" ry="19" fill="#4636A4" transform="rotate(15 239 841)"/>
<ellipse cx="1830" cy="980" rx="20" ry="12" fill="#5646B6" transform="rotate(111 1830 980)"/>
<ellipse cx="1037" cy="310" rx="20" ry="15" fill="#4636A4" transform="rotate(26 1037 310)"/>
<ellipse cx="831" cy="730" rx="21" ry="16" fill="#5646B6" transform="rotate(34 831 730)"/>
<ellipse cx="1736" cy="409" rx="19" ry="11" fill="#4636A4" transform="rotate(109 1736 409)"/>
<ellipse cx="1803" cy="80" rx="23" ry="19" fill="#6A58BE" transform="rotate(43 1803 80)"/>
<ellipse cx="1845" cy="86" rx="26" ry="21" fill="#5646B6"/>
<ellipse cx="745" cy="1390" rx="20" ry="13" fill="#6A58BE" transform="rotate(85 745 1390)"/>
<ellipse cx="502" cy="119" rx="24" ry="19" fill="#6A58BE" transform="rotate(116 502 119)"/>
<ellipse cx="463" cy="1335" rx="24" ry="19" fill="#6A58BE" transform="rotate(146 463 1335)"/>
<ellipse cx="1694" cy="310" rx="19" ry="13" fill="#4636A4" transform="rotate(172 1694 310)"/>
<ellipse cx="113" cy="398" rx="24" ry="18" fill="#7868C6" transform="rotate(55 113 398)"/>
<ellipse cx="132" cy="830" rx="24" ry="14" fill="#5646B6" transform="rotate(99 132 830)"/>
<ellipse cx="1925" cy="637" rx="18" ry="17" fill="#4636A4" transform="rotate(97 1925 637)"/>
<ellipse cx="845" cy="273" rx="17" ry="13" fill="#4636A4" transform="rotate(81 845 273)"/>
<ellipse cx="690" cy="1351" rx="24" ry="23" fill="#4636A4" transform="rotate(60 690 1351)"/>
<ellipse cx="1412" cy="1377" rx="20" ry="12" fill="#6A58BE" transform="rotate(37 1412 1377)"/>
<ellipse cx="1810" cy="152" rx="20" ry="11" fill="#6A58BE" transform="rotate(82 1810 152)"/>
<ellipse cx="1037" cy="1374" rx="18" ry="10" fill="#6A58BE" transform="rotate(173 1037 1374)"/>
<ellipse cx="994" cy="276" rx="22" ry="15" fill="#7868C6" transform="rotate(89 994 276)"/>
<ellipse cx="94" cy="1117" rx="16" ry="10" fill="#4636A4" transform="rotate(102 94 1117)"/>
<ellipse cx="1430" cy="347" rx="18" ry="16" fill="#7868C6" transform="rotate(156 1430 347)"/>
<ellipse cx="1273" cy="701" rx="15" ry="10" fill="#5646B6" transform="rotate(86 1273 701)"/>
<ellipse cx="537" cy="916" rx="21" ry="17" fill="#6A58BE" transform="rotate(42 537 916)"/>
<ellipse cx="717" cy="1286" rx="20" ry="16" fill="#7868C6" transform="rotate(65 717 1286)"/>
<ellipse cx="672" cy="1328" rx="27" ry="24" fill="#4636A4" transform="rotate(119 672 1328)"/>
<ellipse cx="1003" cy="1426" rx="17" ry="14" fill="#4636A4" transform="rotate(142 1003 1426)"/>
<ellipse cx="1143" cy="272" rx="19" ry="11" fill="#5646B6" transform="rotate(88 1143 272)"/>
<ellipse cx="948" cy="208" rx="25" ry="21" fill="#5646B6" transform="rotate(169 948 208)"/>
<ellipse cx="980" cy="428" rx="23" ry="17" fill="#5646B6" transform="rotate(81 980 428)"/>
<ellipse cx="982" cy="725" rx="28" ry="18" fill="#7868C6" transform="rotate(12 982 725)"/>
<ellipse cx="207" cy="1169" rx="26" ry="22" fill="#6A58BE" transform="rotate(49 207 1169)"/>
<ellipse cx="1743" cy="756" rx="22" ry="21" fill="#7868C6" transform="rotate(123 1743 756)"/>
<ellipse cx="332" cy="493" rx="22" ry="20" fill="#4636A4" transform="rotate(176 332 493)"/>
<ellipse cx="379" cy="1189" rx="18" ry="17" fill="#5646B6" transform="rotate(131 379 1189)"/>
<ellipse cx="1283" cy="709" rx="24" ry="17" fill="#5646B6" transform="rotate(170 1283 709)"/>
<ellipse cx="780" cy="407" rx="25" ry="16" fill="#4636A4" transform="rotate(171 780 407)"/>
<ellipse cx="1819" cy="944" rx="20" ry="14" fill="#5646B6" transform="rotate(41 1819 944)"/>
<ellipse cx="986" cy="1419" rx="23" ry="14" fill="#4636A4" transform="rotate(132 986 1419)"/>
<ellipse cx="858" cy="704" rx="15" ry="10" fill="#5646B6" transform="rotate(84 858 704)"/>
<ellipse cx="664" cy="128" rx="22" ry="17" fill="#6A58BE" transform="rotate(118 664 128)"/>
<ellipse cx="1501" cy="517" rx="22" ry="16" fill="#5646B6" transform="rotate(24 1501 517)"/>
<ellipse cx="1667" cy="799" rx="25" ry="16" fill="#4636A4" transform="rotate(148 1667 799)"/>
<ellipse cx="732" cy="658" rx="19" ry="18" fill="#6A58BE" transform="rotate(134 732 658)"/>
<ellipse cx="1768" cy="162" rx="21" ry="15" fill="#6A58BE" transform="rotate(150 1768 162)"/>
<ellipse cx="1064" cy="1444" rx="17" ry="15" fill="#5646B6" transform="rotate(157 1064 1444)"/>
<ellipse cx="330" cy="822" rx="24" ry="20" fill="#6A58BE" transform="rotate(68 330 822)"/>
<ellipse cx="905" cy="656" rx="21" ry="20" fill="#5646B6" transform="rotate(140 905 656)"/>
<ellipse cx="181" cy="428" rx="21" ry="12" fill="#7868C6" transform="rotate(127 181 428)"/>
<ellipse cx="1124" cy="1091" rx="23" ry="19" fill="#7868C6" transform="rotate(11 1124 1091)"/>
<ellipse cx="211" cy="839" rx="22" ry="16" fill="#7868C6" transform="rotate(18 211 839)"/>
<ellipse cx="1246" cy="521" rx="26" ry="22" fill="#7868C6" transform="rotate(102 1246 521)"/>
<ellipse cx="1681" cy="319" rx="16" ry="11" fill="#4636A4" transform="rotate(93 1681 319)"/>
<ellipse cx="1292" cy="338" rx="18" ry="10" fill="#6A58BE" transform="rotate(159 1292 338)"/>
<ellipse cx="1498" cy="687" rx="26" ry="19" fill="#7868C6" transform="rotate(173 1498 687)"/>
<ellipse cx="1279" cy="986" rx="23" ry="15" fill="#5646B6" transform="rotate(138 1279 986)"/>
<ellipse cx="1149" cy="1067" rx="20" ry="18" fill="#6A58BE" transform="rotate(109 1149 1067)"/>
<ellipse cx="535" cy="908" rx="20" ry="19" fill="#4636A4" transform="rotate(111 535 908)"/>
<ellipse cx="1135" cy="403" rx="22" ry="17" fill="#5646B6" transform="rotate(34 1135 403)"/>
<ellipse cx="1003" cy="82" rx="19" ry="18" fill="#6A58BE" transform="rotate(42 1003 82)"/>
<ellipse cx="1317" cy="189" rx="21" ry="16" fill="#7868C6" transform="rotate(145 1317 189)"/>
<ellipse cx="90" cy="457" rx="16" ry="9" fill="#4636A4" transform="rotate(176 90 457)"/>
<ellipse cx="730" cy="354" rx="17" ry="13" fill="#5646B6" transform="rotate(138 730 354)"/>
<ellipse cx="751" cy="970" rx="19" ry="17" fill="#4636A4" transform="rotate(52 751 970)"/>
<ellipse cx="382" cy="216" rx="25" ry="21" fill="#6A58BE" transform="rotate(5 382 216)"/>
<ellipse cx="966" cy="1023" rx="26" ry="23" fill="#4636A4" transform="rotate(159 966 1023)"/>
<ellipse cx="1368" cy="1028" rx="26" ry="17" fill="#7868C6" transform="rotate(179 1368 1028)"/>
<ellipse cx="637" cy="669" rx="22" ry="18" fill="#6A58BE" transform="rotate(57 637 669)"/>
<ellipse cx="1078" cy="892" rx="23" ry="22" fill="#7868C6" transform="rotate(110 1078 892)"/>
<ellipse cx="1482" cy="712" rx="20" ry="17" fill="#6A58BE" transform="rotate(57 1482 712)"/>
<ellipse cx="947" cy="135" rx="24" ry="21" fill="#5646B6" transform="rotate(174 947 135)"/>
<ellipse cx="1068" cy="866" rx="16" ry="11" fill="#7868C6" transform="rotate(153 1068 866)"/>
<ellipse cx="1049" cy="592" rx="20" ry="19" fill="#4636A4" transform="rotate(141 1049 592)"/>
<ellipse cx="560" cy="983" rx="19" ry="14" fill="#6A58BE" transform="rotate(56 560 983)"/>
<ellipse cx="1102" cy="549" rx="18" ry="12" fill="#6A58BE" transform="rotate(3 1102 549)"/>
<ellipse cx="78" cy="485" rx="18" ry="11" fill="#5646B6" transform="rotate(120 78 485)"/>
<ellipse cx="1320" cy="317" rx="26" ry="24" fill="#7868C6" transform="rotate(177 1320 317)"/>
<ellipse cx="1396" cy="393" rx="20" ry="13" fill="#7868C6" transform="rotate(135 1396 393)"/>
<ellipse cx="1634" cy="450" rx="20" ry="16" fill="#5646B6" transform="rotate(158 1634 450)"/>
<ellipse cx="904" cy="780" rx="27" ry="21" fill="#7868C6" transform="rotate(177 904 780)"/>
<ellipse cx="745" cy="1370" rx="22" ry="14" fill="#4636A4" transform="rotate(19 745 1370)"/>
<ellipse cx="254" cy="798" rx="21" ry="16" fill="#5646B6" transform="rotate(74 254 798)"/>
<ellipse cx="1018" cy="1435" rx="28" ry="16" fill="#4636A4" transform="rotate(99 1018 1435)"/>
<ellipse cx="1074" cy="130" rx="16" ry="13" fill="#4636A4" transform="rotate(172 1074 130)"/>
<ellipse cx="985" cy="1358" rx="26" ry="24" fill="#5646B6" transform="rotate(3 985 1358)"/>
<ellipse cx="461" cy="969" rx="16" ry="14" fill="#6A58BE" transform="rotate(45 461 969)"/>
<ellipse cx="1846" cy="832" rx="23" ry="15" fill="#4636A4" transform="rotate(42 1846 832)"/>
<ellipse cx="312" cy="334" rx="17" ry="13" fill="#6A58BE" transform="rotate(66 312 334)"/>
<ellipse cx="1673" cy="476" rx="24" ry="17" fill="#4636A4" transform="rotate(106 1673 476)"/>
<ellipse cx="977" cy="1404" rx="19" ry="17" fill="#5646B6" transform="rotate(16 977 1404)"/>
<ellipse cx="520" cy="1022" rx="27" ry="22" fill="#5646B6" transform="rotate(162 520 1022)"/>
<ellipse cx="1305" cy="928" rx="24" ry="18" fill="#5646B6" transform="rotate(105 1305 928)"/>
<ellipse cx="972" cy="588" rx="16" ry="9" fill="#6A58BE" transform="rotate(142 972 588)"/>
<ellipse cx="667" cy="259" rx="27" ry="17" fill="#5646B6" transform="rotate(127 667 259)"/>
<ellipse cx="1283" cy="951" rx="21" ry="15" fill="#5646B6" transform="rotate(19 1283 951)"/>
<ellipse cx="1067" cy="1393" rx="20" ry="13" fill="#7868C6" transform="rotate(158 1067 1393)"/>
<ellipse cx="753" cy="280" rx="26" ry="18" fill="#5646B6" transform="rotate(37 753 280)"/>
<ellipse cx="501" cy="955" rx="24" ry="15" fill="#6A58BE" transform="rotate(154 501 955)"/>
<ellipse cx="480" cy="303" rx="21" ry="12" fill="#4636A4" transform="rotate(18 480 303)"/>
<ellipse cx="365" cy="800" rx="17" ry="13" fill="#5646B6" transform="rotate(99 365 800)"/>
<ellipse cx="592" cy="451" rx="17" ry="15" fill="#6A58BE" transform="rotate(27 592 451)"/>
<ellipse cx="1753" cy="109" rx="19" ry="16" fill="#5646B6" transform="rotate(179 1753 109)"/>
<ellipse cx="1425" cy="949" rx="26" ry="18" fill="#6A58BE" transform="rotate(28 1425 949)"/>
<ellipse cx="1094" cy="221" rx="24" ry="19" fill="#6A58BE" transform="rotate(59 1094 221)"/>
<ellipse cx="318" cy="616" rx="17" ry="14" fill="#5646B6" transform="rotate(111 318 616)"/>
<ellipse cx="1187" cy="319" rx="26" ry="25" fill="#6A58BE" transform="rotate(47 1187 319)"/>
<ellipse cx="734" cy="1020" rx="26" ry="16" fill="#6A58BE"/>
<ellipse cx="264" cy="1012" rx="23" ry="17" fill="#5646B6" transform="rotate(16 264 1012)"/>
<ellipse cx="382" cy="698" rx="24" ry="16" fill="#7868C6" transform="rotate(61 382 698)"/>
<ellipse cx="635" cy="1087" rx="24" ry="15" fill="#4636A4" transform="rotate(32 635 1087)"/>
<ellipse cx="1205" cy="278" rx="20" ry="13" fill="#4636A4" transform="rotate(146 1205 278)"/>
<ellipse cx="1312" cy="553" rx="20" ry="18" fill="#4636A4" transform="rotate(117 1312 553)"/>
<ellipse cx="1318" cy="410" rx="21" ry="19" fill="#5646B6" transform="rotate(14 1318 410)"/>
<ellipse cx="1252" cy="88" rx="15" ry="9" fill="#5646B6" transform="rotate(41 1252 88)"/>
<ellipse cx="1046" cy="231" rx="26" ry="18" fill="#5646B6" transform="rotate(95 1046 231)"/>
<ellipse cx="1319" cy="1413" rx="25" ry="20" fill="#7868C6" transform="rotate(54 1319 1413)"/>
<ellipse cx="68" cy="717" rx="23" ry="17" fill="#6A58BE" transform="rotate(15 68 717)"/>
<ellipse cx="1060" cy="554" rx="16" ry="15" fill="#6A58BE" transform="rotate(18 1060 554)"/>
<ellipse cx="789" cy="1337" rx="20" ry="15" fill="#6A58BE" transform="rotate(20 789 1337)"/>
<ellipse cx="1924" cy="117" rx="16" ry="13" fill="#4636A4" transform="rotate(113 1924 117)"/>
<ellipse cx="328" cy="643" rx="25" ry="18" fill="#6A58BE" transform="rotate(79 328 643)"/>
<ellipse cx="738" cy="1292" rx="15" ry="14" fill="#7868C6" transform="rotate(36 738 1292)"/>
<ellipse cx="1454" cy="142" rx="18" ry="13" fill="#5646B6" transform="rotate(72 1454 142)"/>
<ellipse cx="1512" cy="204" rx="23" ry="17" fill="#4636A4" transform="rotate(11 1512 204)"/>
<ellipse cx="1758" cy="301" rx="19" ry="14" fill="#5646B6" transform="rotate(107 1758 301)"/>
<ellipse cx="1540" cy="109" rx="17" ry="13" fill="#6A58BE" transform="rotate(63 1540 109)"/>
<ellipse cx="1165" cy="419" rx="24" ry="21" fill="#4636A4" transform="rotate(118 1165 419)"/>
<ellipse cx="166" cy="763" rx="18" ry="13" fill="#7868C6" transform="rotate(93 166 763)"/>
<ellipse cx="420" cy="160" rx="23" ry="15" fill="#5646B6" transform="rotate(179 420 160)"/>
<ellipse cx="859" cy="382" rx="27" ry="23" fill="#5646B6" transform="rotate(165 859 382)"/>
<ellipse cx="518" cy="702" rx="18" ry="15" fill="#4636A4" transform="rotate(73 518 702)"/>
<ellipse cx="773" cy="949" rx="19" ry="11" fill="#4636A4" transform="rotate(77 773 949)"/>
<ellipse cx="1158" cy="940" rx="28" ry="21" fill="#5646B6" transform="rotate(136 1158 940)"/>
<ellipse cx="526" cy="1112" rx="26" ry="18" fill="#7868C6" transform="rotate(51 526 1112)"/>
<ellipse cx="621" cy="722" rx="22" ry="19" fill="#7868C6" transform="rotate(49 621 722)"/>
<ellipse cx="70" cy="637" rx="25" ry="19" fill="#4636A4" transform="rotate(116 70 637)"/>
<ellipse cx="925" cy="733" rx="22" ry="16" fill="#6A58BE" transform="rotate(34 925 733)"/>
<ellipse cx="1126" cy="228" rx="16" ry="12" fill="#5646B6" transform="rotate(128 1126 228)"/>
<ellipse cx="222" cy="625" rx="28" ry="22" fill="#6A58BE" transform="rotate(20 222 625)"/>
<ellipse cx="1471" cy="953" rx="25" ry="21" fill="#4636A4" transform="rotate(132 1471 953)"/>
<ellipse cx="1043" cy="629" rx="24" ry="20" fill="#7868C6" transform="rotate(23 1043 629)"/>
<ellipse cx="1854" cy="1138" rx="17" ry="10" fill="#6A58BE" transform="rotate(160 1854 1138)"/>
<ellipse cx="1510" cy="515" rx="25" ry="14" fill="#7868C6" transform="rotate(23 1510 515)"/>
<ellipse cx="1746" cy="347" rx="23" ry="19" fill="#4636A4" transform="rotate(105 1746 347)"/>
<ellipse cx="664" cy="965" rx="16" ry="9" fill="#7868C6" transform="rotate(27 664 965)"/>
<ellipse cx="1076" cy="885" rx="22" ry="16" fill="#4636A4" transform="rotate(166 1076 885)"/>
<ellipse cx="761" cy="274" rx="28" ry="17" fill="#7868C6" transform="rotate(149 761 274)"/>
<ellipse cx="440" cy="220" rx="18" ry="16" fill="#5646B6" transform="rotate(121 440 220)"/>
<ellipse cx="1630" cy="1320" rx="19" ry="17" fill="#6A58BE" transform="rotate(111 1630 1320)"/>
<ellipse cx="1850" cy="90" rx="25" ry="19" fill="#6A58BE" transform="rotate(145 1850 90)"/>
<ellipse cx="1358" cy="267" rx="22" ry="21" fill="#5646B6" transform="rotate(108 1358 267)"/>
<ellipse cx="1303" cy="365" rx="16" ry="10" fill="#5646B6" transform="rotate(79 1303 365)"/>
<ellipse cx="1522" cy="134" rx="23" ry="16" fill="#4636A4" transform="rotate(26 1522 134)"/>
<ellipse cx="688" cy="672" rx="17" ry="15" fill="#5646B6" transform="rotate(51 688 672)"/>
<ellipse cx="1431" cy="475" rx="20" ry="14" fill="#6A58BE" transform="rotate(16 1431 475)"/>
<ellipse cx="1809" cy="291" rx="18" ry="15" fill="#5646B6" transform="rotate(117 1809 291)"/>
<ellipse cx="616" cy="669" rx="24" ry="15" fill="#7868C6" transform="rotate(130 616 669)"/>
<ellipse cx="806" cy="887" rx="21" ry="18" fill="#6A58BE" transform="rotate(105 806 887)"/>
<ellipse cx="556" cy="460" rx="22" ry="15" fill="#7868C6" transform="rotate(172 556 460)"/>
<ellipse cx="222" cy="921" rx="25" ry="15" fill="#4636A4" transform="rotate(7 222 921)"/>
<ellipse cx="353" cy="637" rx="26" ry="21" fill="#5646B6" transform="rotate(88 353 637)"/>
<ellipse cx="773" cy="428" rx="28" ry="23" fill="#4636A4" transform="rotate(172 773 428)"/>
<ellipse cx="1173" cy="237" rx="23" ry="20" fill="#6A58BE" transform="rotate(36 1173 237)"/>
<ellipse cx="1731" cy="1113" rx="23" ry="20" fill="#7868C6" transform="rotate(1 1731 1113)"/>
<ellipse cx="664" cy="1300" rx="24" ry="21" fill="#5646B6" transform="rotate(104 664 1300)"/>
<ellipse cx="1803" cy="789" rx="21" ry="15" fill="#5646B6" transform="rotate(148 1803 789)"/>
<ellipse cx="1710" cy="1357" rx="21" ry="14" fill="#5646B6" transform="rotate(46 1710 1357)"/>
<ellipse cx="674" cy="625" rx="21" ry="16" fill="#5646B6" transform="rotate(135 674 625)"/>
<ellipse cx="1255" cy="898" rx="28" ry="19" fill="#5646B6" transform="rotate(33 1255 898)"/>
<ellipse cx="1626" cy="110" rx="18" ry="16" fill="#6A58BE" transform="rotate(140 1626 110)"/>
<ellipse cx="1488" cy="763" rx="22" ry="18" fill="#6A58BE" transform="rotate(163 1488 763)"/>
<ellipse cx="374" cy="1091" rx="15" ry="13" fill="#7868C6" transform="rotate(167 374 1091)"/>
<ellipse cx="1589" cy="843" rx="25" ry="22" fill="#5646B6" transform="rotate(11 1589 843)"/>
<ellipse cx="137" cy="869" rx="26" ry="16" fill="#6A58BE" transform="rotate(177 137 869)"/>
<ellipse cx="865" cy="134" rx="25" ry="17" fill="#7868C6" transform="rotate(118 865 134)"/>
<ellipse cx="1818" cy="261" rx="26" ry="21" fill="#4636A4"/>
<ellipse cx="1157" cy="239" rx="24" ry="20" fill="#4636A4" transform="rotate(78 1157 239)"/>
<ellipse cx="1200" cy="547" rx="16" ry="13" fill="#5646B6" transform="rotate(174 1200 547)"/>
<ellipse cx="1079" cy="125" rx="21" ry="12" fill="#7868C6" transform="rotate(117 1079 125)"/>
<ellipse cx="1506" cy="891" rx="17" ry="15" fill="#6A58BE" transform="rotate(93 1506 891)"/>
<ellipse cx="165" cy="952" rx="21" ry="16" fill="#4636A4" transform="rotate(8 165 952)"/>
<ellipse cx="1498" cy="1435" rx="27" ry="19" fill="#5646B6" transform="rotate(141 1498 1435)"/>
<ellipse cx="660" cy="542" rx="20" ry="13" fill="#5646B6" transform="rotate(147 660 542)"/>
<ellipse cx="621" cy="603" rx="23" ry="16" fill="#5646B6" transform="rotate(86 621 603)"/>
<ellipse cx="1215" cy="1006" rx="19" ry="13" fill="#6A58BE" transform="rotate(106 1215 1006)"/>
<ellipse cx="1729" cy="459" rx="22" ry="14" fill="#6A58BE" transform="rotate(16 1729 459)"/>
<ellipse cx="298" cy="486" rx="20" ry="13" fill="#5646B6" transform="rotate(136 298 486)"/>
<ellipse cx="1503" cy="272" rx="23" ry="18" fill="#4636A4" transform="rotate(98 1503 272)"/>
<ellipse cx="1866" cy="764" rx="28" ry="20" fill="#5646B6" transform="rotate(171 1866 764)"/>
<ellipse cx="91" cy="185" rx="21" ry="15" fill="#4636A4" transform="rotate(64 91 185)"/>
<ellipse cx="1569" cy="725" rx="24" ry="15" fill="#5646B6" transform="rotate(33 1569 725)"/>
<ellipse cx="980" cy="675" rx="24" ry="14" fill="#5646B6" transform="rotate(119 980 675)"/>
<ellipse cx="1321" cy="215" rx="24" ry="16" fill="#4636A4" transform="rotate(105 1321 215)"/>
<ellipse cx="1340" cy="461" rx="20" ry="13" fill="#5646B6" transform="rotate(25 1340 461)"/>
<ellipse cx="1154" cy="139" rx="16" ry="12" fill="#7868C6" transform="rotate(75 1154 139)"/>
<ellipse cx="558" cy="170" rx="26" ry="16" fill="#7868C6" transform="rotate(105 558 170)"/>
<ellipse cx="739" cy="1380" rx="26" ry="20" fill="#5646B6" transform="rotate(118 739 1380)"/>
<ellipse cx="142" cy="1032" rx="24" ry="21" fill="#4636A4" transform="rotate(62 142 1032)"/>
<ellipse cx="603" cy="755" rx="16" ry="10" fill="#7868C6" transform="rotate(13 603 755)"/>
<ellipse cx="368" cy="1005" rx="27" ry="24" fill="#6A58BE" transform="rotate(11 368 1005)"/>
<ellipse cx="430" cy="657" rx="24" ry="14" fill="#6A58BE" transform="rotate(14 430 657)"/>
<ellipse cx="874" cy="226" rx="26" ry="17" fill="#7868C6" transform="rotate(137 874 226)"/>
<ellipse cx="501" cy="679" rx="21" ry="20" fill="#5646B6" transform="rotate(123 501 679)"/>
<ellipse cx="1644" cy="364" rx="22" ry="15" fill="#5646B6" transform="rotate(135 1644 364)"/>
<ellipse cx="440" cy="58" rx="16" ry="14" fill="#7868C6" transform="rotate(106 440 58)"/>
<ellipse cx="820" cy="250" rx="14" ry="8" fill="#E0409A" transform="rotate(159 820 250)"/>
<ellipse cx="1700" cy="150" rx="14" ry="8" fill="#E0409A" transform="rotate(65 1700 150)"/>
<ellipse cx="1790" cy="120" rx="14" ry="8" fill="#E0409A" transform="rotate(91 1790 120)"/>
<ellipse cx="1350" cy="290" rx="14" ry="8" fill="#E0409A" transform="rotate(176 1350 290)"/>
<ellipse cx="1160" cy="490" rx="14" ry="8" fill="#E0409A" transform="rotate(166 1160 490)"/>
<ellipse cx="1090" cy="800" rx="14" ry="8" fill="#E0409A" transform="rotate(135 1090 800)"/>
<ellipse cx="1180" cy="830" rx="14" ry="8" fill="#E0409A" transform="rotate(7 1180 830)"/>
<ellipse cx="1330" cy="780" rx="14" ry="8" fill="#E0409A" transform="rotate(119 1330 780)"/>
<ellipse cx="1400" cy="800" rx="14" ry="8" fill="#E0409A" transform="rotate(63 1400 800)"/>
<ellipse cx="1560" cy="690" rx="14" ry="8" fill="#E0409A" transform="rotate(166 1560 690)"/>
<ellipse cx="1600" cy="700" rx="14" ry="8" fill="#E0409A" transform="rotate(13 1600 700)"/>
<ellipse cx="780" cy="1010" rx="14" ry="8" fill="#E0409A" transform="rotate(40 780 1010)"/>
<ellipse cx="870" cy="960" rx="14" ry="8" fill="#E0409A" transform="rotate(28 870 960)"/>
<ellipse cx="640" cy="1170" rx="14" ry="8" fill="#E0409A" transform="rotate(95 640 1170)"/>
<ellipse cx="700" cy="1200" rx="14" ry="8" fill="#E0409A" transform="rotate(120 700 1200)"/>
<ellipse cx="960" cy="1290" rx="14" ry="8" fill="#E0409A" transform="rotate(63 960 1290)"/>
<ellipse cx="940" cy="1240" rx="14" ry="8" fill="#E0409A" transform="rotate(97 940 1240)"/>
<ellipse cx="1770" cy="1130" rx="14" ry="8" fill="#E0409A" transform="rotate(139 1770 1130)"/>
<ellipse cx="1800" cy="1100" rx="14" ry="8" fill="#E0409A" transform="rotate(26 1800 1100)"/>
<ellipse cx="160" cy="485" rx="14" ry="8" fill="#E0409A" transform="rotate(146 160 485)"/>
<ellipse cx="470" cy="890" rx="14" ry="8" fill="#E0409A" transform="rotate(63 470 890)"/>
<ellipse cx="1330" cy="1085" rx="14" ry="8" fill="#E0409A" transform="rotate(3 1330 1085)"/>
</g>
<rect x="560.4" y="1084.6" width="249.2" height="184.4" filter="url(#nz)" opacity="0.35"/>
</g>
<rect x="561.5" y="1085.7" width="247" height="182.2" fill="none" stroke="#000" stroke-width="2.3"/>
<clipPath id="hc3"><rect x="819.1" y="1085.6" width="247.2" height="182.4"/></clipPath>
<g clip-path="url(#hc3)">
<rect x="818.1" y="1084.6" width="249.2" height="184.4" fill="#F682E0"/>
<g transform="translate(814,1080) scale(0.13026)">
<path d="M880,830 C896.7,791.7 971.7,771.7 1000,775 C1028.3,778.3 1048,810.8 1050,850 C1052,889.2 1037,984.2 1012,1010 C987,1035.8 922,1035 900,1005 C878,975 863.3,868.3 880,830Z" fill="#FA6CD4"/>
<path d="M1780,200 C1809.2,169.2 1900.8,125 1925,165 C1949.2,205 1945.8,380.8 1925,440 C1904.2,499.2 1829.2,535 1800,520 C1770.8,505 1753.3,403.3 1750,350 C1746.7,296.7 1750.8,230.8 1780,200Z" fill="#FA74D8"/>
<path d="M860,320 C876.7,276.7 961.7,281.7 1000,300 C1038.3,318.3 1090,380 1090,430 C1090,480 1031.7,578.3 1000,600 C968.3,621.7 923.3,606.7 900,560 C876.7,513.3 843.3,363.3 860,320Z" fill="#F87CDC"/>
<path d="M1050,500 C1071.7,471.7 1138.3,443.3 1180,480 C1221.7,516.7 1305,661.7 1300,720 C1295,778.3 1191.7,841.7 1150,830 C1108.3,818.3 1066.7,705 1050,650 C1033.3,595 1028.3,528.3 1050,500Z" fill="#FCA2F6"/>
<path d="M50,250 C63.3,256.7 120,248.3 130,290 C140,331.7 123.3,458.3 110,500 C96.7,541.7 60,533.3 50,540" fill="none" stroke="#FFC6F9" stroke-width="8" stroke-linecap="round" stroke-linejoin="round"/>
<path d="M130,290 C183.3,285 381.7,241.7 450,260 C518.3,278.3 521.7,356.7 540,400 C558.3,443.3 583.3,488.3 560,520 C536.7,551.7 436.7,570 400,590 C363.3,610 388.3,655 340,640 C291.7,625 148.3,523.3 110,500" fill="none" stroke="#FFC6F9" stroke-width="8" stroke-linecap="round" stroke-linejoin="round"/>
<path d="M540,400 C570,373.3 671.7,258.3 720,240 C768.3,221.7 808.3,250 830,290 C851.7,330 831.7,413.3 850,480 C868.3,546.7 925,655 940,690" fill="none" stroke="#FFC6F9" stroke-width="8" stroke-linecap="round" stroke-linejoin="round"/>
<path d="M720,240 L700,60" fill="none" stroke="#FFC6F9" stroke-width="8" stroke-linecap="round" stroke-linejoin="round"/>
<path d="M830,290 C858.3,286.7 961.7,308.3 1000,270 C1038.3,231.7 1050,95 1060,60" fill="none" stroke="#FFC6F9" stroke-width="8" stroke-linecap="round" stroke-linejoin="round"/>
<path d="M560,520 L850,560" fill="none" stroke="#FFC6F9" stroke-width="8" stroke-linecap="round" stroke-linejoin="round"/>
<path d="M340,640 C346.7,666.7 381.7,748.3 380,800 C378.3,851.7 368.3,925 330,950 C291.7,975 196.7,961.7 150,950 C103.3,938.3 66.7,891.7 50,880" fill="none" stroke="#FFC6F9" stroke-width="8" stroke-linecap="round" stroke-linejoin="round"/>
<path d="M380,800 C423.3,816.7 561.7,883.3 640,900 C718.3,916.7 815,900 850,900" fill="none" stroke="#FFC6F9" stroke-width="8" stroke-linecap="round" stroke-linejoin="round"/>
<path d="M330,950 C346.7,975 411.7,1041.7 430,1100 C448.3,1158.3 456.7,1253.3 440,1300 C423.3,1346.7 348.3,1366.7 330,1380" fill="none" stroke="#FFC6F9" stroke-width="8" stroke-linecap="round" stroke-linejoin="round"/>
<path d="M430,1100 C478.3,1106.7 625,1125 720,1140 C815,1155 953.3,1181.7 1000,1190" fill="none" stroke="#FFC6F9" stroke-width="8" stroke-linecap="round" stroke-linejoin="round"/>
<path d="M720,1140 C708.3,1166.7 676.7,1250 650,1300 C623.3,1350 575,1416.7 560,1440" fill="none" stroke="#FFC6F9" stroke-width="8" stroke-linecap="round" stroke-linejoin="round"/>
<path d="M1000,1190 C1005,1171.7 1028.3,1110 1030,1080 C1031.7,1050 1013.3,1021.7 1010,1010" fill="none" stroke="#FFC6F9" stroke-width="8" stroke-linecap="round" stroke-linejoin="round"/>
<path d="M1000,1190 C1013.3,1208.3 1055,1271.7 1080,1300 C1105,1328.3 1113.3,1363.3 1150,1360 C1186.7,1356.7 1271.7,1323.3 1300,1280 C1328.3,1236.7 1323.3,1150 1320,1100 C1316.7,1050 1286.7,1000 1280,980" fill="none" stroke="#FFC6F9" stroke-width="8" stroke-linecap="round" stroke-linejoin="round"/>
<path d="M1090,430 C1116.7,453.3 1185,541.7 1250,570 C1315,598.3 1405,598.3 1480,600 C1555,601.7 1663.3,583.3 1700,580" fill="none" stroke="#FFC6F9" stroke-width="8" stroke-linecap="round" stroke-linejoin="round"/>
<path d="M1700,580 C1705,550 1730,455 1730,400 C1730,345 1701.7,306.7 1700,250 C1698.3,193.3 1716.7,91.7 1720,60" fill="none" stroke="#FFC6F9" stroke-width="8" stroke-linecap="round" stroke-linejoin="round"/>
<path d="M1480,600 C1490,646.7 1570,813.3 1540,880 C1510,946.7 1340,980 1300,1000" fill="none" stroke="#FFC6F9" stroke-width="8" stroke-linecap="round" stroke-linejoin="round"/>
<path d="M1540,880 L1800,780" fill="none" stroke="#FFC6F9" stroke-width="8" stroke-linecap="round" stroke-linejoin="round"/>
<path d="M1700,580 L1810,760" fill="none" stroke="#FFC6F9" stroke-width="8" stroke-linecap="round" stroke-linejoin="round"/>
<path d="M150,950 C146.7,991.7 146.7,1153.3 130,1200 C113.3,1246.7 63.3,1225 50,1230" fill="none" stroke="#FFC6F9" stroke-width="8" stroke-linecap="round" stroke-linejoin="round"/>
<path d="M130,1200 L330,1380" fill="none" stroke="#FFC6F9" stroke-width="8" stroke-linecap="round" stroke-linejoin="round"/>
<path d="M1320,1100 C1366.7,1108.3 1511.7,1125 1600,1150 C1688.3,1175 1808.3,1233.3 1850,1250" fill="none" stroke="#FFC6F9" stroke-width="8" stroke-linecap="round" stroke-linejoin="round"/>
<path d="M1150,1360 L1170,1440" fill="none" stroke="#FFC6F9" stroke-width="8" stroke-linecap="round" stroke-linejoin="round"/>
<path d="M1380,1440 C1383.3,1416.7 1363.3,1348.3 1400,1300 C1436.7,1251.7 1566.7,1175 1600,1150" fill="none" stroke="#FFC6F9" stroke-width="8" stroke-linecap="round" stroke-linejoin="round"/>
<ellipse cx="380" cy="150" rx="22" ry="17" fill="#7462C8" transform="rotate(97 380 150)"/>
<ellipse cx="380" cy="150" rx="8" ry="6" fill="#C8A0EA"/>
<ellipse cx="565" cy="195" rx="22" ry="17" fill="#7462C8" transform="rotate(85 565 195)"/>
<ellipse cx="565" cy="195" rx="8" ry="6" fill="#C8A0EA"/>
<ellipse cx="790" cy="180" rx="22" ry="17" fill="#7462C8" transform="rotate(59 790 180)"/>
<ellipse cx="790" cy="180" rx="8" ry="6" fill="#C8A0EA"/>
<ellipse cx="1115" cy="150" rx="22" ry="17" fill="#7462C8" transform="rotate(42 1115 150)"/>
<ellipse cx="1115" cy="150" rx="8" ry="6" fill="#C8A0EA"/>
<ellipse cx="1255" cy="120" rx="22" ry="17" fill="#7462C8" transform="rotate(98 1255 120)"/>
<ellipse cx="1255" cy="120" rx="8" ry="6" fill="#C8A0EA"/>
<ellipse cx="215" cy="760" rx="22" ry="17" fill="#7462C8" transform="rotate(147 215 760)"/>
<ellipse cx="215" cy="760" rx="8" ry="6" fill="#C8A0EA"/>
<ellipse cx="600" cy="615" rx="22" ry="17" fill="#7462C8" transform="rotate(176 600 615)"/>
<ellipse cx="600" cy="615" rx="8" ry="6" fill="#C8A0EA"/>
<ellipse cx="755" cy="795" rx="22" ry="17" fill="#7462C8" transform="rotate(72 755 795)"/>
<ellipse cx="755" cy="795" rx="8" ry="6" fill="#C8A0EA"/>
<ellipse cx="465" cy="945" rx="22" ry="17" fill="#7462C8" transform="rotate(141 465 945)"/>
<ellipse cx="465" cy="945" rx="8" ry="6" fill="#C8A0EA"/>
<ellipse cx="1160" cy="630" rx="22" ry="17" fill="#7462C8" transform="rotate(70 1160 630)"/>
<ellipse cx="1160" cy="630" rx="8" ry="6" fill="#C8A0EA"/>
<ellipse cx="1270" cy="770" rx="22" ry="17" fill="#7462C8" transform="rotate(98 1270 770)"/>
<ellipse cx="1270" cy="770" rx="8" ry="6" fill="#C8A0EA"/>
<ellipse cx="970" cy="490" rx="22" ry="17" fill="#7462C8" transform="rotate(147 970 490)"/>
<ellipse cx="970" cy="490" rx="8" ry="6" fill="#C8A0EA"/>
<ellipse cx="1255" cy="420" rx="22" ry="17" fill="#7462C8" transform="rotate(2 1255 420)"/>
<ellipse cx="1255" cy="420" rx="8" ry="6" fill="#C8A0EA"/>
<ellipse cx="1555" cy="450" rx="22" ry="17" fill="#7462C8" transform="rotate(63 1555 450)"/>
<ellipse cx="1555" cy="450" rx="8" ry="6" fill="#C8A0EA"/>
<ellipse cx="1350" cy="715" rx="22" ry="17" fill="#7462C8" transform="rotate(169 1350 715)"/>
<ellipse cx="1350" cy="715" rx="8" ry="6" fill="#C8A0EA"/>
<ellipse cx="1535" cy="730" rx="22" ry="17" fill="#7462C8" transform="rotate(4 1535 730)"/>
<ellipse cx="1535" cy="730" rx="8" ry="6" fill="#C8A0EA"/>
<ellipse cx="1295" cy="885" rx="22" ry="17" fill="#7462C8" transform="rotate(112 1295 885)"/>
<ellipse cx="1295" cy="885" rx="8" ry="6" fill="#C8A0EA"/>
<ellipse cx="1140" cy="965" rx="22" ry="17" fill="#7462C8" transform="rotate(39 1140 965)"/>
<ellipse cx="1140" cy="965" rx="8" ry="6" fill="#C8A0EA"/>
<ellipse cx="1465" cy="1020" rx="22" ry="17" fill="#7462C8" transform="rotate(38 1465 1020)"/>
<ellipse cx="1465" cy="1020" rx="8" ry="6" fill="#C8A0EA"/>
<ellipse cx="1780" cy="985" rx="22" ry="17" fill="#7462C8" transform="rotate(81 1780 985)"/>
<ellipse cx="1780" cy="985" rx="8" ry="6" fill="#C8A0EA"/>
<ellipse cx="1815" cy="850" rx="22" ry="17" fill="#7462C8" transform="rotate(42 1815 850)"/>
<ellipse cx="1815" cy="850" rx="8" ry="6" fill="#C8A0EA"/>
<ellipse cx="730" cy="1085" rx="22" ry="17" fill="#7462C8" transform="rotate(65 730 1085)"/>
<ellipse cx="730" cy="1085" rx="8" ry="6" fill="#C8A0EA"/>
<ellipse cx="555" cy="1165" rx="22" ry="17" fill="#7462C8" transform="rotate(167 555 1165)"/>
<ellipse cx="555" cy="1165" rx="8" ry="6" fill="#C8A0EA"/>
<ellipse cx="335" cy="1210" rx="22" ry="17" fill="#7462C8" transform="rotate(176 335 1210)"/>
<ellipse cx="335" cy="1210" rx="8" ry="6" fill="#C8A0EA"/>
<ellipse cx="820" cy="1225" rx="22" ry="17" fill="#7462C8" transform="rotate(158 820 1225)"/>
<ellipse cx="820" cy="1225" rx="8" ry="6" fill="#C8A0EA"/>
<ellipse cx="1150" cy="1210" rx="22" ry="17" fill="#7462C8" transform="rotate(149 1150 1210)"/>
<ellipse cx="1150" cy="1210" rx="8" ry="6" fill="#C8A0EA"/>
<ellipse cx="1750" cy="1250" rx="22" ry="17" fill="#7462C8" transform="rotate(15 1750 1250)"/>
<ellipse cx="1750" cy="1250" rx="8" ry="6" fill="#C8A0EA"/>
<ellipse cx="1585" cy="1380" rx="22" ry="17" fill="#7462C8" transform="rotate(30 1585 1380)"/>
<ellipse cx="1585" cy="1380" rx="8" ry="6" fill="#C8A0EA"/>
<ellipse cx="160" cy="1420" rx="22" ry="17" fill="#7462C8" transform="rotate(150 160 1420)"/>
<ellipse cx="160" cy="1420" rx="8" ry="6" fill="#C8A0EA"/>
<ellipse cx="1400" cy="1420" rx="22" ry="17" fill="#7462C8" transform="rotate(8 1400 1420)"/>
<ellipse cx="1400" cy="1420" rx="8" ry="6" fill="#C8A0EA"/>
<ellipse cx="1400" cy="260" rx="22" ry="17" fill="#7462C8" transform="rotate(110 1400 260)"/>
<ellipse cx="1400" cy="260" rx="8" ry="6" fill="#C8A0EA"/>
<ellipse cx="1850" cy="305" rx="22" ry="17" fill="#7462C8" transform="rotate(72 1850 305)"/>
<ellipse cx="1850" cy="305" rx="8" ry="6" fill="#C8A0EA"/>
<ellipse cx="100" cy="270" rx="22" ry="9" fill="#5646B6" transform="rotate(97 100 270)"/>
<ellipse cx="150" cy="265" rx="22" ry="9" fill="#5646B6" transform="rotate(85 150 265)"/>
<ellipse cx="320" cy="270" rx="22" ry="9" fill="#5646B6" transform="rotate(59 320 270)"/>
<ellipse cx="455" cy="260" rx="22" ry="9" fill="#5646B6" transform="rotate(42 455 260)"/>
<ellipse cx="555" cy="370" rx="22" ry="9" fill="#5646B6" transform="rotate(98 555 370)"/>
<ellipse cx="555" cy="470" rx="22" ry="9" fill="#5646B6" transform="rotate(147 555 470)"/>
<ellipse cx="195" cy="590" rx="22" ry="9" fill="#5646B6" transform="rotate(176 195 590)"/>
<ellipse cx="340" cy="615" rx="22" ry="9" fill="#5646B6" transform="rotate(72 340 615)"/>
<ellipse cx="445" cy="570" rx="22" ry="9" fill="#5646B6" transform="rotate(141 445 570)"/>
<ellipse cx="640" cy="555" rx="22" ry="9" fill="#5646B6" transform="rotate(70 640 555)"/>
<ellipse cx="870" cy="560" rx="22" ry="9" fill="#5646B6" transform="rotate(60 870 560)"/>
<ellipse cx="900" cy="610" rx="22" ry="9" fill="#5646B6" transform="rotate(60 900 610)"/>
<ellipse cx="925" cy="660" rx="22" ry="9" fill="#5646B6" transform="rotate(70 925 660)"/>
<ellipse cx="750" cy="240" rx="22" ry="9" fill="#5646B6" transform="rotate(98 750 240)"/>
<ellipse cx="870" cy="290" rx="22" ry="9" fill="#5646B6" transform="rotate(147 870 290)"/>
<ellipse cx="940" cy="230" rx="22" ry="9" fill="#5646B6" transform="rotate(2 940 230)"/>
<ellipse cx="975" cy="270" rx="22" ry="9" fill="#5646B6" transform="rotate(63 975 270)"/>
<ellipse cx="1020" cy="320" rx="22" ry="9" fill="#5646B6" transform="rotate(60 1020 320)"/>
<ellipse cx="1100" cy="440" rx="22" ry="9" fill="#5646B6" transform="rotate(120 1100 440)"/>
<ellipse cx="1060" cy="820" rx="22" ry="9" fill="#5646B6" transform="rotate(169 1060 820)"/>
<ellipse cx="940" cy="1020" rx="22" ry="9" fill="#5646B6" transform="rotate(4 940 1020)"/>
<ellipse cx="1020" cy="1010" rx="22" ry="9" fill="#5646B6" transform="rotate(100 1020 1010)"/>
<ellipse cx="1005" cy="1190" rx="22" ry="9" fill="#5646B6" transform="rotate(112 1005 1190)"/>
<ellipse cx="1000" cy="1130" rx="22" ry="9" fill="#5646B6" transform="rotate(80 1000 1130)"/>
<ellipse cx="735" cy="1170" rx="22" ry="9" fill="#5646B6" transform="rotate(100 735 1170)"/>
<ellipse cx="680" cy="905" rx="22" ry="9" fill="#5646B6" transform="rotate(39 680 905)"/>
<ellipse cx="350" cy="900" rx="22" ry="9" fill="#5646B6" transform="rotate(110 350 900)"/>
<ellipse cx="135" cy="945" rx="22" ry="9" fill="#5646B6" transform="rotate(38 135 945)"/>
<ellipse cx="190" cy="940" rx="22" ry="9" fill="#5646B6" transform="rotate(81 190 940)"/>
<ellipse cx="125" cy="1080" rx="22" ry="9" fill="#5646B6" transform="rotate(90 125 1080)"/>
<ellipse cx="170" cy="1225" rx="22" ry="9" fill="#5646B6" transform="rotate(42 170 1225)"/>
<ellipse cx="1300" cy="1000" rx="22" ry="9" fill="#5646B6" transform="rotate(60 1300 1000)"/>
<ellipse cx="1330" cy="1190" rx="22" ry="9" fill="#5646B6" transform="rotate(90 1330 1190)"/>
<ellipse cx="1350" cy="1100" rx="22" ry="9" fill="#5646B6" transform="rotate(80 1350 1100)"/>
<ellipse cx="1610" cy="1080" rx="22" ry="9" fill="#5646B6" transform="rotate(70 1610 1080)"/>
<ellipse cx="1600" cy="1170" rx="22" ry="9" fill="#5646B6" transform="rotate(100 1600 1170)"/>
<ellipse cx="1840" cy="1250" rx="22" ry="9" fill="#5646B6" transform="rotate(90 1840 1250)"/>
<ellipse cx="1685" cy="1390" rx="22" ry="9" fill="#5646B6" transform="rotate(65 1685 1390)"/>
<ellipse cx="1175" cy="1390" rx="22" ry="9" fill="#5646B6" transform="rotate(100 1175 1390)"/>
<ellipse cx="595" cy="1390" rx="22" ry="9" fill="#5646B6" transform="rotate(140 595 1390)"/>
<ellipse cx="500" cy="1350" rx="22" ry="9" fill="#5646B6" transform="rotate(167 500 1350)"/>
<ellipse cx="430" cy="1350" rx="22" ry="9" fill="#5646B6" transform="rotate(176 430 1350)"/>
<ellipse cx="1480" cy="150" rx="22" ry="9" fill="#5646B6" transform="rotate(70 1480 150)"/>
<ellipse cx="1640" cy="220" rx="22" ry="9" fill="#5646B6" transform="rotate(158 1640 220)"/>
<ellipse cx="1740" cy="130" rx="22" ry="9" fill="#5646B6" transform="rotate(80 1740 130)"/>
<ellipse cx="1765" cy="120" rx="22" ry="9" fill="#5646B6" transform="rotate(110 1765 120)"/>
<ellipse cx="1710" cy="300" rx="22" ry="9" fill="#5646B6" transform="rotate(80 1710 300)"/>
<ellipse cx="1725" cy="420" rx="22" ry="9" fill="#5646B6" transform="rotate(80 1725 420)"/>
<ellipse cx="1620" cy="570" rx="22" ry="9" fill="#5646B6" transform="rotate(149 1620 570)"/>
<ellipse cx="1700" cy="580" rx="22" ry="9" fill="#5646B6" transform="rotate(90 1700 580)"/>
<ellipse cx="1480" cy="610" rx="22" ry="9" fill="#5646B6" transform="rotate(15 1480 610)"/>
<ellipse cx="1530" cy="880" rx="22" ry="9" fill="#5646B6" transform="rotate(120 1530 880)"/>
<ellipse cx="1790" cy="740" rx="22" ry="9" fill="#5646B6" transform="rotate(50 1790 740)"/>
<ellipse cx="1900" cy="440" rx="22" ry="9" fill="#5646B6" transform="rotate(140 1900 440)"/>
<ellipse cx="1410" cy="130" rx="22" ry="9" fill="#5646B6" transform="rotate(140 1410 130)"/>
<ellipse cx="1210" cy="205" rx="22" ry="9" fill="#5646B6" transform="rotate(120 1210 205)"/>
</g>
<rect x="818.1" y="1084.6" width="249.2" height="184.4" filter="url(#nz)" opacity="0.5"/>
</g>
<rect x="819.2" y="1085.7" width="247" height="182.2" fill="none" stroke="#000" stroke-width="2.3"/>
<clipPath id="hc4"><rect x="45" y="1279.2" width="247.2" height="182.4"/></clipPath>
<g clip-path="url(#hc4)">
<rect x="44" y="1278.2" width="249.2" height="184.4" fill="#F87ADA"/>
<g transform="translate(40,1272) scale(0.13026)">
<path d="M720,60 C713.3,80 690,140 680,180 C670,220 662.5,255 660,300 C657.5,345 664.2,425 665,450" fill="none" stroke="#FFC6F4" stroke-width="7" stroke-linecap="round" stroke-linejoin="round"/>
<path d="M510,60 C496.7,91.7 456.7,176.7 430,250 C403.3,323.3 360,431.7 350,500 C340,568.3 366.7,633.3 370,660" fill="none" stroke="#FFC6F4" stroke-width="7" stroke-linecap="round" stroke-linejoin="round"/>
<path d="M660,560 C673.3,581.7 725.8,633.3 740,690 C754.2,746.7 751.7,856.7 745,900 C738.3,943.3 700.8,911.7 700,950 C699.2,988.3 728.3,1088.3 740,1130 C751.7,1171.7 765,1188.3 770,1200" fill="none" stroke="#FFC6F4" stroke-width="7" stroke-linecap="round" stroke-linejoin="round"/>
<path d="M520,660 C524.2,683.3 536.7,760 545,800 C553.3,840 544.2,875 570,900 C595.8,925 678.3,941.7 700,950" fill="none" stroke="#FFC6F4" stroke-width="7" stroke-linecap="round" stroke-linejoin="round"/>
<path d="M745,900 L990,975" fill="none" stroke="#FFC6F4" stroke-width="7" stroke-linecap="round" stroke-linejoin="round"/>
<path d="M570,900 L420,1050" fill="none" stroke="#FFC6F4" stroke-width="7" stroke-linecap="round" stroke-linejoin="round"/>
<path d="M770,1200 C788.3,1200 851.7,1186.7 880,1200 C908.3,1213.3 936.7,1246.7 940,1280 C943.3,1313.3 906.7,1380 900,1400" fill="none" stroke="#FFC6F4" stroke-width="7" stroke-linecap="round" stroke-linejoin="round"/>
<path d="M880,1200 L1010,1080" fill="none" stroke="#FFC6F4" stroke-width="7" stroke-linecap="round" stroke-linejoin="round"/>
<path d="M940,1280 L1060,1240" fill="none" stroke="#FFC6F4" stroke-width="7" stroke-linecap="round" stroke-linejoin="round"/>
<path d="M770,1200 C755,1220 701.7,1296.7 680,1320 C658.3,1343.3 646.7,1336.7 640,1340" fill="none" stroke="#FFC6F4" stroke-width="7" stroke-linecap="round" stroke-linejoin="round"/>
<path d="M1000,900 C1036.7,896.7 1165,870 1220,880 C1275,890 1286.7,950 1330,960 C1373.3,970 1455,943.3 1480,940" fill="none" stroke="#FFC6F4" stroke-width="7" stroke-linecap="round" stroke-linejoin="round"/>
<path d="M1220,880 C1231.7,853.3 1261.7,765 1290,720 C1318.3,675 1355,626.7 1390,610 C1425,593.3 1481.7,618.3 1500,620" fill="none" stroke="#FFC6F4" stroke-width="7" stroke-linecap="round" stroke-linejoin="round"/>
<path d="M990,610 C1000,595 1041.7,558.3 1050,520 C1058.3,481.7 1041.7,416.7 1040,380 C1038.3,343.3 1040,313.3 1040,300" fill="none" stroke="#FFC6F4" stroke-width="7" stroke-linecap="round" stroke-linejoin="round"/>
<path d="M1050,540 L1340,540" fill="none" stroke="#FFC6F4" stroke-width="7" stroke-linecap="round" stroke-linejoin="round"/>
<path d="M1340,540 L1390,610" fill="none" stroke="#FFC6F4" stroke-width="7" stroke-linecap="round" stroke-linejoin="round"/>
<path d="M1340,540 C1353.3,505 1383.3,396.7 1420,330 C1456.7,263.3 1536.7,171.7 1560,140" fill="none" stroke="#FFC6F4" stroke-width="7" stroke-linecap="round" stroke-linejoin="round"/>
<path d="M1100,240 C1125,225 1210,173.3 1250,150 C1290,126.7 1325,108.3 1340,100" fill="none" stroke="#FFC6F4" stroke-width="7" stroke-linecap="round" stroke-linejoin="round"/>
<path d="M1500,620 C1520,641.7 1560,736.7 1620,750 C1680,763.3 1820,708.3 1860,700" fill="none" stroke="#FFC6F4" stroke-width="7" stroke-linecap="round" stroke-linejoin="round"/>
<path d="M1500,620 C1510,606.7 1526.7,561.7 1560,540 C1593.3,518.3 1676.7,498.3 1700,490" fill="none" stroke="#FFC6F4" stroke-width="7" stroke-linecap="round" stroke-linejoin="round"/>
<path d="M1330,960 C1328.3,1008.3 1341.7,1188.3 1320,1250 C1298.3,1311.7 1220,1316.7 1200,1330" fill="none" stroke="#FFC6F4" stroke-width="7" stroke-linecap="round" stroke-linejoin="round"/>
<path d="M1320,1250 C1341.7,1258.3 1418.3,1283.3 1450,1300 C1481.7,1316.7 1500,1341.7 1510,1350" fill="none" stroke="#FFC6F4" stroke-width="7" stroke-linecap="round" stroke-linejoin="round"/>
<path d="M1480,940 C1493.3,956.7 1533.3,1013.3 1560,1040 C1586.7,1066.7 1593.3,1100 1640,1100 C1686.7,1100 1806.7,1050 1840,1040" fill="none" stroke="#FFC6F4" stroke-width="7" stroke-linecap="round" stroke-linejoin="round"/>
<path d="M1640,1100 C1640,1126.7 1661.7,1218.3 1640,1260 C1618.3,1301.7 1531.7,1335 1510,1350" fill="none" stroke="#FFC6F4" stroke-width="7" stroke-linecap="round" stroke-linejoin="round"/>
<path d="M1640,1260 C1656.7,1273.3 1713.3,1310 1740,1340 C1766.7,1370 1790,1423.3 1800,1440" fill="none" stroke="#FFC6F4" stroke-width="7" stroke-linecap="round" stroke-linejoin="round"/>
<path d="M50,280 L210,265" fill="none" stroke="#FFC6F4" stroke-width="7" stroke-linecap="round" stroke-linejoin="round"/>
<path d="M210,265 C225,250.8 281.7,214.2 300,180 C318.3,145.8 316.7,80 320,60" fill="none" stroke="#FFC6F4" stroke-width="7" stroke-linecap="round" stroke-linejoin="round"/>
<path d="M210,265 C213.3,304.2 210,459.2 230,500 C250,540.8 313.3,508.3 330,510" fill="none" stroke="#FFC6F4" stroke-width="7" stroke-linecap="round" stroke-linejoin="round"/>
<path d="M50,640 L230,500" fill="none" stroke="#FFC6F4" stroke-width="7" stroke-linecap="round" stroke-linejoin="round"/>
<path d="M300,1200 C305,1221.7 310,1305 330,1330 C350,1355 400,1331.7 420,1350 C440,1368.3 445,1425 450,1440" fill="none" stroke="#FFC6F4" stroke-width="7" stroke-linecap="round" stroke-linejoin="round"/>
<path d="M300,1200 C313.3,1183.3 356.7,1120 380,1100 C403.3,1080 430,1083.3 440,1080" fill="none" stroke="#FFC6F4" stroke-width="7" stroke-linecap="round" stroke-linejoin="round"/>
<path d="M40,1005 C63.3,984.2 140,920.8 180,880 C220,839.2 248.3,795 280,760 C311.7,725 330,693.3 370,670 C410,646.7 481.7,638.3 520,620 C558.3,601.7 573.3,586.7 600,560 C626.7,533.3 638.3,486.7 680,460 C721.7,433.3 813.3,428.3 850,400 C886.7,371.7 881.7,323.3 900,290 C918.3,256.7 943.3,239.2 960,200 C976.7,160.8 993.3,79.2 1000,55" fill="none" stroke="#fff" stroke-width="26" stroke-linecap="round" stroke-linejoin="round"/>
<path d="M180,890 C200,901.7 260,931.7 300,960 C340,988.3 380,1020 420,1060 C460,1100 510,1156.7 540,1200 C570,1243.3 576.7,1286.7 600,1320 C623.3,1353.3 651.7,1378.3 680,1400 C708.3,1421.7 755,1441.7 770,1450" fill="none" stroke="#fff" stroke-width="15" stroke-linecap="round" stroke-linejoin="round"/>
<path d="M870,400 C878.3,426.7 900,510 920,560 C940,610 976.7,643.3 990,700 C1003.3,756.7 990,836.7 1000,900 C1010,963.3 1030,1020 1050,1080 C1070,1140 1091.7,1198.3 1120,1260 C1148.3,1321.7 1203.3,1418.3 1220,1450" fill="none" stroke="#fff" stroke-width="12" stroke-linecap="round" stroke-linejoin="round"/>
<path d="M1560,55 C1566.7,79.2 1576.7,139.2 1600,200 C1623.3,260.8 1666.7,346.7 1700,420 C1733.3,493.3 1773.3,583.3 1800,640 C1826.7,696.7 1851.7,716.7 1860,760 C1868.3,803.3 1853.3,853.3 1850,900 C1846.7,946.7 1827.5,1000.8 1840,1040 C1852.5,1079.2 1910.8,1119.2 1925,1135" fill="none" stroke="#fff" stroke-width="9" stroke-linecap="round" stroke-linejoin="round"/>
<path d="M1520,1450 L1510,1350" fill="none" stroke="#fff" stroke-width="10" stroke-linecap="round" stroke-linejoin="round"/>
<path d="M1680,400 C1681.7,413.3 1680,465 1690,480 C1700,495 1731.7,488.3 1740,490" fill="none" stroke="#fff" stroke-width="10" stroke-linecap="round" stroke-linejoin="round"/>
<ellipse cx="318" cy="185" rx="22" ry="10" fill="#5646B6" transform="rotate(45 318 185)"/>
<ellipse cx="495" cy="140" rx="22" ry="10" fill="#5646B6" transform="rotate(110 495 140)"/>
<ellipse cx="680" cy="255" rx="22" ry="10" fill="#5646B6" transform="rotate(100 680 255)"/>
<ellipse cx="835" cy="130" rx="22" ry="10" fill="#5646B6" transform="rotate(80 835 130)"/>
<ellipse cx="545" cy="635" rx="22" ry="10" fill="#5646B6" transform="rotate(120 545 635)"/>
<ellipse cx="770" cy="690" rx="22" ry="10" fill="#5646B6" transform="rotate(140 770 690)"/>
<ellipse cx="440" cy="1015" rx="22" ry="10" fill="#5646B6" transform="rotate(140 440 1015)"/>
<ellipse cx="700" cy="980" rx="22" ry="10" fill="#5646B6" transform="rotate(80 700 980)"/>
<ellipse cx="945" cy="1130" rx="22" ry="10" fill="#5646B6" transform="rotate(150 945 1130)"/>
<ellipse cx="935" cy="1290" rx="22" ry="10" fill="#5646B6" transform="rotate(140 935 1290)"/>
<ellipse cx="900" cy="1380" rx="22" ry="10" fill="#5646B6" transform="rotate(100 900 1380)"/>
<ellipse cx="1045" cy="855" rx="22" ry="10" fill="#5646B6" transform="rotate(10 1045 855)"/>
<ellipse cx="1100" cy="860" rx="22" ry="10" fill="#5646B6" transform="rotate(10 1100 860)"/>
<ellipse cx="1230" cy="835" rx="22" ry="10" fill="#5646B6" transform="rotate(110 1230 835)"/>
<ellipse cx="1140" cy="545" rx="22" ry="10" fill="#5646B6" transform="rotate(0 1140 545)"/>
<ellipse cx="1250" cy="540" rx="22" ry="10" fill="#5646B6" transform="rotate(160 1250 540)"/>
<ellipse cx="1345" cy="530" rx="22" ry="10" fill="#5646B6" transform="rotate(110 1345 530)"/>
<ellipse cx="1440" cy="615" rx="22" ry="10" fill="#5646B6" transform="rotate(0 1440 615)"/>
<ellipse cx="1470" cy="615" rx="22" ry="10" fill="#5646B6" transform="rotate(0 1470 615)"/>
<ellipse cx="1480" cy="230" rx="22" ry="10" fill="#5646B6" transform="rotate(120 1480 230)"/>
<ellipse cx="1390" cy="420" rx="22" ry="10" fill="#5646B6" transform="rotate(110 1390 420)"/>
<ellipse cx="1600" cy="140" rx="22" ry="10" fill="#5646B6" transform="rotate(20 1600 140)"/>
<ellipse cx="1695" cy="340" rx="22" ry="10" fill="#5646B6" transform="rotate(150 1695 340)"/>
<ellipse cx="1800" cy="600" rx="22" ry="10" fill="#5646B6" transform="rotate(60 1800 600)"/>
<ellipse cx="1840" cy="570" rx="22" ry="10" fill="#5646B6" transform="rotate(140 1840 570)"/>
<ellipse cx="1870" cy="750" rx="22" ry="10" fill="#5646B6" transform="rotate(60 1870 750)"/>
<ellipse cx="1625" cy="750" rx="22" ry="10" fill="#5646B6" transform="rotate(160 1625 750)"/>
<ellipse cx="1520" cy="860" rx="22" ry="10" fill="#5646B6" transform="rotate(130 1520 860)"/>
<ellipse cx="1480" cy="945" rx="22" ry="10" fill="#5646B6" transform="rotate(150 1480 945)"/>
<ellipse cx="1540" cy="1010" rx="22" ry="10" fill="#5646B6" transform="rotate(50 1540 1010)"/>
<ellipse cx="1620" cy="1250" rx="22" ry="10" fill="#5646B6" transform="rotate(100 1620 1250)"/>
<ellipse cx="1660" cy="1275" rx="22" ry="10" fill="#5646B6" transform="rotate(40 1660 1275)"/>
<ellipse cx="350" cy="1335" rx="22" ry="10" fill="#5646B6" transform="rotate(20 350 1335)"/>
<ellipse cx="660" cy="1335" rx="22" ry="10" fill="#5646B6" transform="rotate(130 660 1335)"/>
<ellipse cx="300" cy="1215" rx="22" ry="10" fill="#5646B6" transform="rotate(100 300 1215)"/>
<ellipse cx="1045" cy="400" rx="22" ry="10" fill="#5646B6" transform="rotate(90 1045 400)"/>
<ellipse cx="1000" cy="660" rx="22" ry="10" fill="#5646B6" transform="rotate(80 1000 660)"/>
<ellipse cx="210" cy="520" rx="22" ry="10" fill="#5646B6" transform="rotate(150 210 520)"/>
<ellipse cx="1205" cy="1335" rx="22" ry="10" fill="#5646B6" transform="rotate(150 1205 1335)"/>
<ellipse cx="1860" cy="1425" rx="22" ry="10" fill="#5646B6" transform="rotate(140 1860 1425)"/>
<ellipse cx="1000" cy="260" rx="22" ry="10" fill="#5646B6" transform="rotate(30 1000 260)"/>
<ellipse cx="1050" cy="270" rx="22" ry="10" fill="#5646B6" transform="rotate(0 1050 270)"/>
<ellipse cx="1000" cy="255" rx="10" ry="9" fill="#D8407E" transform="rotate(0 1000 255)"/>
<ellipse cx="1035" cy="265" rx="10" ry="9" fill="#D8407E" transform="rotate(40 1035 265)"/>
<ellipse cx="1010" cy="285" rx="10" ry="9" fill="#D8407E" transform="rotate(90 1010 285)"/>
</g>
</g>
<rect x="45.1" y="1279.3" width="247" height="182.2" fill="none" stroke="#000" stroke-width="2.3"/>
<clipPath id="hc5"><rect x="302.9" y="1279.2" width="247.2" height="182.4"/></clipPath>
<g clip-path="url(#hc5)">
<rect x="301.9" y="1278.2" width="249.2" height="184.4" fill="#FFFFFF"/>
<g transform="translate(298,1272) scale(0.13026)">
<path d="M45,1050 C87.5,985 224.2,1025 300,1050 C375.8,1075 450,1135 500,1200 C550,1265 675.8,1400 600,1440 C524.2,1480 137.5,1505 45,1440 C-47.5,1375 2.5,1115 45,1050Z" fill="#FDF0F9"/>
<path d="M1450,60 C1520.8,36.7 1845.8,28.3 1925,60 C2004.2,91.7 1962.5,210 1925,250 C1887.5,290 1770.8,308.3 1700,300 C1629.2,291.7 1541.7,240 1500,200 C1458.3,160 1379.2,83.3 1450,60Z" fill="#FCE6F5"/>
<ellipse cx="555" cy="540" rx="90" ry="105" fill="#FDC6F2"/>
<ellipse cx="560" cy="1000" rx="75" ry="205" fill="#FDC6F2" transform="rotate(15 560 1000)"/>
<ellipse cx="1650" cy="870" rx="110" ry="120" fill="#FDC6F2"/>
<ellipse cx="1400" cy="250" rx="90" ry="60" fill="#FDC6F2" transform="rotate(30 1400 250)"/>
<ellipse cx="1000" cy="690" rx="90" ry="60" fill="#FDC6F2" transform="rotate(20 1000 690)"/>
<ellipse cx="420" cy="250" rx="90" ry="150" fill="#FBDDF2" transform="rotate(20 420 250)"/>
<ellipse cx="210" cy="700" rx="150" ry="90" fill="#FC9CEC" transform="rotate(10 210 700)"/>
<ellipse cx="215" cy="690" rx="80" ry="35" fill="#fff" transform="rotate(-10 215 690)"/>
<ellipse cx="1340" cy="1330" rx="100" ry="125" fill="#FC9CEC"/>
<ellipse cx="1700" cy="1290" rx="150" ry="60" fill="#FDC6F2" transform="rotate(10 1700 1290)"/>
<path d="M45,140 C70.8,81.3 152.5,104.7 200,128 C247.5,151.3 288.3,231.3 330,280 C371.7,328.7 430.8,376.7 450,420 C469.2,463.3 465,508 445,540 C425,572 374.2,605 330,612 C285.8,619 227.5,604 180,582 C132.5,560 67.5,553.7 45,480 C22.5,406.3 19.2,198.7 45,140Z" fill="#FA84E2"/>
<path d="M790,180 C813.3,163 863.3,154.7 900,168 C936.7,181.3 973,226 1010,260 C1047,294 1115.3,338.3 1122,372 C1128.7,405.7 1087,438.7 1050,462 C1013,485.3 945,510.3 900,512 C855,513.7 805.3,494 780,472 C754.7,450 751.3,413.7 748,380 C744.7,346.3 753,303.3 760,270 C767,236.7 766.7,197 790,180Z" fill="#FA84E2"/>
<ellipse cx="1120" cy="185" rx="222" ry="135" fill="#FA84E2" transform="rotate(8 1120 185)"/>
<ellipse cx="1230" cy="540" rx="137" ry="152" fill="#FA84E2"/>
<ellipse cx="1548" cy="560" rx="180" ry="176" fill="#FA84E2" transform="rotate(10 1548 560)"/>
<ellipse cx="1875" cy="370" rx="85" ry="130" fill="#FA84E2"/>
<ellipse cx="995" cy="1040" rx="268" ry="228" fill="#FA84E2" transform="rotate(32 995 1040)"/>
<ellipse cx="1395" cy="912" rx="145" ry="205" fill="#FA84E2" transform="rotate(-20 1395 912)"/>
<path d="M650,1150 C663.3,1125.8 695,1098.3 720,1095 C745,1091.7 770,1107.2 800,1130 C830,1152.8 833.3,1195.3 900,1232 C966.7,1268.7 1144.2,1313.7 1200,1350 C1255.8,1386.3 1291.7,1433.3 1235,1450 C1178.3,1466.7 949.2,1469.2 860,1450 C770.8,1430.8 736.7,1370 700,1335 C663.3,1300 648.3,1270.8 640,1240 C631.7,1209.2 636.7,1174.2 650,1150Z" fill="#FA84E2"/>
<ellipse cx="1785" cy="1155" rx="155" ry="128" fill="#FA84E2" transform="rotate(35 1785 1155)"/>
<ellipse cx="1865" cy="900" rx="85" ry="150" fill="#FA84E2"/>
<path d="M45,850 C79.2,818.3 193.3,826.7 250,830 C306.7,833.3 361.7,850 385,870 C408.3,890 404.2,926.7 390,950 C375.8,973.3 357.5,998.3 300,1010 C242.5,1021.7 87.5,1046.7 45,1020 C2.5,993.3 10.8,881.7 45,850Z" fill="#FA84E2"/>
<ellipse cx="200" cy="865" rx="70" ry="25" fill="#fff" transform="rotate(-5 200 865)"/>
<ellipse cx="390" cy="1360" rx="92" ry="92" fill="#FA84E2"/>
<ellipse cx="150" cy="1445" rx="80" ry="25" fill="#FA84E2"/>
<ellipse cx="350" cy="62" rx="100" ry="18" fill="#FA84E2"/>
<ellipse cx="985" cy="1040" rx="45" ry="18" fill="#F9C8EA" transform="rotate(25 985 1040)"/>
<ellipse cx="215" cy="400" rx="40" ry="12" fill="#F9C8EA" transform="rotate(40 215 400)"/>
<path d="M880,150 C900,166.7 957.5,213.3 1000,250 C1042.5,286.7 1112.5,350 1135,370" fill="none" stroke="#fff" stroke-width="14" stroke-linecap="round" stroke-linejoin="round"/>
<path d="M730,1085 C750,1100.8 805,1149.2 850,1180 C895,1210.8 935,1241.7 1000,1270 C1065,1298.3 1200,1336.7 1240,1350" fill="none" stroke="#fff" stroke-width="14" stroke-linecap="round" stroke-linejoin="round"/>
<path d="M1368,420 C1366.7,443.3 1362.7,515 1360,560 C1357.3,605 1353.3,668.3 1352,690" fill="none" stroke="#C868C8" stroke-width="5" stroke-linecap="round" stroke-linejoin="round"/>
<path d="M1100,380 C1105,371.7 1113.3,343.3 1130,330 C1146.7,316.7 1166.7,303.3 1200,300 C1233.3,296.7 1308.3,308.3 1330,310" fill="none" stroke="#fff" stroke-width="10" stroke-linecap="round" stroke-linejoin="round"/>
<ellipse cx="260" cy="95" rx="13" ry="11" fill="#5646B6" transform="rotate(118 260 95)"/>
<ellipse cx="350" cy="135" rx="13" ry="11" fill="#5646B6" transform="rotate(156 350 135)"/>
<ellipse cx="390" cy="135" rx="13" ry="11" fill="#5646B6" transform="rotate(95 390 135)"/>
<ellipse cx="640" cy="150" rx="13" ry="11" fill="#5646B6" transform="rotate(68 640 150)"/>
<ellipse cx="640" cy="200" rx="13" ry="11" fill="#5646B6" transform="rotate(35 640 200)"/>
<ellipse cx="780" cy="150" rx="13" ry="11" fill="#5646B6" transform="rotate(47 780 150)"/>
<ellipse cx="1110" cy="330" rx="13" ry="11" fill="#5646B6" transform="rotate(173 1110 330)"/>
<ellipse cx="1225" cy="350" rx="13" ry="11" fill="#5646B6" transform="rotate(1 1225 350)"/>
<ellipse cx="770" cy="470" rx="13" ry="11" fill="#5646B6" transform="rotate(86 770 470)"/>
<ellipse cx="990" cy="570" rx="13" ry="11" fill="#5646B6" transform="rotate(128 990 570)"/>
<ellipse cx="970" cy="650" rx="13" ry="11" fill="#5646B6" transform="rotate(118 970 650)"/>
<ellipse cx="1080" cy="640" rx="13" ry="11" fill="#5646B6" transform="rotate(154 1080 640)"/>
<ellipse cx="700" cy="640" rx="13" ry="11" fill="#5646B6" transform="rotate(20 700 640)"/>
<ellipse cx="500" cy="690" rx="13" ry="11" fill="#5646B6" transform="rotate(85 500 690)"/>
<ellipse cx="520" cy="700" rx="13" ry="11" fill="#5646B6" transform="rotate(141 520 700)"/>
<ellipse cx="100" cy="600" rx="13" ry="11" fill="#5646B6" transform="rotate(157 100 600)"/>
<ellipse cx="130" cy="650" rx="13" ry="11" fill="#5646B6" transform="rotate(179 130 650)"/>
<ellipse cx="80" cy="740" rx="13" ry="11" fill="#5646B6" transform="rotate(10 80 740)"/>
<ellipse cx="120" cy="800" rx="13" ry="11" fill="#5646B6" transform="rotate(97 120 800)"/>
<ellipse cx="420" cy="790" rx="13" ry="11" fill="#5646B6" transform="rotate(43 420 790)"/>
<ellipse cx="60" cy="860" rx="13" ry="11" fill="#5646B6" transform="rotate(115 60 860)"/>
<ellipse cx="670" cy="820" rx="13" ry="11" fill="#5646B6" transform="rotate(108 670 820)"/>
<ellipse cx="670" cy="960" rx="13" ry="11" fill="#5646B6" transform="rotate(40 670 960)"/>
<ellipse cx="340" cy="1030" rx="13" ry="11" fill="#5646B6" transform="rotate(43 340 1030)"/>
<ellipse cx="380" cy="980" rx="13" ry="11" fill="#5646B6" transform="rotate(60 380 980)"/>
<ellipse cx="480" cy="1025" rx="13" ry="11" fill="#5646B6" transform="rotate(13 480 1025)"/>
<ellipse cx="70" cy="1125" rx="13" ry="11" fill="#5646B6" transform="rotate(28 70 1125)"/>
<ellipse cx="125" cy="1160" rx="13" ry="11" fill="#5646B6" transform="rotate(33 125 1160)"/>
<ellipse cx="270" cy="1220" rx="13" ry="11" fill="#5646B6" transform="rotate(129 270 1220)"/>
<ellipse cx="90" cy="1200" rx="13" ry="11" fill="#5646B6" transform="rotate(151 90 1200)"/>
<ellipse cx="140" cy="1210" rx="13" ry="11" fill="#5646B6" transform="rotate(16 140 1210)"/>
<ellipse cx="75" cy="1270" rx="13" ry="11" fill="#5646B6" transform="rotate(176 75 1270)"/>
<ellipse cx="300" cy="1310" rx="13" ry="11" fill="#5646B6" transform="rotate(98 300 1310)"/>
<ellipse cx="350" cy="1340" rx="13" ry="11" fill="#5646B6" transform="rotate(26 350 1340)"/>
<ellipse cx="340" cy="1390" rx="13" ry="11" fill="#5646B6" transform="rotate(74 340 1390)"/>
<ellipse cx="290" cy="1335" rx="13" ry="11" fill="#5646B6" transform="rotate(52 290 1335)"/>
<ellipse cx="225" cy="1350" rx="13" ry="11" fill="#5646B6" transform="rotate(172 225 1350)"/>
<ellipse cx="105" cy="1385" rx="13" ry="11" fill="#5646B6" transform="rotate(57 105 1385)"/>
<ellipse cx="250" cy="1415" rx="13" ry="11" fill="#5646B6" transform="rotate(107 250 1415)"/>
<ellipse cx="590" cy="1330" rx="13" ry="11" fill="#5646B6" transform="rotate(22 590 1330)"/>
<ellipse cx="745" cy="1390" rx="13" ry="11" fill="#5646B6" transform="rotate(68 745 1390)"/>
<ellipse cx="1260" cy="745" rx="13" ry="11" fill="#5646B6" transform="rotate(53 1260 745)"/>
<ellipse cx="1210" cy="830" rx="13" ry="11" fill="#5646B6" transform="rotate(101 1210 830)"/>
<ellipse cx="1345" cy="690" rx="13" ry="11" fill="#5646B6" transform="rotate(71 1345 690)"/>
<ellipse cx="1725" cy="712" rx="13" ry="11" fill="#5646B6" transform="rotate(87 1725 712)"/>
<ellipse cx="1860" cy="720" rx="13" ry="11" fill="#5646B6" transform="rotate(11 1860 720)"/>
<ellipse cx="1690" cy="920" rx="13" ry="11" fill="#5646B6" transform="rotate(51 1690 920)"/>
<ellipse cx="1750" cy="970" rx="13" ry="11" fill="#5646B6" transform="rotate(1 1750 970)"/>
<ellipse cx="1620" cy="1000" rx="13" ry="11" fill="#5646B6" transform="rotate(105 1620 1000)"/>
<ellipse cx="1655" cy="1050" rx="13" ry="11" fill="#5646B6" transform="rotate(14 1655 1050)"/>
<ellipse cx="1590" cy="1040" rx="13" ry="11" fill="#5646B6" transform="rotate(96 1590 1040)"/>
<ellipse cx="1520" cy="1060" rx="13" ry="11" fill="#5646B6" transform="rotate(125 1520 1060)"/>
<ellipse cx="1540" cy="1090" rx="13" ry="11" fill="#5646B6" transform="rotate(35 1540 1090)"/>
<ellipse cx="1600" cy="1060" rx="13" ry="11" fill="#5646B6" transform="rotate(6 1600 1060)"/>
<ellipse cx="1425" cy="1160" rx="13" ry="11" fill="#5646B6" transform="rotate(60 1425 1160)"/>
<ellipse cx="1290" cy="1135" rx="13" ry="11" fill="#5646B6" transform="rotate(108 1290 1135)"/>
<ellipse cx="1245" cy="1400" rx="13" ry="11" fill="#5646B6" transform="rotate(28 1245 1400)"/>
<ellipse cx="1530" cy="1420" rx="13" ry="11" fill="#5646B6" transform="rotate(152 1530 1420)"/>
<ellipse cx="1880" cy="1310" rx="13" ry="11" fill="#5646B6" transform="rotate(0 1880 1310)"/>
<ellipse cx="1860" cy="1350" rx="13" ry="11" fill="#5646B6" transform="rotate(31 1860 1350)"/>
<ellipse cx="1690" cy="315" rx="13" ry="11" fill="#5646B6" transform="rotate(148 1690 315)"/>
<ellipse cx="1720" cy="335" rx="13" ry="11" fill="#5646B6" transform="rotate(50 1720 335)"/>
<ellipse cx="1770" cy="300" rx="13" ry="11" fill="#5646B6" transform="rotate(51 1770 300)"/>
<ellipse cx="1860" cy="210" rx="13" ry="11" fill="#5646B6" transform="rotate(84 1860 210)"/>
<ellipse cx="1780" cy="355" rx="13" ry="11" fill="#5646B6" transform="rotate(2 1780 355)"/>
<ellipse cx="1900" cy="1120" rx="13" ry="11" fill="#5646B6" transform="rotate(21 1900 1120)"/>
<ellipse cx="1360" cy="580" rx="13" ry="11" fill="#5646B6" transform="rotate(34 1360 580)"/>
<ellipse cx="555" cy="90" rx="12" ry="12" fill="#E04A9A" transform="rotate(60 555 90)"/>
<ellipse cx="820" cy="130" rx="12" ry="12" fill="#E04A9A" transform="rotate(151 820 130)"/>
<ellipse cx="1360" cy="175" rx="12" ry="12" fill="#E04A9A" transform="rotate(139 1360 175)"/>
<ellipse cx="1165" cy="395" rx="12" ry="12" fill="#E04A9A" transform="rotate(33 1165 395)"/>
<ellipse cx="1160" cy="415" rx="12" ry="12" fill="#E04A9A" transform="rotate(94 1160 415)"/>
<ellipse cx="950" cy="555" rx="12" ry="12" fill="#E04A9A" transform="rotate(154 950 555)"/>
<ellipse cx="1080" cy="510" rx="12" ry="12" fill="#E04A9A" transform="rotate(121 1080 510)"/>
<ellipse cx="820" cy="590" rx="12" ry="12" fill="#E04A9A" transform="rotate(160 820 590)"/>
<ellipse cx="665" cy="655" rx="12" ry="12" fill="#E04A9A" transform="rotate(148 665 655)"/>
<ellipse cx="720" cy="710" rx="12" ry="12" fill="#E04A9A" transform="rotate(16 720 710)"/>
<ellipse cx="735" cy="880" rx="12" ry="12" fill="#E04A9A" transform="rotate(155 735 880)"/>
<ellipse cx="445" cy="1160" rx="12" ry="12" fill="#E04A9A" transform="rotate(3 445 1160)"/>
<ellipse cx="520" cy="1200" rx="12" ry="12" fill="#E04A9A" transform="rotate(120 520 1200)"/>
<ellipse cx="1275" cy="1190" rx="12" ry="12" fill="#E04A9A" transform="rotate(66 1275 1190)"/>
<ellipse cx="1205" cy="1310" rx="12" ry="12" fill="#E04A9A" transform="rotate(141 1205 1310)"/>
<ellipse cx="1200" cy="1335" rx="12" ry="12" fill="#E04A9A" transform="rotate(59 1200 1335)"/>
<ellipse cx="1755" cy="185" rx="12" ry="12" fill="#E04A9A" transform="rotate(49 1755 185)"/>
<ellipse cx="1880" cy="235" rx="12" ry="12" fill="#E04A9A" transform="rotate(120 1880 235)"/>
<ellipse cx="1890" cy="495" rx="12" ry="12" fill="#E04A9A" transform="rotate(138 1890 495)"/>
<ellipse cx="1380" cy="425" rx="12" ry="12" fill="#E04A9A" transform="rotate(140 1380 425)"/>
<ellipse cx="470" cy="430" rx="12" ry="12" fill="#E04A9A" transform="rotate(121 470 430)"/>
<ellipse cx="580" cy="410" rx="12" ry="12" fill="#E04A9A" transform="rotate(101 580 410)"/>
<ellipse cx="1545" cy="980" rx="12" ry="12" fill="#E04A9A" transform="rotate(163 1545 980)"/>
</g>
</g>
<rect x="303" y="1279.3" width="247" height="182.2" fill="none" stroke="#000" stroke-width="2.3"/>
<clipPath id="hc6"><rect x="561.4" y="1279.2" width="247.2" height="182.4"/></clipPath>
<g clip-path="url(#hc6)">
<rect x="560.4" y="1278.2" width="249.2" height="184.4" fill="#F2C2F2"/>
<g transform="translate(556,1272) scale(0.13026)">
<ellipse cx="305" cy="440" rx="165" ry="125" fill="#FA9EEC" transform="rotate(-35 305 440)"/>
<ellipse cx="300" cy="440" rx="120" ry="9" fill="#fff" transform="rotate(50 300 440)"/>
<ellipse cx="650" cy="275" rx="140" ry="165" fill="#F9A8EE"/>
<ellipse cx="1500" cy="110" rx="170" ry="60" fill="#FA9EEC"/>
<ellipse cx="1480" cy="400" rx="215" ry="165" fill="#E8AEEC" transform="rotate(-10 1480 400)"/>
<ellipse cx="1870" cy="1100" rx="70" ry="120" fill="#FA9EEC"/>
<ellipse cx="950" cy="330" rx="35" ry="25" fill="#FA9EEC"/>
<path d="M45,920 C87.5,828.3 207.5,890 300,900 C392.5,910 530,938.3 600,980 C670,1021.7 703.3,1071.7 720,1150 C736.7,1228.3 812.5,1400 700,1450 C587.5,1500 154.2,1538.3 45,1450 C-64.2,1361.7 2.5,1011.7 45,920Z" fill="#D8A8E8"/>
<path d="M1000,780 C1025,733.3 1208.3,723.3 1300,720 C1391.7,716.7 1483.3,730 1550,760 C1616.7,790 1683.3,843.3 1700,900 C1716.7,956.7 1700,1070 1650,1100 C1600,1130 1483.3,1096.7 1400,1080 C1316.7,1063.3 1216.7,1050 1150,1000 C1083.3,950 975,826.7 1000,780Z" fill="#E4B4EE"/>
<path d="M45,790 C104.2,773.3 290.8,795 400,800 C509.2,805 600,823.3 700,820 C800,816.7 933.3,813.3 1000,780 C1066.7,746.7 1050,643.3 1100,620 C1150,596.7 1223.3,633.3 1300,640 C1376.7,646.7 1516.7,646.7 1560,660 C1603.3,673.3 1603.3,710 1560,720 C1516.7,730 1385,706.7 1300,720 C1215,733.3 1116.7,770 1050,800 C983.3,830 975,886.7 900,900 C825,913.3 683.3,880 600,880 C516.7,880 492.5,896.7 400,900 C307.5,903.3 104.2,918.3 45,900 C-14.2,881.7 -14.2,806.7 45,790Z" fill="#fff"/>
<path d="M45,60 C112.5,15 394.2,41.7 450,60 C505.8,78.3 421.7,138.3 380,170 C338.3,201.7 255.8,223.3 200,250 C144.2,276.7 70.8,361.7 45,330 C19.2,298.3 -22.5,105 45,60Z" fill="#fff"/>
<path d="M1600,520 C1600,490 1663.3,423.3 1700,400 C1736.7,376.7 1798.3,366.7 1820,380 C1841.7,393.3 1850,446.7 1830,480 C1810,513.3 1738.3,573.3 1700,580 C1661.7,586.7 1600,550 1600,520Z" fill="#fff"/>
<path d="M820,330 C845,310 960,291.7 1000,300 C1040,308.3 1063.3,351.7 1060,380 C1056.7,408.3 1015,463.3 980,470 C945,476.7 876.7,443.3 850,420 C823.3,396.7 795,350 820,330Z" fill="#fff"/>
<path d="M1750,60 C1770.8,36.7 1895.8,20 1925,60 C1954.2,100 1945.8,276.7 1925,300 C1904.2,323.3 1829.2,240 1800,200 C1770.8,160 1729.2,83.3 1750,60Z" fill="#fff"/>
<path d="M1100,1100 C1130,1076.7 1246.7,1063.3 1300,1080 C1353.3,1096.7 1420,1170 1420,1200 C1420,1230 1350,1256.7 1300,1260 C1250,1263.3 1153.3,1246.7 1120,1220 C1086.7,1193.3 1070,1123.3 1100,1100Z" fill="#fff"/>
<path d="M700,1000 C716.7,966.7 775,933.3 800,950 C825,966.7 856.7,1058.3 850,1100 C843.3,1141.7 785,1191.7 760,1200 C735,1208.3 710,1183.3 700,1150 C690,1116.7 683.3,1033.3 700,1000Z" fill="#fff"/>
<path d="M1560,700 C1614.2,680 1864.2,670 1925,680 C1985.8,690 1979.2,740 1925,760 C1870.8,780 1660.8,810 1600,800 C1539.2,790 1505.8,720 1560,700Z" fill="#fff"/>
<path d="M1500,1250 C1513.3,1208.3 1613.3,1141.7 1640,1150 C1666.7,1158.3 1673.3,1258.3 1660,1300 C1646.7,1341.7 1586.7,1408.3 1560,1400 C1533.3,1391.7 1486.7,1291.7 1500,1250Z" fill="#fff"/>
<path d="M1550,1360 C1620.8,1340 1862.5,1315 1925,1330 C1987.5,1345 1995.8,1430 1925,1450 C1854.2,1470 1562.5,1465 1500,1450 C1437.5,1435 1479.2,1380 1550,1360Z" fill="#fff"/>
<path d="M400,600 C411.7,576.7 480,553.3 500,560 C520,566.7 531.7,616.7 520,640 C508.3,663.3 450,706.7 430,700 C410,693.3 388.3,623.3 400,600Z" fill="#fff"/>
<path d="M1780,1000 C1800.8,980 1900.8,950 1925,960 C1949.2,970 1945.8,1040 1925,1060 C1904.2,1080 1824.2,1090 1800,1080 C1775.8,1070 1759.2,1020 1780,1000Z" fill="#fff"/>
<ellipse cx="1847" cy="248" rx="46" ry="29" fill="#B8A0E4" transform="rotate(166 1847 248)" opacity="0.5"/>
<ellipse cx="1697" cy="1158" rx="33" ry="19" fill="#AE98E0" transform="rotate(45 1697 1158)" opacity="0.5"/>
<ellipse cx="1155" cy="486" rx="43" ry="34" fill="#AE98E0" transform="rotate(144 1155 486)" opacity="0.5"/>
<ellipse cx="163" cy="508" rx="31" ry="22" fill="#AE98E0" transform="rotate(131 163 508)" opacity="0.5"/>
<ellipse cx="315" cy="1204" rx="31" ry="18" fill="#AE98E0" transform="rotate(8 315 1204)" opacity="0.5"/>
<ellipse cx="835" cy="403" rx="44" ry="31" fill="#B8A0E4" transform="rotate(78 835 403)" opacity="0.5"/>
<ellipse cx="1105" cy="607" rx="38" ry="30" fill="#AE98E0" transform="rotate(110 1105 607)" opacity="0.5"/>
<ellipse cx="1470" cy="1307" rx="30" ry="22" fill="#B8A0E4" transform="rotate(110 1470 1307)" opacity="0.5"/>
<ellipse cx="418" cy="385" rx="36" ry="23" fill="#B8A0E4" transform="rotate(139 418 385)" opacity="0.5"/>
<ellipse cx="301" cy="1139" rx="40" ry="23" fill="#B8A0E4" transform="rotate(105 301 1139)" opacity="0.5"/>
<ellipse cx="277" cy="258" rx="29" ry="17" fill="#AE98E0" transform="rotate(134 277 258)" opacity="0.5"/>
<ellipse cx="1388" cy="1385" rx="43" ry="28" fill="#B8A0E4" transform="rotate(4 1388 1385)" opacity="0.5"/>
<ellipse cx="399" cy="541" rx="30" ry="24" fill="#AE98E0" transform="rotate(111 399 541)" opacity="0.5"/>
<ellipse cx="1362" cy="300" rx="31" ry="26" fill="#B8A0E4" transform="rotate(136 1362 300)" opacity="0.5"/>
<ellipse cx="527" cy="1261" rx="33" ry="19" fill="#C4A8E8" transform="rotate(158 527 1261)" opacity="0.5"/>
<ellipse cx="1784" cy="1216" rx="35" ry="31" fill="#B8A0E4" transform="rotate(52 1784 1216)" opacity="0.5"/>
<ellipse cx="429" cy="736" rx="42" ry="35" fill="#C4A8E8" transform="rotate(64 429 736)" opacity="0.5"/>
<ellipse cx="515" cy="374" rx="29" ry="24" fill="#B8A0E4" transform="rotate(45 515 374)" opacity="0.5"/>
<ellipse cx="1717" cy="954" rx="37" ry="29" fill="#B8A0E4" transform="rotate(124 1717 954)" opacity="0.5"/>
<ellipse cx="452" cy="1185" rx="40" ry="29" fill="#C4A8E8" transform="rotate(35 452 1185)" opacity="0.5"/>
<ellipse cx="249" cy="1233" rx="39" ry="32" fill="#C4A8E8" transform="rotate(131 249 1233)" opacity="0.5"/>
<ellipse cx="542" cy="414" rx="34" ry="30" fill="#C4A8E8" transform="rotate(178 542 414)" opacity="0.5"/>
<ellipse cx="986" cy="242" rx="37" ry="25" fill="#B8A0E4" transform="rotate(99 986 242)" opacity="0.5"/>
<ellipse cx="209" cy="1338" rx="29" ry="22" fill="#B8A0E4" transform="rotate(50 209 1338)" opacity="0.5"/>
<ellipse cx="1095" cy="1259" rx="37" ry="32" fill="#B8A0E4" transform="rotate(29 1095 1259)" opacity="0.5"/>
<ellipse cx="1597" cy="190" rx="31" ry="23" fill="#C4A8E8" transform="rotate(105 1597 190)" opacity="0.5"/>
<ellipse cx="1127" cy="786" rx="34" ry="28" fill="#AE98E0" transform="rotate(13 1127 786)" opacity="0.5"/>
<ellipse cx="651" cy="445" rx="29" ry="27" fill="#C4A8E8" transform="rotate(6 651 445)" opacity="0.5"/>
<ellipse cx="582" cy="602" rx="35" ry="23" fill="#B8A0E4" transform="rotate(159 582 602)" opacity="0.5"/>
<ellipse cx="1848" cy="575" rx="45" ry="34" fill="#B8A0E4" transform="rotate(23 1848 575)" opacity="0.5"/>
<ellipse cx="1588" cy="210" rx="42" ry="32" fill="#B8A0E4" transform="rotate(172 1588 210)" opacity="0.5"/>
<ellipse cx="139" cy="1010" rx="40" ry="28" fill="#C4A8E8" transform="rotate(176 139 1010)" opacity="0.5"/>
<ellipse cx="899" cy="1138" rx="37" ry="29" fill="#AE98E0" transform="rotate(32 899 1138)" opacity="0.5"/>
<ellipse cx="87" cy="1337" rx="33" ry="22" fill="#AE98E0" transform="rotate(50 87 1337)" opacity="0.5"/>
<ellipse cx="1799" cy="523" rx="38" ry="24" fill="#C4A8E8" transform="rotate(170 1799 523)" opacity="0.5"/>
<ellipse cx="540" cy="1265" rx="32" ry="24" fill="#AE98E0" transform="rotate(74 540 1265)" opacity="0.5"/>
<ellipse cx="1123" cy="892" rx="38" ry="26" fill="#C4A8E8" transform="rotate(31 1123 892)" opacity="0.5"/>
<ellipse cx="1138" cy="370" rx="30" ry="26" fill="#B8A0E4" transform="rotate(140 1138 370)" opacity="0.5"/>
<ellipse cx="286" cy="1002" rx="32" ry="19" fill="#C4A8E8" transform="rotate(129 286 1002)" opacity="0.5"/>
<ellipse cx="1266" cy="416" rx="36" ry="31" fill="#B8A0E4" transform="rotate(123 1266 416)" opacity="0.5"/>
<ellipse cx="236" cy="570" rx="31" ry="18" fill="#AE98E0" transform="rotate(171 236 570)" opacity="0.5"/>
<ellipse cx="525" cy="672" rx="41" ry="32" fill="#B8A0E4" transform="rotate(46 525 672)" opacity="0.5"/>
<ellipse cx="730" cy="66" rx="45" ry="32" fill="#C4A8E8" transform="rotate(110 730 66)" opacity="0.5"/>
<ellipse cx="1868" cy="420" rx="39" ry="26" fill="#AE98E0" transform="rotate(83 1868 420)" opacity="0.5"/>
<ellipse cx="1343" cy="803" rx="45" ry="41" fill="#C4A8E8" transform="rotate(168 1343 803)" opacity="0.5"/>
<ellipse cx="1653" cy="595" rx="39" ry="34" fill="#B8A0E4" transform="rotate(72 1653 595)" opacity="0.5"/>
<ellipse cx="719" cy="428" rx="38" ry="36" fill="#B8A0E4" transform="rotate(48 719 428)" opacity="0.5"/>
<ellipse cx="1501" cy="1105" rx="45" ry="39" fill="#C4A8E8" transform="rotate(134 1501 1105)" opacity="0.5"/>
<ellipse cx="1199" cy="765" rx="32" ry="27" fill="#B8A0E4" transform="rotate(7 1199 765)" opacity="0.5"/>
<ellipse cx="1605" cy="217" rx="30" ry="19" fill="#C4A8E8" transform="rotate(106 1605 217)" opacity="0.5"/>
<ellipse cx="264" cy="1262" rx="30" ry="26" fill="#B8A0E4" transform="rotate(174 264 1262)" opacity="0.5"/>
<ellipse cx="1756" cy="330" rx="31" ry="20" fill="#B8A0E4" transform="rotate(172 1756 330)" opacity="0.5"/>
<ellipse cx="475" cy="122" rx="39" ry="23" fill="#C4A8E8" transform="rotate(23 475 122)" opacity="0.5"/>
<ellipse cx="919" cy="776" rx="37" ry="24" fill="#C4A8E8" transform="rotate(67 919 776)" opacity="0.5"/>
<ellipse cx="1063" cy="382" rx="37" ry="24" fill="#B8A0E4" transform="rotate(70 1063 382)" opacity="0.5"/>
<ellipse cx="1001" cy="862" rx="34" ry="29" fill="#C4A8E8" transform="rotate(98 1001 862)" opacity="0.5"/>
<ellipse cx="1686" cy="597" rx="42" ry="25" fill="#C4A8E8" transform="rotate(14 1686 597)" opacity="0.5"/>
<ellipse cx="659" cy="424" rx="30" ry="20" fill="#C4A8E8" transform="rotate(69 659 424)" opacity="0.5"/>
<ellipse cx="1595" cy="444" rx="34" ry="22" fill="#AE98E0" transform="rotate(44 1595 444)" opacity="0.5"/>
<ellipse cx="1476" cy="1091" rx="46" ry="40" fill="#B8A0E4" transform="rotate(110 1476 1091)" opacity="0.5"/>
<ellipse cx="314" cy="1297" rx="36" ry="24" fill="#C4A8E8" transform="rotate(152 314 1297)" opacity="0.5"/>
<ellipse cx="503" cy="717" rx="30" ry="22" fill="#C4A8E8" transform="rotate(145 503 717)" opacity="0.5"/>
<ellipse cx="252" cy="1399" rx="34" ry="29" fill="#B8A0E4" transform="rotate(123 252 1399)" opacity="0.5"/>
<ellipse cx="1332" cy="443" rx="44" ry="31" fill="#C4A8E8" transform="rotate(54 1332 443)" opacity="0.5"/>
<ellipse cx="143" cy="305" rx="32" ry="24" fill="#B8A0E4" transform="rotate(92 143 305)" opacity="0.5"/>
<ellipse cx="1869" cy="1099" rx="30" ry="26" fill="#B8A0E4" transform="rotate(130 1869 1099)" opacity="0.5"/>
<ellipse cx="631" cy="1257" rx="45" ry="38" fill="#B8A0E4" transform="rotate(50 631 1257)" opacity="0.5"/>
<ellipse cx="1054" cy="296" rx="40" ry="24" fill="#B8A0E4" transform="rotate(72 1054 296)" opacity="0.5"/>
<ellipse cx="578" cy="428" rx="29" ry="21" fill="#C4A8E8" transform="rotate(57 578 428)" opacity="0.5"/>
<ellipse cx="516" cy="1342" rx="33" ry="19" fill="#B8A0E4" transform="rotate(160 516 1342)" opacity="0.5"/>
<ellipse cx="607" cy="767" rx="30" ry="28" fill="#AE98E0" transform="rotate(114 607 767)" opacity="0.5"/>
<ellipse cx="1693" cy="76" rx="45" ry="38" fill="#AE98E0" transform="rotate(59 1693 76)" opacity="0.5"/>
<ellipse cx="528" cy="1105" rx="45" ry="30" fill="#B8A0E4" transform="rotate(41 528 1105)" opacity="0.5"/>
<ellipse cx="1596" cy="867" rx="38" ry="34" fill="#C4A8E8" transform="rotate(39 1596 867)" opacity="0.5"/>
<ellipse cx="1528" cy="407" rx="33" ry="19" fill="#AE98E0" transform="rotate(135 1528 407)" opacity="0.5"/>
<ellipse cx="441" cy="721" rx="46" ry="27" fill="#C4A8E8" transform="rotate(157 441 721)" opacity="0.5"/>
<ellipse cx="1360" cy="1302" rx="30" ry="27" fill="#AE98E0" transform="rotate(102 1360 1302)" opacity="0.5"/>
<ellipse cx="1863" cy="282" rx="30" ry="25" fill="#C4A8E8" transform="rotate(59 1863 282)" opacity="0.5"/>
<ellipse cx="106" cy="908" rx="43" ry="25" fill="#B8A0E4" transform="rotate(165 106 908)" opacity="0.5"/>
<ellipse cx="1339" cy="507" rx="35" ry="33" fill="#AE98E0" transform="rotate(109 1339 507)" opacity="0.5"/>
<ellipse cx="887" cy="457" rx="44" ry="40" fill="#C4A8E8" transform="rotate(48 887 457)" opacity="0.5"/>
<ellipse cx="1750" cy="1116" rx="39" ry="34" fill="#B8A0E4" transform="rotate(58 1750 1116)" opacity="0.5"/>
<ellipse cx="757" cy="953" rx="38" ry="22" fill="#C4A8E8" transform="rotate(4 757 953)" opacity="0.5"/>
<ellipse cx="1156" cy="447" rx="37" ry="33" fill="#AE98E0" transform="rotate(45 1156 447)" opacity="0.5"/>
<ellipse cx="1014" cy="500" rx="30" ry="25" fill="#C4A8E8" transform="rotate(2 1014 500)" opacity="0.5"/>
<ellipse cx="282" cy="1052" rx="33" ry="19" fill="#AE98E0" transform="rotate(127 282 1052)" opacity="0.5"/>
<ellipse cx="79" cy="1356" rx="28" ry="23" fill="#AE98E0" transform="rotate(160 79 1356)" opacity="0.5"/>
<ellipse cx="142" cy="1068" rx="32" ry="25" fill="#C4A8E8" transform="rotate(16 142 1068)" opacity="0.5"/>
<ellipse cx="339" cy="1161" rx="33" ry="18" fill="#B8A0E4" transform="rotate(135 339 1161)" opacity="0.5"/>
<ellipse cx="176" cy="947" rx="43" ry="27" fill="#B8A0E4" transform="rotate(82 176 947)" opacity="0.5"/>
<ellipse cx="1581" cy="798" rx="40" ry="30" fill="#B8A0E4" transform="rotate(1 1581 798)" opacity="0.5"/>
<ellipse cx="298" cy="1287" rx="29" ry="16" fill="#AE98E0" transform="rotate(67 298 1287)" opacity="0.5"/>
<ellipse cx="595" cy="1266" rx="41" ry="23" fill="#B8A0E4" transform="rotate(51 595 1266)" opacity="0.5"/>
<ellipse cx="88" cy="1039" rx="34" ry="31" fill="#AE98E0" transform="rotate(13 88 1039)" opacity="0.5"/>
<ellipse cx="702" cy="1370" rx="46" ry="41" fill="#AE98E0" transform="rotate(172 702 1370)" opacity="0.5"/>
<ellipse cx="130" cy="428" rx="29" ry="16" fill="#AE98E0" transform="rotate(76 130 428)" opacity="0.5"/>
<ellipse cx="65" cy="411" rx="42" ry="26" fill="#B8A0E4" transform="rotate(5 65 411)" opacity="0.5"/>
<ellipse cx="1857" cy="1120" rx="40" ry="34" fill="#B8A0E4" transform="rotate(63 1857 1120)" opacity="0.5"/>
<ellipse cx="1032" cy="1293" rx="33" ry="27" fill="#C4A8E8" transform="rotate(37 1032 1293)" opacity="0.5"/>
<ellipse cx="1025" cy="1278" rx="28" ry="19" fill="#AE98E0" transform="rotate(43 1025 1278)" opacity="0.5"/>
<ellipse cx="1370" cy="65" rx="31" ry="23" fill="#C4A8E8" transform="rotate(146 1370 65)" opacity="0.5"/>
<ellipse cx="964" cy="1118" rx="37" ry="24" fill="#B8A0E4" transform="rotate(161 964 1118)" opacity="0.5"/>
<ellipse cx="1359" cy="1130" rx="29" ry="18" fill="#C4A8E8" transform="rotate(4 1359 1130)" opacity="0.5"/>
<ellipse cx="438" cy="1447" rx="36" ry="22" fill="#C4A8E8" transform="rotate(37 438 1447)" opacity="0.5"/>
<ellipse cx="985" cy="159" rx="43" ry="23" fill="#AE98E0" transform="rotate(60 985 159)" opacity="0.5"/>
<ellipse cx="1025" cy="1085" rx="45" ry="27" fill="#C4A8E8" transform="rotate(78 1025 1085)" opacity="0.5"/>
<ellipse cx="1222" cy="131" rx="42" ry="29" fill="#AE98E0" transform="rotate(16 1222 131)" opacity="0.5"/>
<ellipse cx="1536" cy="1346" rx="41" ry="24" fill="#C4A8E8" transform="rotate(110 1536 1346)" opacity="0.5"/>
<ellipse cx="1227" cy="797" rx="36" ry="20" fill="#AE98E0" transform="rotate(96 1227 797)" opacity="0.5"/>
<ellipse cx="1814" cy="217" rx="39" ry="34" fill="#C4A8E8" transform="rotate(49 1814 217)" opacity="0.5"/>
<ellipse cx="205" cy="952" rx="32" ry="28" fill="#AE98E0" transform="rotate(23 205 952)" opacity="0.5"/>
<ellipse cx="1524" cy="380" rx="40" ry="33" fill="#C4A8E8" transform="rotate(72 1524 380)" opacity="0.5"/>
<ellipse cx="1400" cy="66" rx="40" ry="34" fill="#C4A8E8" transform="rotate(15 1400 66)" opacity="0.5"/>
<ellipse cx="1835" cy="435" rx="36" ry="30" fill="#B8A0E4" transform="rotate(161 1835 435)" opacity="0.5"/>
<ellipse cx="1310" cy="316" rx="44" ry="28" fill="#AE98E0" transform="rotate(46 1310 316)" opacity="0.5"/>
<ellipse cx="318" cy="1107" rx="43" ry="37" fill="#AE98E0" transform="rotate(70 318 1107)" opacity="0.5"/>
<ellipse cx="55" cy="903" rx="36" ry="30" fill="#AE98E0" transform="rotate(62 55 903)" opacity="0.5"/>
<ellipse cx="108" cy="1158" rx="37" ry="21" fill="#B8A0E4" transform="rotate(169 108 1158)" opacity="0.5"/>
<ellipse cx="553" cy="1387" rx="30" ry="21" fill="#B8A0E4" transform="rotate(26 553 1387)" opacity="0.5"/>
<ellipse cx="283" cy="583" rx="28" ry="21" fill="#AE98E0" transform="rotate(118 283 583)" opacity="0.5"/>
<ellipse cx="1314" cy="1368" rx="31" ry="25" fill="#AE98E0" transform="rotate(116 1314 1368)" opacity="0.5"/>
<ellipse cx="985" cy="940" rx="35" ry="32" fill="#AE98E0" transform="rotate(48 985 940)" opacity="0.5"/>
<ellipse cx="1453" cy="925" rx="28" ry="26" fill="#C4A8E8" transform="rotate(26 1453 925)" opacity="0.5"/>
<ellipse cx="1665" cy="1245" rx="41" ry="34" fill="#B8A0E4" transform="rotate(142 1665 1245)" opacity="0.5"/>
<ellipse cx="530" cy="982" rx="35" ry="29" fill="#C4A8E8" transform="rotate(165 530 982)" opacity="0.5"/>
<ellipse cx="1335" cy="81" rx="36" ry="27" fill="#AE98E0" transform="rotate(49 1335 81)" opacity="0.5"/>
<ellipse cx="389" cy="1300" rx="35" ry="28" fill="#C4A8E8" transform="rotate(91 389 1300)" opacity="0.5"/>
<ellipse cx="1691" cy="1255" rx="38" ry="30" fill="#C4A8E8" transform="rotate(117 1691 1255)" opacity="0.5"/>
<ellipse cx="1777" cy="285" rx="39" ry="25" fill="#AE98E0" transform="rotate(162 1777 285)" opacity="0.5"/>
<ellipse cx="697" cy="576" rx="32" ry="19" fill="#C4A8E8" transform="rotate(2 697 576)" opacity="0.5"/>
<ellipse cx="1363" cy="322" rx="29" ry="21" fill="#AE98E0" transform="rotate(153 1363 322)" opacity="0.5"/>
<ellipse cx="1476" cy="1207" rx="29" ry="22" fill="#AE98E0" transform="rotate(118 1476 1207)" opacity="0.5"/>
<ellipse cx="269" cy="927" rx="43" ry="28" fill="#C4A8E8" transform="rotate(178 269 927)" opacity="0.5"/>
<ellipse cx="896" cy="114" rx="31" ry="18" fill="#B8A0E4" transform="rotate(82 896 114)" opacity="0.5"/>
<ellipse cx="1165" cy="790" rx="35" ry="24" fill="#B8A0E4" transform="rotate(19 1165 790)" opacity="0.5"/>
<ellipse cx="1824" cy="295" rx="34" ry="32" fill="#B8A0E4" transform="rotate(84 1824 295)" opacity="0.5"/>
<ellipse cx="1729" cy="1326" rx="45" ry="35" fill="#C4A8E8" transform="rotate(22 1729 1326)" opacity="0.5"/>
<ellipse cx="882" cy="745" rx="41" ry="27" fill="#C4A8E8" transform="rotate(39 882 745)" opacity="0.5"/>
<ellipse cx="580" cy="1134" rx="28" ry="25" fill="#C4A8E8" transform="rotate(176 580 1134)" opacity="0.5"/>
<ellipse cx="877" cy="459" rx="36" ry="28" fill="#AE98E0" transform="rotate(74 877 459)" opacity="0.5"/>
<ellipse cx="1863" cy="916" rx="28" ry="20" fill="#AE98E0" transform="rotate(125 1863 916)" opacity="0.5"/>
<ellipse cx="1379" cy="322" rx="31" ry="22" fill="#C4A8E8" transform="rotate(53 1379 322)" opacity="0.5"/>
<ellipse cx="647" cy="1285" rx="45" ry="41" fill="#C4A8E8" transform="rotate(96 647 1285)" opacity="0.5"/>
<ellipse cx="450" cy="104" rx="37" ry="23" fill="#B8A0E4" transform="rotate(28 450 104)" opacity="0.5"/>
<ellipse cx="176" cy="626" rx="33" ry="22" fill="#B8A0E4" transform="rotate(15 176 626)" opacity="0.5"/>
<ellipse cx="1084" cy="1385" rx="41" ry="23" fill="#C4A8E8" transform="rotate(76 1084 1385)" opacity="0.5"/>
<ellipse cx="1068" cy="1302" rx="42" ry="31" fill="#C4A8E8" transform="rotate(69 1068 1302)" opacity="0.5"/>
<ellipse cx="1434" cy="1104" rx="43" ry="24" fill="#AE98E0" transform="rotate(14 1434 1104)" opacity="0.5"/>
<ellipse cx="718" cy="1382" rx="29" ry="16" fill="#AE98E0" transform="rotate(12 718 1382)" opacity="0.5"/>
<ellipse cx="985" cy="979" rx="46" ry="34" fill="#B8A0E4" transform="rotate(148 985 979)" opacity="0.5"/>
<ellipse cx="358" cy="1015" rx="21" ry="13" fill="#7868C6" transform="rotate(131 358 1015)"/>
<ellipse cx="75" cy="1354" rx="17" ry="14" fill="#4636A4" transform="rotate(177 75 1354)"/>
<ellipse cx="127" cy="1445" rx="26" ry="20" fill="#5646B6" transform="rotate(84 127 1445)"/>
<ellipse cx="214" cy="1181" rx="17" ry="14" fill="#7868C6" transform="rotate(124 214 1181)"/>
<ellipse cx="332" cy="980" rx="25" ry="14" fill="#4636A4" transform="rotate(53 332 980)"/>
<ellipse cx="776" cy="528" rx="21" ry="14" fill="#7868C6" transform="rotate(128 776 528)"/>
<ellipse cx="772" cy="1441" rx="15" ry="9" fill="#7868C6"/>
<ellipse cx="465" cy="902" rx="22" ry="14" fill="#4636A4" transform="rotate(160 465 902)"/>
<ellipse cx="702" cy="1346" rx="22" ry="15" fill="#5646B6" transform="rotate(43 702 1346)"/>
<ellipse cx="171" cy="1188" rx="19" ry="16" fill="#4636A4" transform="rotate(104 171 1188)"/>
<ellipse cx="75" cy="536" rx="23" ry="21" fill="#4636A4" transform="rotate(41 75 536)"/>
<ellipse cx="1440" cy="132" rx="25" ry="21" fill="#5646B6" transform="rotate(107 1440 132)"/>
<ellipse cx="1259" cy="256" rx="24" ry="14" fill="#4636A4" transform="rotate(166 1259 256)"/>
<ellipse cx="1035" cy="1069" rx="18" ry="16" fill="#4636A4" transform="rotate(94 1035 1069)"/>
<ellipse cx="566" cy="1124" rx="23" ry="22" fill="#5646B6" transform="rotate(67 566 1124)"/>
<ellipse cx="1145" cy="411" rx="27" ry="24" fill="#4636A4" transform="rotate(36 1145 411)"/>
<ellipse cx="226" cy="183" rx="20" ry="12" fill="#5646B6" transform="rotate(167 226 183)"/>
<ellipse cx="389" cy="1249" rx="24" ry="20" fill="#5646B6" transform="rotate(2 389 1249)"/>
<ellipse cx="776" cy="1259" rx="22" ry="19" fill="#4636A4" transform="rotate(64 776 1259)"/>
<ellipse cx="659" cy="333" rx="23" ry="16" fill="#5646B6" transform="rotate(166 659 333)"/>
<ellipse cx="186" cy="1189" rx="20" ry="16" fill="#5646B6" transform="rotate(174 186 1189)"/>
<ellipse cx="779" cy="613" rx="16" ry="11" fill="#4636A4" transform="rotate(70 779 613)"/>
<ellipse cx="208" cy="722" rx="24" ry="21" fill="#7868C6" transform="rotate(160 208 722)"/>
<ellipse cx="951" cy="748" rx="20" ry="15" fill="#5646B6" transform="rotate(41 951 748)"/>
<ellipse cx="635" cy="487" rx="17" ry="13" fill="#5646B6" transform="rotate(133 635 487)"/>
<ellipse cx="616" cy="1369" rx="21" ry="12" fill="#4636A4" transform="rotate(110 616 1369)"/>
<ellipse cx="336" cy="1003" rx="22" ry="15" fill="#7868C6" transform="rotate(40 336 1003)"/>
<ellipse cx="1206" cy="444" rx="20" ry="13" fill="#4636A4" transform="rotate(55 1206 444)"/>
<ellipse cx="113" cy="1183" rx="23" ry="13" fill="#5646B6" transform="rotate(101 113 1183)"/>
<ellipse cx="1189" cy="1030" rx="15" ry="12" fill="#5646B6" transform="rotate(79 1189 1030)"/>
<ellipse cx="405" cy="569" rx="17" ry="13" fill="#7868C6" transform="rotate(135 405 569)"/>
<ellipse cx="1626" cy="483" rx="26" ry="17" fill="#7868C6" transform="rotate(4 1626 483)"/>
<ellipse cx="1284" cy="154" rx="25" ry="24" fill="#4636A4" transform="rotate(38 1284 154)"/>
<ellipse cx="160" cy="1190" rx="22" ry="17" fill="#6A58BE" transform="rotate(39 160 1190)"/>
<ellipse cx="554" cy="545" rx="23" ry="20" fill="#5646B6" transform="rotate(171 554 545)"/>
<ellipse cx="404" cy="429" rx="15" ry="12" fill="#7868C6" transform="rotate(40 404 429)"/>
<ellipse cx="109" cy="377" rx="18" ry="11" fill="#4636A4" transform="rotate(134 109 377)"/>
<ellipse cx="843" cy="505" rx="21" ry="18" fill="#4636A4" transform="rotate(5 843 505)"/>
<ellipse cx="1380" cy="741" rx="25" ry="22" fill="#6A58BE" transform="rotate(173 1380 741)"/>
<ellipse cx="152" cy="1003" rx="22" ry="18" fill="#5646B6" transform="rotate(79 152 1003)"/>
<ellipse cx="1538" cy="68" rx="22" ry="18" fill="#7868C6" transform="rotate(165 1538 68)"/>
<ellipse cx="987" cy="628" rx="21" ry="14" fill="#7868C6" transform="rotate(92 987 628)"/>
<ellipse cx="1756" cy="387" rx="19" ry="16" fill="#6A58BE" transform="rotate(146 1756 387)"/>
<ellipse cx="1030" cy="1302" rx="16" ry="11" fill="#7868C6" transform="rotate(157 1030 1302)"/>
<ellipse cx="1270" cy="405" rx="20" ry="15" fill="#6A58BE" transform="rotate(10 1270 405)"/>
<ellipse cx="1057" cy="692" rx="25" ry="20" fill="#6A58BE" transform="rotate(35 1057 692)"/>
<ellipse cx="1420" cy="1439" rx="20" ry="11" fill="#6A58BE" transform="rotate(147 1420 1439)"/>
<ellipse cx="1610" cy="691" rx="25" ry="20" fill="#7868C6" transform="rotate(172 1610 691)"/>
<ellipse cx="986" cy="696" rx="23" ry="18" fill="#5646B6" transform="rotate(65 986 696)"/>
<ellipse cx="1458" cy="575" rx="24" ry="21" fill="#4636A4" transform="rotate(152 1458 575)"/>
<ellipse cx="626" cy="937" rx="25" ry="16" fill="#6A58BE" transform="rotate(165 626 937)"/>
<ellipse cx="458" cy="341" rx="24" ry="15" fill="#6A58BE" transform="rotate(166 458 341)"/>
<ellipse cx="161" cy="1108" rx="21" ry="20" fill="#4636A4" transform="rotate(152 161 1108)"/>
<ellipse cx="1370" cy="733" rx="22" ry="16" fill="#5646B6" transform="rotate(162 1370 733)"/>
<ellipse cx="1833" cy="251" rx="20" ry="16" fill="#4636A4" transform="rotate(112 1833 251)"/>
<ellipse cx="1142" cy="173" rx="17" ry="15" fill="#6A58BE" transform="rotate(177 1142 173)"/>
<ellipse cx="664" cy="353" rx="17" ry="11" fill="#4636A4" transform="rotate(39 664 353)"/>
<ellipse cx="463" cy="208" rx="16" ry="12" fill="#5646B6" transform="rotate(52 463 208)"/>
<ellipse cx="1363" cy="343" rx="24" ry="16" fill="#5646B6" transform="rotate(62 1363 343)"/>
<ellipse cx="1025" cy="978" rx="19" ry="13" fill="#6A58BE" transform="rotate(106 1025 978)"/>
<ellipse cx="1496" cy="861" rx="26" ry="15" fill="#6A58BE" transform="rotate(120 1496 861)"/>
<ellipse cx="1399" cy="793" rx="19" ry="16" fill="#6A58BE" transform="rotate(99 1399 793)"/>
<ellipse cx="307" cy="1059" rx="20" ry="13" fill="#7868C6" transform="rotate(59 307 1059)"/>
<ellipse cx="140" cy="1093" rx="21" ry="13" fill="#7868C6" transform="rotate(55 140 1093)"/>
<ellipse cx="1092" cy="560" rx="21" ry="14" fill="#6A58BE" transform="rotate(111 1092 560)"/>
<ellipse cx="398" cy="1327" rx="17" ry="10" fill="#4636A4" transform="rotate(42 398 1327)"/>
<ellipse cx="481" cy="960" rx="24" ry="18" fill="#7868C6" transform="rotate(48 481 960)"/>
<ellipse cx="1346" cy="722" rx="26" ry="23" fill="#4636A4" transform="rotate(73 1346 722)"/>
<ellipse cx="1858" cy="1279" rx="27" ry="18" fill="#7868C6" transform="rotate(42 1858 1279)"/>
<ellipse cx="1402" cy="91" rx="26" ry="17" fill="#4636A4" transform="rotate(31 1402 91)"/>
<ellipse cx="856" cy="979" rx="17" ry="12" fill="#4636A4" transform="rotate(1 856 979)"/>
<ellipse cx="1464" cy="284" rx="21" ry="12" fill="#6A58BE" transform="rotate(28 1464 284)"/>
<ellipse cx="1833" cy="826" rx="15" ry="11" fill="#6A58BE" transform="rotate(118 1833 826)"/>
<ellipse cx="1636" cy="241" rx="26" ry="18" fill="#4636A4" transform="rotate(23 1636 241)"/>
<ellipse cx="571" cy="1146" rx="19" ry="12" fill="#6A58BE" transform="rotate(177 571 1146)"/>
<ellipse cx="365" cy="1114" rx="26" ry="18" fill="#6A58BE" transform="rotate(83 365 1114)"/>
<ellipse cx="506" cy="500" rx="20" ry="18" fill="#5646B6" transform="rotate(158 506 500)"/>
<ellipse cx="1859" cy="1334" rx="23" ry="20" fill="#4636A4" transform="rotate(157 1859 1334)"/>
<ellipse cx="871" cy="122" rx="21" ry="19" fill="#7868C6" transform="rotate(42 871 122)"/>
<ellipse cx="65" cy="1122" rx="21" ry="18" fill="#5646B6" transform="rotate(161 65 1122)"/>
<ellipse cx="1248" cy="1409" rx="26" ry="16" fill="#7868C6" transform="rotate(167 1248 1409)"/>
<ellipse cx="636" cy="417" rx="21" ry="13" fill="#5646B6" transform="rotate(20 636 417)"/>
<ellipse cx="1252" cy="1292" rx="21" ry="16" fill="#4636A4" transform="rotate(168 1252 1292)"/>
<ellipse cx="1083" cy="442" rx="22" ry="15" fill="#7868C6" transform="rotate(136 1083 442)"/>
<ellipse cx="1681" cy="336" rx="21" ry="20" fill="#4636A4" transform="rotate(24 1681 336)"/>
<ellipse cx="951" cy="885" rx="21" ry="12" fill="#5646B6" transform="rotate(75 951 885)"/>
<ellipse cx="1296" cy="607" rx="24" ry="15" fill="#6A58BE" transform="rotate(64 1296 607)"/>
<ellipse cx="750" cy="528" rx="16" ry="13" fill="#4636A4" transform="rotate(47 750 528)"/>
<ellipse cx="242" cy="967" rx="17" ry="13" fill="#6A58BE" transform="rotate(152 242 967)"/>
<ellipse cx="1599" cy="845" rx="27" ry="19" fill="#6A58BE" transform="rotate(118 1599 845)"/>
<ellipse cx="356" cy="1172" rx="16" ry="13" fill="#4636A4" transform="rotate(25 356 1172)"/>
<ellipse cx="763" cy="963" rx="25" ry="18" fill="#5646B6" transform="rotate(102 763 963)"/>
<ellipse cx="149" cy="1121" rx="22" ry="13" fill="#7868C6" transform="rotate(22 149 1121)"/>
<ellipse cx="1707" cy="1171" rx="23" ry="13" fill="#6A58BE" transform="rotate(61 1707 1171)"/>
<ellipse cx="1508" cy="583" rx="26" ry="24" fill="#4636A4" transform="rotate(80 1508 583)"/>
<ellipse cx="425" cy="930" rx="27" ry="20" fill="#7868C6" transform="rotate(27 425 930)"/>
<ellipse cx="1744" cy="1102" rx="25" ry="17" fill="#7868C6" transform="rotate(48 1744 1102)"/>
<ellipse cx="829" cy="369" rx="17" ry="11" fill="#4636A4" transform="rotate(13 829 369)"/>
<ellipse cx="419" cy="207" rx="25" ry="22" fill="#6A58BE" transform="rotate(9 419 207)"/>
<ellipse cx="958" cy="586" rx="19" ry="14" fill="#6A58BE" transform="rotate(6 958 586)"/>
<ellipse cx="85" cy="1301" rx="21" ry="19" fill="#7868C6" transform="rotate(80 85 1301)"/>
<ellipse cx="200" cy="1241" rx="23" ry="15" fill="#6A58BE" transform="rotate(78 200 1241)"/>
<ellipse cx="471" cy="87" rx="20" ry="16" fill="#5646B6" transform="rotate(134 471 87)"/>
<ellipse cx="456" cy="271" rx="23" ry="18" fill="#4636A4"/>
<ellipse cx="1770" cy="253" rx="15" ry="13" fill="#4636A4" transform="rotate(122 1770 253)"/>
<ellipse cx="1778" cy="938" rx="26" ry="23" fill="#6A58BE" transform="rotate(13 1778 938)"/>
<ellipse cx="1671" cy="234" rx="20" ry="19" fill="#6A58BE" transform="rotate(92 1671 234)"/>
<ellipse cx="392" cy="1235" rx="22" ry="19" fill="#6A58BE" transform="rotate(62 392 1235)"/>
<ellipse cx="1040" cy="940" rx="20" ry="16" fill="#6A58BE" transform="rotate(86 1040 940)"/>
<ellipse cx="1019" cy="111" rx="26" ry="25" fill="#7868C6" transform="rotate(81 1019 111)"/>
<ellipse cx="546" cy="1359" rx="15" ry="10" fill="#7868C6" transform="rotate(172 546 1359)"/>
<ellipse cx="465" cy="962" rx="22" ry="14" fill="#7868C6" transform="rotate(156 465 962)"/>
<ellipse cx="197" cy="291" rx="17" ry="12" fill="#6A58BE" transform="rotate(141 197 291)"/>
<ellipse cx="1748" cy="1264" rx="19" ry="12" fill="#6A58BE" transform="rotate(146 1748 1264)"/>
<ellipse cx="1199" cy="365" rx="19" ry="13" fill="#6A58BE" transform="rotate(153 1199 365)"/>
<ellipse cx="811" cy="101" rx="20" ry="16" fill="#4636A4" transform="rotate(166 811 101)"/>
<ellipse cx="1905" cy="1151" rx="17" ry="12" fill="#7868C6" transform="rotate(17 1905 1151)"/>
<ellipse cx="1393" cy="415" rx="20" ry="14" fill="#5646B6" transform="rotate(111 1393 415)"/>
<ellipse cx="465" cy="124" rx="21" ry="17" fill="#5646B6" transform="rotate(74 465 124)"/>
<ellipse cx="1385" cy="794" rx="25" ry="17" fill="#7868C6" transform="rotate(67 1385 794)"/>
<ellipse cx="738" cy="1235" rx="22" ry="16" fill="#4636A4" transform="rotate(79 738 1235)"/>
<ellipse cx="701" cy="672" rx="19" ry="12" fill="#4636A4" transform="rotate(33 701 672)"/>
<ellipse cx="451" cy="374" rx="26" ry="16" fill="#6A58BE" transform="rotate(16 451 374)"/>
<ellipse cx="332" cy="900" rx="25" ry="22" fill="#6A58BE" transform="rotate(49 332 900)"/>
<ellipse cx="780" cy="589" rx="17" ry="14" fill="#4636A4" transform="rotate(22 780 589)"/>
<ellipse cx="1839" cy="673" rx="20" ry="19" fill="#6A58BE" transform="rotate(158 1839 673)"/>
<ellipse cx="1366" cy="144" rx="27" ry="18" fill="#5646B6" transform="rotate(119 1366 144)"/>
<ellipse cx="1470" cy="821" rx="21" ry="16" fill="#5646B6" transform="rotate(55 1470 821)"/>
<ellipse cx="612" cy="1379" rx="15" ry="13" fill="#7868C6" transform="rotate(33 612 1379)"/>
<ellipse cx="416" cy="1168" rx="26" ry="16" fill="#4636A4" transform="rotate(35 416 1168)"/>
<ellipse cx="394" cy="595" rx="26" ry="22" fill="#5646B6" transform="rotate(62 394 595)"/>
<ellipse cx="819" cy="1206" rx="19" ry="13" fill="#4636A4" transform="rotate(128 819 1206)"/>
<ellipse cx="970" cy="220" rx="16" ry="12" fill="#4636A4" transform="rotate(2 970 220)"/>
<ellipse cx="1285" cy="1421" rx="18" ry="12" fill="#4636A4" transform="rotate(179 1285 1421)"/>
<ellipse cx="508" cy="1303" rx="23" ry="19" fill="#5646B6" transform="rotate(95 508 1303)"/>
<ellipse cx="99" cy="1112" rx="23" ry="17" fill="#5646B6" transform="rotate(153 99 1112)"/>
<ellipse cx="1037" cy="205" rx="15" ry="12" fill="#7868C6" transform="rotate(72 1037 205)"/>
<ellipse cx="803" cy="163" rx="15" ry="13" fill="#5646B6" transform="rotate(8 803 163)"/>
<ellipse cx="1825" cy="1332" rx="20" ry="18" fill="#4636A4" transform="rotate(38 1825 1332)"/>
<ellipse cx="1689" cy="916" rx="21" ry="17" fill="#5646B6" transform="rotate(158 1689 916)"/>
<ellipse cx="516" cy="546" rx="16" ry="13" fill="#7868C6" transform="rotate(57 516 546)"/>
<ellipse cx="506" cy="767" rx="24" ry="15" fill="#5646B6" transform="rotate(116 506 767)"/>
<ellipse cx="863" cy="1431" rx="17" ry="15" fill="#5646B6" transform="rotate(125 863 1431)"/>
<ellipse cx="1863" cy="678" rx="21" ry="20" fill="#5646B6" transform="rotate(69 1863 678)"/>
<ellipse cx="1461" cy="1141" rx="22" ry="14" fill="#5646B6" transform="rotate(133 1461 1141)"/>
<ellipse cx="936" cy="935" rx="21" ry="12" fill="#4636A4" transform="rotate(51 936 935)"/>
<ellipse cx="624" cy="617" rx="22" ry="13" fill="#7868C6" transform="rotate(60 624 617)"/>
<ellipse cx="1241" cy="742" rx="25" ry="19" fill="#4636A4" transform="rotate(22 1241 742)"/>
<ellipse cx="693" cy="649" rx="25" ry="16" fill="#5646B6" transform="rotate(31 693 649)"/>
<ellipse cx="1704" cy="1207" rx="19" ry="11" fill="#5646B6" transform="rotate(46 1704 1207)"/>
<ellipse cx="1359" cy="1251" rx="21" ry="19" fill="#4636A4" transform="rotate(142 1359 1251)"/>
<ellipse cx="1082" cy="191" rx="16" ry="15" fill="#5646B6" transform="rotate(179 1082 191)"/>
<ellipse cx="940" cy="1198" rx="20" ry="17" fill="#4636A4" transform="rotate(83 940 1198)"/>
<ellipse cx="847" cy="1121" rx="20" ry="17" fill="#7868C6" transform="rotate(47 847 1121)"/>
<ellipse cx="1463" cy="1315" rx="21" ry="19" fill="#5646B6" transform="rotate(37 1463 1315)"/>
<ellipse cx="1591" cy="363" rx="22" ry="13" fill="#5646B6" transform="rotate(164 1591 363)"/>
<ellipse cx="1090" cy="1370" rx="25" ry="23" fill="#5646B6" transform="rotate(32 1090 1370)"/>
<ellipse cx="300" cy="1386" rx="17" ry="11" fill="#6A58BE" transform="rotate(24 300 1386)"/>
<ellipse cx="80" cy="1010" rx="22" ry="15" fill="#5646B6" transform="rotate(108 80 1010)"/>
<ellipse cx="87" cy="425" rx="24" ry="15" fill="#5646B6" transform="rotate(42 87 425)"/>
<ellipse cx="713" cy="1383" rx="21" ry="18" fill="#7868C6" transform="rotate(152 713 1383)"/>
<ellipse cx="895" cy="233" rx="25" ry="16" fill="#6A58BE" transform="rotate(60 895 233)"/>
<ellipse cx="171" cy="686" rx="27" ry="22" fill="#4636A4" transform="rotate(59 171 686)"/>
<ellipse cx="870" cy="1032" rx="22" ry="17" fill="#5646B6" transform="rotate(52 870 1032)"/>
<ellipse cx="1676" cy="680" rx="18" ry="16" fill="#4636A4" transform="rotate(87 1676 680)"/>
<ellipse cx="1089" cy="194" rx="26" ry="17" fill="#4636A4" transform="rotate(74 1089 194)"/>
<ellipse cx="1130" cy="1369" rx="19" ry="14" fill="#7868C6" transform="rotate(178 1130 1369)"/>
<ellipse cx="183" cy="1303" rx="22" ry="17" fill="#6A58BE" transform="rotate(40 183 1303)"/>
<ellipse cx="552" cy="1329" rx="19" ry="14" fill="#5646B6" transform="rotate(61 552 1329)"/>
<ellipse cx="937" cy="136" rx="16" ry="14" fill="#7868C6" transform="rotate(144 937 136)"/>
<ellipse cx="1065" cy="659" rx="18" ry="15" fill="#4636A4" transform="rotate(34 1065 659)"/>
<ellipse cx="382" cy="171" rx="25" ry="18" fill="#7868C6" transform="rotate(150 382 171)"/>
<ellipse cx="988" cy="116" rx="18" ry="13" fill="#6A58BE" transform="rotate(127 988 116)"/>
<ellipse cx="1026" cy="1252" rx="19" ry="17" fill="#6A58BE" transform="rotate(159 1026 1252)"/>
<ellipse cx="232" cy="1441" rx="23" ry="13" fill="#6A58BE" transform="rotate(79 232 1441)"/>
<ellipse cx="559" cy="1052" rx="16" ry="10" fill="#4636A4" transform="rotate(51 559 1052)"/>
<ellipse cx="621" cy="76" rx="24" ry="19" fill="#5646B6" transform="rotate(116 621 76)"/>
<ellipse cx="460" cy="1120" rx="16" ry="11" fill="#6A58BE" transform="rotate(162 460 1120)"/>
<ellipse cx="807" cy="1270" rx="24" ry="14" fill="#4636A4" transform="rotate(138 807 1270)"/>
<ellipse cx="386" cy="565" rx="16" ry="13" fill="#4636A4" transform="rotate(112 386 565)"/>
<ellipse cx="313" cy="1291" rx="20" ry="12" fill="#7868C6" transform="rotate(68 313 1291)"/>
<ellipse cx="735" cy="523" rx="21" ry="15" fill="#5646B6" transform="rotate(101 735 523)"/>
<ellipse cx="257" cy="1002" rx="21" ry="15" fill="#5646B6" transform="rotate(1 257 1002)"/>
<ellipse cx="608" cy="1375" rx="24" ry="16" fill="#5646B6" transform="rotate(11 608 1375)"/>
<ellipse cx="243" cy="433" rx="21" ry="13" fill="#5646B6" transform="rotate(138 243 433)"/>
<ellipse cx="1554" cy="432" rx="27" ry="18" fill="#4636A4" transform="rotate(169 1554 432)"/>
<ellipse cx="289" cy="1326" rx="16" ry="13" fill="#6A58BE" transform="rotate(70 289 1326)"/>
<ellipse cx="577" cy="1012" rx="16" ry="11" fill="#4636A4" transform="rotate(18 577 1012)"/>
<ellipse cx="684" cy="1146" rx="24" ry="22" fill="#5646B6" transform="rotate(99 684 1146)"/>
<ellipse cx="954" cy="114" rx="23" ry="21" fill="#4636A4" transform="rotate(69 954 114)"/>
<ellipse cx="1872" cy="680" rx="16" ry="10" fill="#7868C6" transform="rotate(23 1872 680)"/>
<ellipse cx="828" cy="81" rx="23" ry="18" fill="#5646B6" transform="rotate(165 828 81)"/>
<ellipse cx="1650" cy="1001" rx="16" ry="13" fill="#5646B6" transform="rotate(113 1650 1001)"/>
<ellipse cx="923" cy="208" rx="25" ry="16" fill="#4636A4" transform="rotate(65 923 208)"/>
<ellipse cx="78" cy="917" rx="24" ry="15" fill="#6A58BE" transform="rotate(95 78 917)"/>
<ellipse cx="202" cy="1156" rx="18" ry="14" fill="#7868C6" transform="rotate(132 202 1156)"/>
<ellipse cx="978" cy="1107" rx="22" ry="17" fill="#4636A4" transform="rotate(25 978 1107)"/>
<ellipse cx="1442" cy="1227" rx="17" ry="13" fill="#4636A4" transform="rotate(38 1442 1227)"/>
<ellipse cx="467" cy="1173" rx="18" ry="14" fill="#7868C6" transform="rotate(19 467 1173)"/>
<ellipse cx="1418" cy="767" rx="22" ry="15" fill="#7868C6" transform="rotate(93 1418 767)"/>
<ellipse cx="239" cy="921" rx="15" ry="9" fill="#7868C6" transform="rotate(59 239 921)"/>
<ellipse cx="781" cy="268" rx="18" ry="16" fill="#4636A4" transform="rotate(115 781 268)"/>
<ellipse cx="1495" cy="1283" rx="27" ry="19" fill="#4636A4" transform="rotate(38 1495 1283)"/>
<ellipse cx="1598" cy="1130" rx="19" ry="17" fill="#4636A4" transform="rotate(44 1598 1130)"/>
<ellipse cx="780" cy="949" rx="18" ry="17" fill="#7868C6" transform="rotate(112 780 949)"/>
<ellipse cx="1434" cy="1050" rx="18" ry="17" fill="#6A58BE" transform="rotate(20 1434 1050)"/>
<ellipse cx="1315" cy="1376" rx="26" ry="20" fill="#4636A4" transform="rotate(123 1315 1376)"/>
<ellipse cx="1258" cy="1219" rx="16" ry="12" fill="#7868C6" transform="rotate(65 1258 1219)"/>
<ellipse cx="110" cy="1289" rx="18" ry="16" fill="#5646B6" transform="rotate(68 110 1289)"/>
<ellipse cx="1691" cy="973" rx="27" ry="24" fill="#6A58BE" transform="rotate(144 1691 973)"/>
<ellipse cx="661" cy="505" rx="16" ry="10" fill="#7868C6" transform="rotate(81 661 505)"/>
<ellipse cx="1839" cy="249" rx="17" ry="14" fill="#4636A4" transform="rotate(111 1839 249)"/>
<ellipse cx="860" cy="1106" rx="24" ry="20" fill="#5646B6" transform="rotate(129 860 1106)"/>
<ellipse cx="1274" cy="874" rx="25" ry="16" fill="#6A58BE" transform="rotate(120 1274 874)"/>
<ellipse cx="1878" cy="474" rx="24" ry="20" fill="#6A58BE" transform="rotate(10 1878 474)"/>
<ellipse cx="857" cy="1268" rx="21" ry="14" fill="#5646B6" transform="rotate(141 857 1268)"/>
<ellipse cx="1717" cy="1045" rx="24" ry="18" fill="#5646B6" transform="rotate(169 1717 1045)"/>
<ellipse cx="513" cy="369" rx="25" ry="15" fill="#5646B6" transform="rotate(170 513 369)"/>
<ellipse cx="199" cy="1306" rx="23" ry="15" fill="#5646B6" transform="rotate(89 199 1306)"/>
<ellipse cx="692" cy="588" rx="21" ry="17" fill="#5646B6" transform="rotate(36 692 588)"/>
<ellipse cx="834" cy="308" rx="24" ry="18" fill="#7868C6" transform="rotate(167 834 308)"/>
<ellipse cx="1694" cy="1289" rx="20" ry="19" fill="#5646B6" transform="rotate(163 1694 1289)"/>
<ellipse cx="847" cy="1347" rx="17" ry="15" fill="#6A58BE" transform="rotate(87 847 1347)"/>
<ellipse cx="1783" cy="56" rx="24" ry="22" fill="#6A58BE" transform="rotate(155 1783 56)"/>
<ellipse cx="1043" cy="250" rx="25" ry="22" fill="#5646B6" transform="rotate(19 1043 250)"/>
<ellipse cx="939" cy="1207" rx="27" ry="20" fill="#6A58BE" transform="rotate(98 939 1207)"/>
<ellipse cx="1035" cy="958" rx="16" ry="10" fill="#5646B6" transform="rotate(2 1035 958)"/>
<ellipse cx="1326" cy="350" rx="24" ry="19" fill="#5646B6" transform="rotate(93 1326 350)"/>
<ellipse cx="1186" cy="96" rx="22" ry="19" fill="#7868C6" transform="rotate(121 1186 96)"/>
<ellipse cx="343" cy="949" rx="19" ry="14" fill="#5646B6" transform="rotate(80 343 949)"/>
<ellipse cx="777" cy="704" rx="16" ry="13" fill="#6A58BE" transform="rotate(175 777 704)"/>
<ellipse cx="1299" cy="333" rx="23" ry="20" fill="#7868C6" transform="rotate(12 1299 333)"/>
<ellipse cx="206" cy="1151" rx="21" ry="12" fill="#5646B6" transform="rotate(132 206 1151)"/>
<ellipse cx="757" cy="686" rx="25" ry="14" fill="#7868C6" transform="rotate(154 757 686)"/>
<ellipse cx="1238" cy="888" rx="27" ry="24" fill="#5646B6" transform="rotate(169 1238 888)"/>
<ellipse cx="774" cy="717" rx="26" ry="17" fill="#7868C6" transform="rotate(78 774 717)"/>
<ellipse cx="156" cy="1326" rx="27" ry="18" fill="#4636A4" transform="rotate(68 156 1326)"/>
<ellipse cx="1674" cy="875" rx="23" ry="16" fill="#5646B6" transform="rotate(52 1674 875)"/>
<ellipse cx="1532" cy="838" rx="22" ry="18" fill="#4636A4" transform="rotate(176 1532 838)"/>
<ellipse cx="1602" cy="165" rx="25" ry="18" fill="#5646B6" transform="rotate(72 1602 165)"/>
<ellipse cx="1858" cy="824" rx="24" ry="18" fill="#4636A4" transform="rotate(31 1858 824)"/>
<ellipse cx="1589" cy="1146" rx="23" ry="21" fill="#4636A4" transform="rotate(45 1589 1146)"/>
<ellipse cx="1085" cy="904" rx="20" ry="14" fill="#7868C6" transform="rotate(73 1085 904)"/>
<ellipse cx="1906" cy="403" rx="17" ry="11" fill="#6A58BE" transform="rotate(62 1906 403)"/>
<ellipse cx="1228" cy="290" rx="21" ry="17" fill="#7868C6" transform="rotate(92 1228 290)"/>
<ellipse cx="1684" cy="878" rx="22" ry="16" fill="#5646B6" transform="rotate(84 1684 878)"/>
<ellipse cx="83" cy="534" rx="26" ry="24" fill="#6A58BE" transform="rotate(103 83 534)"/>
<ellipse cx="1649" cy="584" rx="22" ry="12" fill="#5646B6" transform="rotate(15 1649 584)"/>
<ellipse cx="1062" cy="1154" rx="15" ry="10" fill="#6A58BE" transform="rotate(89 1062 1154)"/>
<ellipse cx="996" cy="1263" rx="18" ry="15" fill="#4636A4" transform="rotate(5 996 1263)"/>
<ellipse cx="917" cy="524" rx="19" ry="15" fill="#5646B6" transform="rotate(136 917 524)"/>
<ellipse cx="69" cy="694" rx="24" ry="18" fill="#4636A4" transform="rotate(100 69 694)"/>
<ellipse cx="464" cy="1252" rx="17" ry="12" fill="#4636A4" transform="rotate(123 464 1252)"/>
<ellipse cx="1015" cy="668" rx="15" ry="13" fill="#7868C6" transform="rotate(75 1015 668)"/>
<ellipse cx="795" cy="657" rx="21" ry="18" fill="#5646B6" transform="rotate(58 795 657)"/>
<ellipse cx="1317" cy="940" rx="20" ry="18" fill="#6A58BE" transform="rotate(52 1317 940)"/>
<ellipse cx="1558" cy="1155" rx="24" ry="22" fill="#5646B6" transform="rotate(151 1558 1155)"/>
<ellipse cx="1154" cy="150" rx="23" ry="13" fill="#5646B6" transform="rotate(55 1154 150)"/>
<ellipse cx="1630" cy="1008" rx="24" ry="19" fill="#7868C6" transform="rotate(41 1630 1008)"/>
<ellipse cx="1260" cy="182" rx="23" ry="19" fill="#5646B6" transform="rotate(111 1260 182)"/>
<ellipse cx="200" cy="254" rx="23" ry="17" fill="#4636A4" transform="rotate(74 200 254)"/>
<ellipse cx="243" cy="1350" rx="19" ry="12" fill="#7868C6" transform="rotate(7 243 1350)"/>
<ellipse cx="882" cy="1376" rx="16" ry="12" fill="#7868C6" transform="rotate(74 882 1376)"/>
<ellipse cx="1907" cy="1276" rx="15" ry="9" fill="#6A58BE" transform="rotate(159 1907 1276)"/>
<ellipse cx="1679" cy="898" rx="21" ry="15" fill="#4636A4" transform="rotate(142 1679 898)"/>
<ellipse cx="1352" cy="820" rx="21" ry="13" fill="#7868C6" transform="rotate(84 1352 820)"/>
<ellipse cx="77" cy="1117" rx="18" ry="13" fill="#7868C6" transform="rotate(125 77 1117)"/>
<ellipse cx="1766" cy="987" rx="19" ry="18" fill="#7868C6" transform="rotate(22 1766 987)"/>
<ellipse cx="106" cy="988" rx="24" ry="18" fill="#6A58BE" transform="rotate(133 106 988)"/>
<ellipse cx="1002" cy="236" rx="23" ry="18" fill="#4636A4" transform="rotate(119 1002 236)"/>
<ellipse cx="1618" cy="995" rx="21" ry="19" fill="#6A58BE" transform="rotate(152 1618 995)"/>
<ellipse cx="306" cy="345" rx="17" ry="10" fill="#5646B6" transform="rotate(29 306 345)"/>
<ellipse cx="1599" cy="493" rx="18" ry="10" fill="#5646B6" transform="rotate(150 1599 493)"/>
<ellipse cx="153" cy="357" rx="20" ry="15" fill="#6A58BE" transform="rotate(156 153 357)"/>
<ellipse cx="927" cy="1174" rx="24" ry="22" fill="#6A58BE" transform="rotate(112 927 1174)"/>
<ellipse cx="1786" cy="379" rx="24" ry="19" fill="#4636A4" transform="rotate(50 1786 379)"/>
<ellipse cx="987" cy="1058" rx="25" ry="18" fill="#4636A4" transform="rotate(164 987 1058)"/>
<ellipse cx="1531" cy="870" rx="21" ry="17" fill="#5646B6" transform="rotate(150 1531 870)"/>
<ellipse cx="72" cy="362" rx="18" ry="14" fill="#6A58BE" transform="rotate(110 72 362)"/>
<ellipse cx="530" cy="1045" rx="19" ry="12" fill="#4636A4" transform="rotate(29 530 1045)"/>
<ellipse cx="730" cy="962" rx="22" ry="16" fill="#7868C6" transform="rotate(165 730 962)"/>
<ellipse cx="283" cy="955" rx="18" ry="17" fill="#7868C6" transform="rotate(27 283 955)"/>
<ellipse cx="168" cy="1174" rx="27" ry="17" fill="#7868C6" transform="rotate(65 168 1174)"/>
<ellipse cx="520" cy="477" rx="19" ry="15" fill="#5646B6" transform="rotate(128 520 477)"/>
<ellipse cx="1255" cy="1036" rx="18" ry="11" fill="#5646B6"/>
<ellipse cx="383" cy="1410" rx="16" ry="9" fill="#4636A4" transform="rotate(49 383 1410)"/>
<ellipse cx="271" cy="587" rx="19" ry="17" fill="#6A58BE" transform="rotate(11 271 587)"/>
<ellipse cx="661" cy="1212" rx="17" ry="10" fill="#5646B6" transform="rotate(135 661 1212)"/>
<ellipse cx="1028" cy="451" rx="23" ry="16" fill="#4636A4" transform="rotate(159 1028 451)"/>
<ellipse cx="680" cy="107" rx="26" ry="20" fill="#6A58BE" transform="rotate(120 680 107)"/>
<ellipse cx="1790" cy="614" rx="24" ry="17" fill="#4636A4" transform="rotate(129 1790 614)"/>
<ellipse cx="687" cy="1054" rx="21" ry="16" fill="#4636A4" transform="rotate(22 687 1054)"/>
<ellipse cx="1513" cy="524" rx="23" ry="19" fill="#6A58BE" transform="rotate(142 1513 524)"/>
<ellipse cx="1369" cy="1365" rx="23" ry="14" fill="#6A58BE" transform="rotate(56 1369 1365)"/>
<ellipse cx="791" cy="313" rx="19" ry="16" fill="#6A58BE" transform="rotate(132 791 313)"/>
<ellipse cx="1755" cy="984" rx="17" ry="10" fill="#6A58BE" transform="rotate(85 1755 984)"/>
<ellipse cx="836" cy="1027" rx="18" ry="15" fill="#7868C6" transform="rotate(67 836 1027)"/>
<ellipse cx="692" cy="1303" rx="25" ry="17" fill="#7868C6" transform="rotate(42 692 1303)"/>
<ellipse cx="1170" cy="434" rx="23" ry="17" fill="#6A58BE" transform="rotate(114 1170 434)"/>
<ellipse cx="1467" cy="1291" rx="16" ry="12" fill="#5646B6" transform="rotate(110 1467 1291)"/>
<ellipse cx="694" cy="581" rx="20" ry="15" fill="#6A58BE" transform="rotate(133 694 581)"/>
<ellipse cx="934" cy="682" rx="17" ry="10" fill="#6A58BE" transform="rotate(12 934 682)"/>
<ellipse cx="131" cy="1000" rx="25" ry="19" fill="#5646B6" transform="rotate(114 131 1000)"/>
<ellipse cx="355" cy="217" rx="26" ry="23" fill="#7868C6" transform="rotate(153 355 217)"/>
<ellipse cx="1419" cy="456" rx="22" ry="15" fill="#5646B6" transform="rotate(131 1419 456)"/>
<ellipse cx="1442" cy="949" rx="19" ry="14" fill="#7868C6" transform="rotate(23 1442 949)"/>
<ellipse cx="466" cy="740" rx="22" ry="21" fill="#4636A4" transform="rotate(148 466 740)"/>
<ellipse cx="183" cy="1131" rx="22" ry="14" fill="#5646B6" transform="rotate(161 183 1131)"/>
<ellipse cx="1858" cy="951" rx="17" ry="10" fill="#5646B6" transform="rotate(66 1858 951)"/>
<ellipse cx="1639" cy="184" rx="16" ry="9" fill="#5646B6" transform="rotate(84 1639 184)"/>
<ellipse cx="600" cy="605" rx="12" ry="9" fill="#E0409A" transform="rotate(146 600 605)"/>
<ellipse cx="340" cy="745" rx="12" ry="9" fill="#E0409A" transform="rotate(20 340 745)"/>
<ellipse cx="210" cy="690" rx="12" ry="9" fill="#E0409A" transform="rotate(124 210 690)"/>
<ellipse cx="990" cy="240" rx="12" ry="9" fill="#E0409A" transform="rotate(66 990 240)"/>
<ellipse cx="1010" cy="770" rx="12" ry="9" fill="#E0409A" transform="rotate(9 1010 770)"/>
<ellipse cx="300" cy="990" rx="12" ry="9" fill="#E0409A"/>
<ellipse cx="640" cy="1095" rx="12" ry="9" fill="#E0409A" transform="rotate(37 640 1095)"/>
<ellipse cx="120" cy="1240" rx="12" ry="9" fill="#E0409A" transform="rotate(169 120 1240)"/>
<ellipse cx="310" cy="1335" rx="12" ry="9" fill="#E0409A" transform="rotate(150 310 1335)"/>
<ellipse cx="270" cy="1390" rx="12" ry="9" fill="#E0409A" transform="rotate(120 270 1390)"/>
<ellipse cx="1650" cy="610" rx="12" ry="9" fill="#E0409A" transform="rotate(95 1650 610)"/>
<ellipse cx="1840" cy="380" rx="12" ry="9" fill="#E0409A" transform="rotate(81 1840 380)"/>
<ellipse cx="1340" cy="960" rx="12" ry="9" fill="#E0409A" transform="rotate(5 1340 960)"/>
<ellipse cx="1480" cy="930" rx="12" ry="9" fill="#E0409A" transform="rotate(69 1480 930)"/>
</g>
<rect x="560.4" y="1278.2" width="249.2" height="184.4" filter="url(#nz)" opacity="0.3"/>
</g>
<rect x="561.5" y="1279.3" width="247" height="182.2" fill="none" stroke="#000" stroke-width="2.3"/>
<clipPath id="hc7"><rect x="819.1" y="1279.2" width="247.2" height="182.4"/></clipPath>
<g clip-path="url(#hc7)">
<rect x="818.1" y="1278.2" width="249.2" height="184.4" fill="#F680DF"/>
<g transform="translate(814,1272) scale(0.13026)">
<path d="M900,420 C918.3,380 970,376.7 1000,380 C1030,383.3 1070,396.7 1080,440 C1090,483.3 1071.7,590 1060,640 C1048.3,690 1030,720 1010,740 C990,760 960,780 940,760 C920,740 896.7,676.7 890,620 C883.3,563.3 881.7,460 900,420Z" fill="#FDB0F8"/>
<path d="M1000,290 C1023.3,260 1126.7,215 1180,200 C1233.3,185 1303.3,176.7 1320,200 C1336.7,223.3 1308.3,306.7 1280,340 C1251.7,373.3 1190,393.3 1150,400 C1110,406.7 1065,398.3 1040,380 C1015,361.7 976.7,320 1000,290Z" fill="#FCA6F6"/>
<path d="M1280,700 C1305,673.3 1378.3,630 1420,640 C1461.7,650 1520,720 1530,760 C1540,800 1511.7,856.7 1480,880 C1448.3,903.3 1375,913.3 1340,900 C1305,886.7 1280,833.3 1270,800 C1260,766.7 1255,726.7 1280,700Z" fill="#F29AF0"/>
<path d="M50,380 C66.7,378.3 103.3,346.7 150,370 C196.7,393.3 298.3,478.3 330,520 C361.7,561.7 353.3,583.3 340,620 C326.7,656.7 298.3,715 250,740 C201.7,765 83.3,765 50,770" fill="none" stroke="#FFC6F9" stroke-width="8" stroke-linecap="round" stroke-linejoin="round"/>
<path d="M150,370 C158.3,341.7 163.3,233.3 200,200 C236.7,166.7 323.3,153.3 370,170 C416.7,186.7 466.7,268.3 480,300 C493.3,331.7 475,323.3 450,360 C425,396.7 350,493.3 330,520" fill="none" stroke="#FFC6F9" stroke-width="8" stroke-linecap="round" stroke-linejoin="round"/>
<path d="M480,300 C516.7,311.7 636.7,353.3 700,370 C763.3,386.7 833.3,395 860,400" fill="none" stroke="#FFC6F9" stroke-width="8" stroke-linecap="round" stroke-linejoin="round"/>
<path d="M700,370 C705,341.7 713.3,251.7 730,200 C746.7,148.3 788.3,83.3 800,60" fill="none" stroke="#FFC6F9" stroke-width="8" stroke-linecap="round" stroke-linejoin="round"/>
<path d="M340,620 C373.3,621.7 480,671.7 540,630 C600,588.3 673.3,413.3 700,370" fill="none" stroke="#FFC6F9" stroke-width="8" stroke-linecap="round" stroke-linejoin="round"/>
<path d="M540,630 C543.3,650 530,710 560,750 C590,790 690,835 720,870 C750,905 736.7,945 740,960" fill="none" stroke="#FFC6F9" stroke-width="8" stroke-linecap="round" stroke-linejoin="round"/>
<path d="M250,740 C255,766.7 293.3,855 280,900 C266.7,945 208.3,998.3 170,1010 C131.7,1021.7 70,976.7 50,970" fill="none" stroke="#FFC6F9" stroke-width="8" stroke-linecap="round" stroke-linejoin="round"/>
<path d="M280,900 C303.3,905 390,905 420,930 C450,955 453.3,1030 460,1050" fill="none" stroke="#FFC6F9" stroke-width="8" stroke-linecap="round" stroke-linejoin="round"/>
<path d="M170,1010 C166.7,1033.3 168.3,1111.7 150,1150 C131.7,1188.3 75,1225 60,1240" fill="none" stroke="#FFC6F9" stroke-width="8" stroke-linecap="round" stroke-linejoin="round"/>
<path d="M150,1150 C180,1156.7 291.7,1151.7 330,1190 C368.3,1228.3 391.7,1338.3 380,1380 C368.3,1421.7 280,1430 260,1440" fill="none" stroke="#FFC6F9" stroke-width="8" stroke-linecap="round" stroke-linejoin="round"/>
<path d="M460,1050 C500,1060 655,1085 700,1110 C745,1135 738.3,1160 730,1200 C721.7,1240 691.7,1315 650,1350 C608.3,1385 525,1405 480,1410 C435,1415 396.7,1385 380,1380" fill="none" stroke="#FFC6F9" stroke-width="8" stroke-linecap="round" stroke-linejoin="round"/>
<path d="M740,960 C783.3,973.3 918.3,1038.3 1000,1040 C1081.7,1041.7 1180,995 1230,970 C1280,945 1288.3,903.3 1300,890" fill="none" stroke="#FFC6F9" stroke-width="8" stroke-linecap="round" stroke-linejoin="round"/>
<path d="M1000,1040 C981.7,1065 935,1163.3 890,1190 C845,1216.7 756.7,1198.3 730,1200" fill="none" stroke="#FFC6F9" stroke-width="8" stroke-linecap="round" stroke-linejoin="round"/>
<path d="M890,1190 C888.3,1211.7 851.7,1290 880,1320 C908.3,1350 996.7,1368.3 1060,1370 C1123.3,1371.7 1223.3,1358.3 1260,1330 C1296.7,1301.7 1285,1260 1280,1200 C1275,1140 1238.3,1008.3 1230,970" fill="none" stroke="#FFC6F9" stroke-width="8" stroke-linecap="round" stroke-linejoin="round"/>
<path d="M1280,1200 C1308.3,1191.7 1416.7,1178.3 1450,1150 C1483.3,1121.7 1416.7,1056.7 1480,1030 C1543.3,1003.3 1771.7,996.7 1830,990" fill="none" stroke="#FFC6F9" stroke-width="8" stroke-linecap="round" stroke-linejoin="round"/>
<path d="M1300,890 C1330,891.7 1438.3,925 1480,900 C1521.7,875 1491.7,765 1550,740 C1608.3,715 1783.3,748.3 1830,750" fill="none" stroke="#FFC6F9" stroke-width="8" stroke-linecap="round" stroke-linejoin="round"/>
<path d="M1480,1030 L1480,900" fill="none" stroke="#FFC6F9" stroke-width="8" stroke-linecap="round" stroke-linejoin="round"/>
<path d="M1550,740 C1525,711.7 1436.7,618.3 1400,570 C1363.3,521.7 1350,488.3 1330,450 C1310,411.7 1288.3,358.3 1280,340" fill="none" stroke="#FFC6F9" stroke-width="8" stroke-linecap="round" stroke-linejoin="round"/>
<path d="M1400,570 C1450,555 1612.5,498.3 1700,480 C1787.5,461.7 1887.5,463.3 1925,460" fill="none" stroke="#FFC6F9" stroke-width="8" stroke-linecap="round" stroke-linejoin="round"/>
<path d="M1330,200 C1368.3,200 1490,188.3 1560,200 C1630,211.7 1701.7,265 1750,270 C1798.3,275 1833.3,236.7 1850,230" fill="none" stroke="#FFC6F9" stroke-width="8" stroke-linecap="round" stroke-linejoin="round"/>
<path d="M1750,270 C1758.3,296.7 1808.3,395 1800,430 C1791.7,465 1716.7,471.7 1700,480" fill="none" stroke="#FFC6F9" stroke-width="8" stroke-linecap="round" stroke-linejoin="round"/>
<path d="M1080,440 L1280,340" fill="none" stroke="#FFC6F9" stroke-width="8" stroke-linecap="round" stroke-linejoin="round"/>
<path d="M1060,640 L1270,800" fill="none" stroke="#FFC6F9" stroke-width="8" stroke-linecap="round" stroke-linejoin="round"/>
<path d="M1100,60 L1180,200" fill="none" stroke="#FFC6F9" stroke-width="8" stroke-linecap="round" stroke-linejoin="round"/>
<path d="M1450,1150 C1468.3,1161.7 1480.8,1203.3 1560,1220 C1639.2,1236.7 1864.2,1245 1925,1250" fill="none" stroke="#FFC6F9" stroke-width="8" stroke-linecap="round" stroke-linejoin="round"/>
<path d="M650,1350 L700,1440" fill="none" stroke="#FFC6F9" stroke-width="8" stroke-linecap="round" stroke-linejoin="round"/>
<path d="M1060,1370 L1100,1440" fill="none" stroke="#FFC6F9" stroke-width="8" stroke-linecap="round" stroke-linejoin="round"/>
<ellipse cx="575" cy="115" rx="22" ry="17" fill="#7462C8" transform="rotate(9 575 115)"/>
<ellipse cx="575" cy="115" rx="8" ry="6" fill="#C8A0EA"/>
<ellipse cx="975" cy="110" rx="22" ry="17" fill="#7462C8" transform="rotate(73 975 110)"/>
<ellipse cx="975" cy="110" rx="8" ry="6" fill="#C8A0EA"/>
<ellipse cx="935" cy="175" rx="22" ry="17" fill="#7462C8" transform="rotate(178 935 175)"/>
<ellipse cx="935" cy="175" rx="8" ry="6" fill="#C8A0EA"/>
<ellipse cx="850" cy="290" rx="22" ry="17" fill="#7462C8" transform="rotate(36 850 290)"/>
<ellipse cx="850" cy="290" rx="8" ry="6" fill="#C8A0EA"/>
<ellipse cx="1350" cy="90" rx="22" ry="17" fill="#7462C8" transform="rotate(118 1350 90)"/>
<ellipse cx="1350" cy="90" rx="8" ry="6" fill="#C8A0EA"/>
<ellipse cx="1665" cy="75" rx="22" ry="17" fill="#7462C8" transform="rotate(94 1665 75)"/>
<ellipse cx="1665" cy="75" rx="8" ry="6" fill="#C8A0EA"/>
<ellipse cx="175" cy="245" rx="22" ry="17" fill="#7462C8" transform="rotate(171 175 245)"/>
<ellipse cx="175" cy="245" rx="8" ry="6" fill="#C8A0EA"/>
<ellipse cx="300" cy="310" rx="22" ry="17" fill="#7462C8" transform="rotate(178 300 310)"/>
<ellipse cx="300" cy="310" rx="8" ry="6" fill="#C8A0EA"/>
<ellipse cx="610" cy="430" rx="22" ry="17" fill="#7462C8" transform="rotate(24 610 430)"/>
<ellipse cx="610" cy="430" rx="8" ry="6" fill="#C8A0EA"/>
<ellipse cx="440" cy="520" rx="22" ry="17" fill="#7462C8" transform="rotate(116 440 520)"/>
<ellipse cx="440" cy="520" rx="8" ry="6" fill="#C8A0EA"/>
<ellipse cx="1145" cy="265" rx="22" ry="17" fill="#7462C8" transform="rotate(153 1145 265)"/>
<ellipse cx="1145" cy="265" rx="8" ry="6" fill="#C8A0EA"/>
<ellipse cx="985" cy="465" rx="22" ry="17" fill="#7462C8" transform="rotate(127 985 465)"/>
<ellipse cx="985" cy="465" rx="8" ry="6" fill="#C8A0EA"/>
<ellipse cx="980" cy="550" rx="22" ry="17" fill="#7462C8" transform="rotate(155 980 550)"/>
<ellipse cx="980" cy="550" rx="8" ry="6" fill="#C8A0EA"/>
<ellipse cx="1190" cy="590" rx="22" ry="17" fill="#7462C8" transform="rotate(4 1190 590)"/>
<ellipse cx="1190" cy="590" rx="8" ry="6" fill="#C8A0EA"/>
<ellipse cx="1500" cy="320" rx="22" ry="17" fill="#7462C8" transform="rotate(131 1500 320)"/>
<ellipse cx="1500" cy="320" rx="8" ry="6" fill="#C8A0EA"/>
<ellipse cx="1595" cy="385" rx="22" ry="17" fill="#7462C8" transform="rotate(110 1595 385)"/>
<ellipse cx="1595" cy="385" rx="8" ry="6" fill="#C8A0EA"/>
<ellipse cx="1410" cy="400" rx="22" ry="17" fill="#7462C8" transform="rotate(147 1410 400)"/>
<ellipse cx="1410" cy="400" rx="8" ry="6" fill="#C8A0EA"/>
<ellipse cx="1810" cy="430" rx="22" ry="17" fill="#7462C8" transform="rotate(95 1810 430)"/>
<ellipse cx="1810" cy="430" rx="8" ry="6" fill="#C8A0EA"/>
<ellipse cx="775" cy="655" rx="22" ry="17" fill="#7462C8" transform="rotate(159 775 655)"/>
<ellipse cx="775" cy="655" rx="8" ry="6" fill="#C8A0EA"/>
<ellipse cx="420" cy="730" rx="22" ry="17" fill="#7462C8" transform="rotate(140 420 730)"/>
<ellipse cx="420" cy="730" rx="8" ry="6" fill="#C8A0EA"/>
<ellipse cx="620" cy="775" rx="22" ry="17" fill="#7462C8" transform="rotate(111 620 775)"/>
<ellipse cx="620" cy="775" rx="8" ry="6" fill="#C8A0EA"/>
<ellipse cx="1610" cy="630" rx="22" ry="17" fill="#7462C8" transform="rotate(100 1610 630)"/>
<ellipse cx="1610" cy="630" rx="8" ry="6" fill="#C8A0EA"/>
<ellipse cx="1385" cy="745" rx="22" ry="17" fill="#7462C8" transform="rotate(45 1385 745)"/>
<ellipse cx="1385" cy="745" rx="8" ry="6" fill="#C8A0EA"/>
<ellipse cx="155" cy="850" rx="22" ry="17" fill="#7462C8" transform="rotate(14 155 850)"/>
<ellipse cx="155" cy="850" rx="8" ry="6" fill="#C8A0EA"/>
<ellipse cx="1180" cy="865" rx="22" ry="17" fill="#7462C8" transform="rotate(27 1180 865)"/>
<ellipse cx="1180" cy="865" rx="8" ry="6" fill="#C8A0EA"/>
<ellipse cx="1410" cy="855" rx="22" ry="17" fill="#7462C8" transform="rotate(31 1410 855)"/>
<ellipse cx="1410" cy="855" rx="8" ry="6" fill="#C8A0EA"/>
<ellipse cx="1675" cy="880" rx="22" ry="17" fill="#7462C8" transform="rotate(96 1675 880)"/>
<ellipse cx="1675" cy="880" rx="8" ry="6" fill="#C8A0EA"/>
<ellipse cx="580" cy="975" rx="22" ry="17" fill="#7462C8" transform="rotate(39 580 975)"/>
<ellipse cx="580" cy="975" rx="8" ry="6" fill="#C8A0EA"/>
<ellipse cx="915" cy="995" rx="22" ry="17" fill="#7462C8" transform="rotate(24 915 995)"/>
<ellipse cx="915" cy="995" rx="8" ry="6" fill="#C8A0EA"/>
<ellipse cx="1320" cy="965" rx="22" ry="17" fill="#7462C8" transform="rotate(41 1320 965)"/>
<ellipse cx="1320" cy="965" rx="8" ry="6" fill="#C8A0EA"/>
<ellipse cx="285" cy="1065" rx="22" ry="17" fill="#7462C8" transform="rotate(131 285 1065)"/>
<ellipse cx="285" cy="1065" rx="8" ry="6" fill="#C8A0EA"/>
<ellipse cx="1355" cy="1095" rx="22" ry="17" fill="#7462C8" transform="rotate(126 1355 1095)"/>
<ellipse cx="1355" cy="1095" rx="8" ry="6" fill="#C8A0EA"/>
<ellipse cx="1680" cy="1140" rx="22" ry="17" fill="#7462C8" transform="rotate(32 1680 1140)"/>
<ellipse cx="1680" cy="1140" rx="8" ry="6" fill="#C8A0EA"/>
<ellipse cx="1070" cy="1190" rx="22" ry="17" fill="#7462C8" transform="rotate(99 1070 1190)"/>
<ellipse cx="1070" cy="1190" rx="8" ry="6" fill="#C8A0EA"/>
<ellipse cx="480" cy="1245" rx="22" ry="17" fill="#7462C8" transform="rotate(152 480 1245)"/>
<ellipse cx="480" cy="1245" rx="8" ry="6" fill="#C8A0EA"/>
<ellipse cx="770" cy="1325" rx="22" ry="17" fill="#7462C8" transform="rotate(129 770 1325)"/>
<ellipse cx="770" cy="1325" rx="8" ry="6" fill="#C8A0EA"/>
<ellipse cx="200" cy="1350" rx="22" ry="17" fill="#7462C8" transform="rotate(69 200 1350)"/>
<ellipse cx="200" cy="1350" rx="8" ry="6" fill="#C8A0EA"/>
<ellipse cx="1450" cy="1385" rx="22" ry="17" fill="#7462C8" transform="rotate(147 1450 1385)"/>
<ellipse cx="1450" cy="1385" rx="8" ry="6" fill="#C8A0EA"/>
<ellipse cx="1100" cy="1380" rx="22" ry="17" fill="#7462C8" transform="rotate(46 1100 1380)"/>
<ellipse cx="1100" cy="1380" rx="8" ry="6" fill="#C8A0EA"/>
<ellipse cx="1900" cy="1325" rx="22" ry="17" fill="#7462C8" transform="rotate(96 1900 1325)"/>
<ellipse cx="1900" cy="1325" rx="8" ry="6" fill="#C8A0EA"/>
<ellipse cx="150" cy="340" rx="22" ry="9" fill="#5646B6" transform="rotate(120 150 340)"/>
<ellipse cx="365" cy="170" rx="22" ry="9" fill="#5646B6" transform="rotate(9 365 170)"/>
<ellipse cx="460" cy="270" rx="22" ry="9" fill="#5646B6" transform="rotate(70 460 270)"/>
<ellipse cx="565" cy="315" rx="22" ry="9" fill="#5646B6" transform="rotate(30 565 315)"/>
<ellipse cx="600" cy="330" rx="22" ry="9" fill="#5646B6" transform="rotate(30 600 330)"/>
<ellipse cx="730" cy="260" rx="22" ry="9" fill="#5646B6" transform="rotate(100 730 260)"/>
<ellipse cx="650" cy="490" rx="22" ry="9" fill="#5646B6" transform="rotate(130 650 490)"/>
<ellipse cx="620" cy="520" rx="22" ry="9" fill="#5646B6" transform="rotate(130 620 520)"/>
<ellipse cx="340" cy="600" rx="22" ry="9" fill="#5646B6" transform="rotate(80 340 600)"/>
<ellipse cx="525" cy="630" rx="22" ry="9" fill="#5646B6" transform="rotate(73 525 630)"/>
<ellipse cx="235" cy="740" rx="22" ry="9" fill="#5646B6" transform="rotate(178 235 740)"/>
<ellipse cx="560" cy="720" rx="22" ry="9" fill="#5646B6" transform="rotate(60 560 720)"/>
<ellipse cx="700" cy="850" rx="22" ry="9" fill="#5646B6" transform="rotate(50 700 850)"/>
<ellipse cx="480" cy="830" rx="22" ry="9" fill="#5646B6" transform="rotate(110 480 830)"/>
<ellipse cx="400" cy="935" rx="22" ry="9" fill="#5646B6" transform="rotate(36 400 935)"/>
<ellipse cx="750" cy="970" rx="22" ry="9" fill="#5646B6" transform="rotate(110 750 970)"/>
<ellipse cx="110" cy="1010" rx="22" ry="9" fill="#5646B6" transform="rotate(118 110 1010)"/>
<ellipse cx="180" cy="1015" rx="22" ry="9" fill="#5646B6" transform="rotate(140 180 1015)"/>
<ellipse cx="150" cy="1060" rx="22" ry="9" fill="#5646B6" transform="rotate(90 150 1060)"/>
<ellipse cx="440" cy="1075" rx="22" ry="9" fill="#5646B6" transform="rotate(150 440 1075)"/>
<ellipse cx="410" cy="1090" rx="22" ry="9" fill="#5646B6" transform="rotate(150 410 1090)"/>
<ellipse cx="105" cy="1210" rx="22" ry="9" fill="#5646B6" transform="rotate(130 105 1210)"/>
<ellipse cx="720" cy="1110" rx="22" ry="9" fill="#5646B6" transform="rotate(100 720 1110)"/>
<ellipse cx="730" cy="1200" rx="22" ry="9" fill="#5646B6" transform="rotate(90 730 1200)"/>
<ellipse cx="980" cy="1090" rx="22" ry="9" fill="#5646B6" transform="rotate(94 980 1090)"/>
<ellipse cx="1020" cy="790" rx="22" ry="9" fill="#5646B6" transform="rotate(140 1020 790)"/>
<ellipse cx="930" cy="780" rx="22" ry="9" fill="#5646B6" transform="rotate(171 930 780)"/>
<ellipse cx="905" cy="700" rx="22" ry="9" fill="#5646B6" transform="rotate(70 905 700)"/>
<ellipse cx="880" cy="520" rx="22" ry="9" fill="#5646B6" transform="rotate(90 880 520)"/>
<ellipse cx="1080" cy="540" rx="22" ry="9" fill="#5646B6" transform="rotate(90 1080 540)"/>
<ellipse cx="1030" cy="360" rx="22" ry="9" fill="#5646B6" transform="rotate(30 1030 360)"/>
<ellipse cx="1210" cy="390" rx="22" ry="9" fill="#5646B6" transform="rotate(178 1210 390)"/>
<ellipse cx="1270" cy="370" rx="22" ry="9" fill="#5646B6" transform="rotate(100 1270 370)"/>
<ellipse cx="1615" cy="510" rx="22" ry="9" fill="#5646B6" transform="rotate(160 1615 510)"/>
<ellipse cx="1660" cy="500" rx="22" ry="9" fill="#5646B6" transform="rotate(160 1660 500)"/>
<ellipse cx="1545" cy="210" rx="22" ry="9" fill="#5646B6" transform="rotate(20 1545 210)"/>
<ellipse cx="1830" cy="230" rx="22" ry="9" fill="#5646B6" transform="rotate(160 1830 230)"/>
<ellipse cx="1140" cy="100" rx="22" ry="9" fill="#5646B6" transform="rotate(70 1140 100)"/>
<ellipse cx="1170" cy="130" rx="22" ry="9" fill="#5646B6" transform="rotate(110 1170 130)"/>
<ellipse cx="1405" cy="590" rx="22" ry="9" fill="#5646B6" transform="rotate(60 1405 590)"/>
<ellipse cx="1590" cy="745" rx="22" ry="9" fill="#5646B6" transform="rotate(24 1590 745)"/>
<ellipse cx="1810" cy="720" rx="22" ry="9" fill="#5646B6" transform="rotate(80 1810 720)"/>
<ellipse cx="1300" cy="890" rx="22" ry="9" fill="#5646B6" transform="rotate(150 1300 890)"/>
<ellipse cx="1270" cy="915" rx="22" ry="9" fill="#5646B6" transform="rotate(150 1270 915)"/>
<ellipse cx="1430" cy="905" rx="22" ry="9" fill="#5646B6" transform="rotate(116 1430 905)"/>
<ellipse cx="1480" cy="930" rx="22" ry="9" fill="#5646B6" transform="rotate(60 1480 930)"/>
<ellipse cx="1820" cy="990" rx="22" ry="9" fill="#5646B6" transform="rotate(150 1820 990)"/>
<ellipse cx="1470" cy="1080" rx="22" ry="9" fill="#5646B6" transform="rotate(120 1470 1080)"/>
<ellipse cx="1430" cy="1150" rx="22" ry="9" fill="#5646B6" transform="rotate(30 1430 1150)"/>
<ellipse cx="1280" cy="1200" rx="22" ry="9" fill="#5646B6" transform="rotate(90 1280 1200)"/>
<ellipse cx="1390" cy="1260" rx="22" ry="9" fill="#5646B6" transform="rotate(100 1390 1260)"/>
<ellipse cx="880" cy="1290" rx="22" ry="9" fill="#5646B6" transform="rotate(90 880 1290)"/>
<ellipse cx="1020" cy="1350" rx="22" ry="9" fill="#5646B6" transform="rotate(30 1020 1350)"/>
<ellipse cx="660" cy="1360" rx="22" ry="9" fill="#5646B6" transform="rotate(140 660 1360)"/>
<ellipse cx="520" cy="1410" rx="22" ry="9" fill="#5646B6" transform="rotate(160 520 1410)"/>
<ellipse cx="370" cy="1300" rx="22" ry="9" fill="#5646B6" transform="rotate(60 370 1300)"/>
<ellipse cx="380" cy="1350" rx="22" ry="9" fill="#5646B6" transform="rotate(60 380 1350)"/>
<ellipse cx="90" cy="1230" rx="22" ry="9" fill="#5646B6" transform="rotate(130 90 1230)"/>
<ellipse cx="1925" cy="890" rx="22" ry="9" fill="#5646B6" transform="rotate(90 1925 890)"/>
<ellipse cx="60" cy="90" rx="22" ry="9" fill="#5646B6" transform="rotate(30 60 90)"/>
</g>
<rect x="818.1" y="1278.2" width="249.2" height="184.4" filter="url(#nz)" opacity="0.45"/>
</g>
<rect x="819.2" y="1279.3" width="247" height="182.2" fill="none" stroke="#000" stroke-width="2.3"/>
<rect x="997" y="1442" width="51.6" height="6.4" fill="#000"/>
</svg>
</body></html>
